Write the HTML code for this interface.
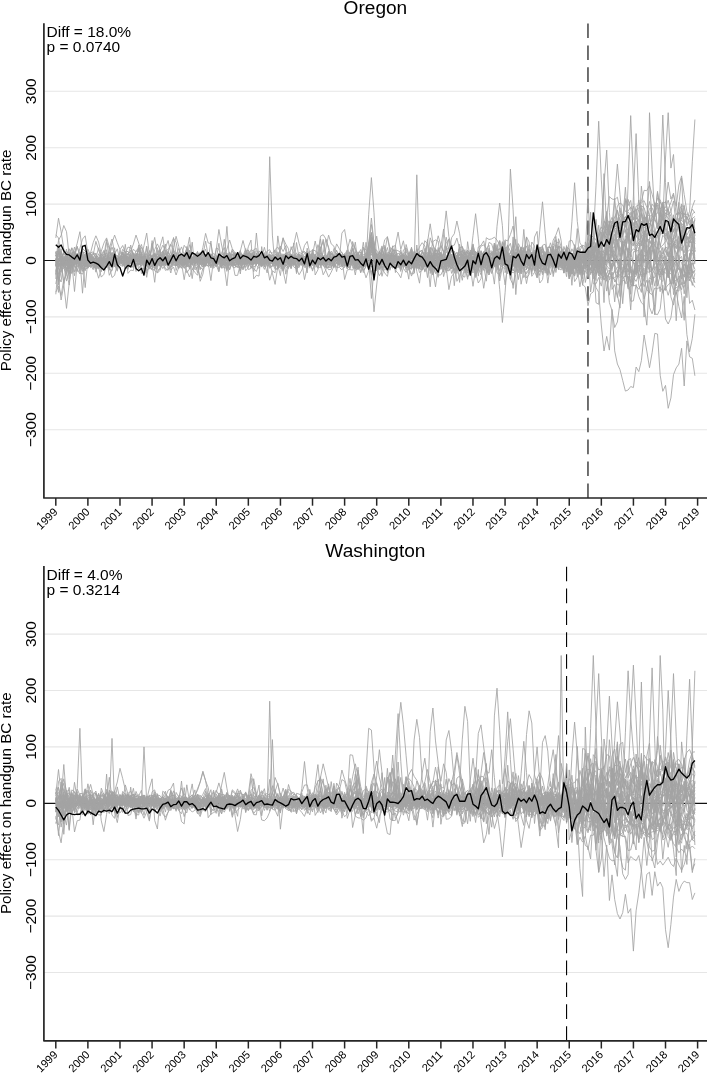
<!DOCTYPE html>
<html><head><meta charset="utf-8"><title>Policy effect</title>
<style>
html,body{margin:0;padding:0;background:#fff;}
body{width:707px;height:1073px;overflow:hidden;}
svg{display:block;}
.t{font-family:"Liberation Sans", Arial, Helvetica, sans-serif;font-size:15.5px;fill:#000;}
.tx{font-family:"Liberation Sans", Arial, Helvetica, sans-serif;font-size:11.2px;fill:#000;}
.ty{font-family:"Liberation Sans", Arial, Helvetica, sans-serif;font-size:15.2px;fill:#000;}
.ti{font-family:"Liberation Sans", Arial, Helvetica, sans-serif;font-size:19.1px;fill:#000;}
</style></head><body>
<svg width="707" height="1073" viewBox="0 0 707 1073">
<rect width="707" height="1073" fill="#fff"/>
<line x1="43.9" y1="91.30" x2="707" y2="91.30" stroke="#e6e6e6" stroke-width="1.1"/>
<line x1="43.9" y1="147.70" x2="707" y2="147.70" stroke="#e6e6e6" stroke-width="1.1"/>
<line x1="43.9" y1="204.10" x2="707" y2="204.10" stroke="#e6e6e6" stroke-width="1.1"/>
<line x1="43.9" y1="316.90" x2="707" y2="316.90" stroke="#e6e6e6" stroke-width="1.1"/>
<line x1="43.9" y1="373.30" x2="707" y2="373.30" stroke="#e6e6e6" stroke-width="1.1"/>
<line x1="43.9" y1="429.70" x2="707" y2="429.70" stroke="#e6e6e6" stroke-width="1.1"/>
<line x1="43.9" y1="260.50" x2="707" y2="260.50" stroke="#111" stroke-width="1.2"/>
<line x1="587.96" y1="498.00" x2="587.96" y2="23.30" stroke="#6a6a6a" stroke-width="1.9" stroke-dasharray="14.6 7.3"/>
<polyline points="55.8,237.9 58.5,218.2 61.1,231.6 63.8,249.2 66.5,255.7 69.2,273.4 71.8,259.5 74.5,259.4 77.2,259.6 79.9,262.5 82.5,257.5 85.2,254.6 87.9,259.2 90.6,260.9 93.2,263.2 95.9,262.3 98.6,258.6 101.3,259.8 103.9,263.8 106.6,259.5 109.3,256.8 112.0,259.9 114.6,254.8 117.3,255.5 120.0,259.3 122.7,257.5 125.3,268.4 128.0,262.1 130.7,252.2 133.4,254.1 136.0,261.7 138.7,261.2 141.4,263.1 144.0,264.3 146.7,262.1 149.4,262.6 152.1,265.9 154.7,261.9 157.4,268.8 160.1,254.7 162.8,256.4 165.4,258.8 168.1,251.0 170.8,257.0 173.5,258.3 176.1,255.4 178.8,248.5 181.5,255.7 184.2,245.3 186.8,248.8 189.5,253.9 192.2,262.3 194.9,264.1 197.5,257.7 200.2,260.0 202.9,261.9 205.6,255.3 208.2,259.4 210.9,254.7 213.6,256.7 216.2,261.4 218.9,269.1 221.6,264.1 224.3,255.1 226.9,258.7 229.6,264.4 232.3,266.0 235.0,263.5 237.6,263.1 240.3,261.6 243.0,263.2 245.7,254.5 248.3,254.8 251.0,264.9 253.7,254.7 256.4,260.9 259.0,260.4 261.7,257.1 264.4,247.3 267.1,258.5 269.7,260.4 272.4,264.5 275.1,261.4 277.8,261.7 280.4,263.7 283.1,259.2 285.8,259.4 288.5,257.3 291.1,256.0 293.8,257.2 296.5,260.6 299.1,257.8 301.8,265.1 304.5,262.2 307.2,259.8 309.8,261.6 312.5,264.7 315.2,262.1 317.9,263.3 320.5,252.7 323.2,256.6 325.9,267.6 328.6,260.6 331.2,265.1 333.9,266.4 336.6,262.2 339.3,259.0 341.9,254.8 344.6,256.3 347.3,258.9 350.0,258.6 352.6,253.7 355.3,261.5 358.0,261.6 360.7,265.1 363.3,263.4 366.0,255.6 368.7,249.0 371.4,241.7 374.0,256.7 376.7,255.8 379.4,262.0 382.0,263.1 384.7,267.0 387.4,266.7 390.1,256.6 392.7,260.2 395.4,249.9 398.1,250.8 400.8,252.3 403.4,262.8 406.1,261.7 408.8,270.4 411.5,262.3 414.1,263.5 416.8,262.1 419.5,253.4 422.2,255.7 424.8,259.3 427.5,258.2 430.2,270.7 432.9,271.2 435.5,263.4 438.2,260.6 440.9,252.0 443.6,262.5 446.2,265.4 448.9,256.3 451.6,262.9 454.3,262.2 456.9,267.5 459.6,252.1 462.3,251.1 464.9,263.9 467.6,273.1 470.3,259.7 473.0,248.7 475.6,260.5 478.3,256.3 481.0,258.5 483.7,261.8 486.3,260.1 489.0,251.5 491.7,250.9 494.4,254.2 497.0,259.9 499.7,263.4 502.4,263.4 505.1,267.2 507.7,258.3 510.4,259.2 513.1,260.1 515.8,265.6 518.4,264.9 521.1,252.5 523.8,252.4 526.5,245.9 529.1,255.1 531.8,259.5 534.5,254.0 537.1,263.7 539.8,261.8 542.5,246.0 545.2,263.8 547.8,273.6 550.5,259.3 553.2,263.4 555.9,260.0 558.5,268.8 561.2,269.9 563.9,264.8 566.6,253.4 569.2,278.3 571.9,272.8 574.6,275.9 577.3,250.8 579.9,264.8 582.6,256.9 585.3,265.4 588.0,269.2 590.6,259.0 593.3,246.9 596.0,265.6 598.7,252.5 601.3,268.2 604.0,267.0 606.7,281.2 609.4,273.2 612.0,262.6 614.7,259.7 617.4,259.0 620.0,269.2 622.7,267.2 625.4,268.1 628.1,287.5 630.7,257.6 633.4,263.2 636.1,264.2 638.8,266.0 641.4,264.6 644.1,255.1 646.8,259.0 649.5,265.2 652.1,270.1 654.8,267.6 657.5,265.9 660.2,255.1 662.8,270.6 665.5,290.5 668.2,258.6 670.9,265.5 673.5,279.7 676.2,285.9 678.9,272.6 681.6,269.8 684.2,277.2 686.9,252.7 689.6,268.3 692.3,274.9 694.9,270.5" fill="none" stroke="#a3a3a3" stroke-width="0.85" stroke-linejoin="round"/>
<polyline points="55.8,260.1 58.5,240.4 61.1,235.4 63.8,225.5 66.5,231.7 69.2,256.2 71.8,263.9 74.5,253.0 77.2,243.3 79.9,231.7 82.5,252.3 85.2,252.8 87.9,266.5 90.6,255.9 93.2,253.0 95.9,256.9 98.6,264.5 101.3,269.1 103.9,258.1 106.6,260.4 109.3,266.3 112.0,277.5 114.6,275.4 117.3,264.0 120.0,260.8 122.7,266.1 125.3,261.0 128.0,263.1 130.7,267.2 133.4,266.3 136.0,254.8 138.7,257.0 141.4,267.9 144.0,268.8 146.7,263.4 149.4,266.9 152.1,266.7 154.7,267.7 157.4,269.9 160.1,269.6 162.8,262.2 165.4,257.2 168.1,255.8 170.8,260.7 173.5,237.5 176.1,254.1 178.8,258.2 181.5,260.4 184.2,260.2 186.8,246.5 189.5,261.3 192.2,278.6 194.9,258.7 197.5,254.2 200.2,253.2 202.9,263.9 205.6,259.2 208.2,259.8 210.9,261.6 213.6,264.3 216.2,259.5 218.9,258.8 221.6,258.6 224.3,257.0 226.9,226.4 229.6,261.3 232.3,255.1 235.0,253.5 237.6,259.3 240.3,273.9 243.0,256.0 245.7,248.5 248.3,258.0 251.0,249.5 253.7,251.4 256.4,261.7 259.0,264.9 261.7,252.0 264.4,258.0 267.1,262.0 269.7,268.3 272.4,266.0 275.1,261.9 277.8,259.5 280.4,266.0 283.1,269.7 285.8,255.8 288.5,251.8 291.1,254.7 293.8,262.6 296.5,268.8 299.1,274.8 301.8,270.0 304.5,262.6 307.2,261.2 309.8,262.6 312.5,265.5 315.2,261.4 317.9,267.3 320.5,248.3 323.2,241.7 325.9,259.9 328.6,251.2 331.2,259.2 333.9,260.3 336.6,271.6 339.3,257.3 341.9,257.7 344.6,258.1 347.3,268.5 350.0,257.1 352.6,248.2 355.3,265.5 358.0,269.5 360.7,263.0 363.3,248.8 366.0,249.4 368.7,254.3 371.4,252.4 374.0,252.1 376.7,236.1 379.4,252.6 382.0,263.2 384.7,246.6 387.4,273.2 390.1,263.3 392.7,245.8 395.4,272.6 398.1,261.2 400.8,263.6 403.4,257.6 406.1,265.2 408.8,279.2 411.5,247.2 414.1,272.8 416.8,245.0 419.5,266.6 422.2,256.2 424.8,258.0 427.5,263.4 430.2,286.8 432.9,255.9 435.5,257.2 438.2,269.8 440.9,265.3 443.6,259.6 446.2,272.7 448.9,266.8 451.6,256.1 454.3,285.7 456.9,260.2 459.6,282.4 462.3,246.4 464.9,254.0 467.6,251.9 470.3,266.7 473.0,286.3 475.6,268.3 478.3,261.9 481.0,266.5 483.7,260.9 486.3,250.7 489.0,260.5 491.7,261.9 494.4,264.1 497.0,266.0 499.7,253.1 502.4,249.0 505.1,251.4 507.7,252.1 510.4,265.3 513.1,256.9 515.8,253.1 518.4,251.3 521.1,263.5 523.8,229.4 526.5,259.9 529.1,264.8 531.8,257.8 534.5,258.3 537.1,258.6 539.8,247.7 542.5,246.9 545.2,261.4 547.8,265.5 550.5,267.7 553.2,265.3 555.9,263.4 558.5,246.6 561.2,248.2 563.9,264.5 566.6,265.8 569.2,263.0 571.9,273.2 574.6,260.9 577.3,276.8 579.9,263.2 582.6,278.7 585.3,241.9 588.0,250.5 590.6,239.3 593.3,258.1 596.0,302.7 598.7,304.3 601.3,237.7 604.0,221.2 606.7,224.5 609.4,237.6 612.0,289.4 614.7,284.6 617.4,297.5 620.0,284.0 622.7,271.6 625.4,264.2 628.1,248.0 630.7,271.1 633.4,286.2 636.1,254.6 638.8,285.5 641.4,292.4 644.1,244.7 646.8,273.3 649.5,307.3 652.1,313.8 654.8,304.5 657.5,267.8 660.2,258.8 662.8,247.4 665.5,264.1 668.2,262.1 670.9,227.3 673.5,271.8 676.2,320.8 678.9,276.0 681.6,295.3 684.2,320.3 686.9,265.1 689.6,303.4 692.3,300.2 694.9,310.0" fill="none" stroke="#a3a3a3" stroke-width="0.85" stroke-linejoin="round"/>
<polyline points="55.8,263.5 58.5,279.6 61.1,300.0 63.8,285.4 66.5,263.5 69.2,262.9 71.8,262.7 74.5,257.3 77.2,262.6 79.9,259.9 82.5,261.7 85.2,264.1 87.9,263.8 90.6,258.6 93.2,261.4 95.9,261.4 98.6,260.0 101.3,254.4 103.9,258.1 106.6,260.1 109.3,258.2 112.0,260.5 114.6,263.9 117.3,260.6 120.0,261.6 122.7,264.9 125.3,260.2 128.0,262.8 130.7,257.4 133.4,258.4 136.0,258.2 138.7,258.5 141.4,260.9 144.0,259.1 146.7,260.2 149.4,259.2 152.1,258.8 154.7,260.0 157.4,259.2 160.1,260.4 162.8,256.5 165.4,260.7 168.1,263.0 170.8,262.5 173.5,260.7 176.1,259.9 178.8,263.1 181.5,259.5 184.2,257.4 186.8,263.0 189.5,258.2 192.2,260.7 194.9,262.0 197.5,261.5 200.2,261.3 202.9,260.8 205.6,262.8 208.2,261.2 210.9,258.7 213.6,260.8 216.2,261.9 218.9,264.0 221.6,268.1 224.3,267.4 226.9,268.6 229.6,261.6 232.3,255.9 235.0,255.6 237.6,259.3 240.3,256.6 243.0,259.9 245.7,263.7 248.3,262.8 251.0,260.6 253.7,258.7 256.4,259.9 259.0,261.4 261.7,261.6 264.4,263.3 267.1,261.9 269.7,260.1 272.4,263.5 275.1,264.0 277.8,261.8 280.4,261.1 283.1,263.3 285.8,261.8 288.5,263.4 291.1,258.5 293.8,260.6 296.5,260.4 299.1,265.1 301.8,261.4 304.5,262.9 307.2,263.9 309.8,262.4 312.5,263.4 315.2,258.5 317.9,260.1 320.5,263.0 323.2,262.3 325.9,262.2 328.6,257.6 331.2,257.8 333.9,259.8 336.6,260.1 339.3,264.4 341.9,263.3 344.6,254.6 347.3,249.9 350.0,239.2 352.6,246.0 355.3,256.6 358.0,268.0 360.7,263.7 363.3,259.6 366.0,261.7 368.7,254.3 371.4,248.1 374.0,257.2 376.7,253.9 379.4,259.5 382.0,261.5 384.7,262.7 387.4,257.8 390.1,258.3 392.7,252.9 395.4,258.8 398.1,264.3 400.8,265.3 403.4,263.0 406.1,261.0 408.8,267.8 411.5,263.8 414.1,260.7 416.8,263.7 419.5,264.2 422.2,262.9 424.8,261.9 427.5,259.7 430.2,260.7 432.9,259.8 435.5,258.3 438.2,260.5 440.9,261.7 443.6,264.1 446.2,265.3 448.9,258.7 451.6,259.9 454.3,255.5 456.9,259.2 459.6,254.2 462.3,254.3 464.9,256.9 467.6,256.7 470.3,252.4 473.0,254.3 475.6,254.8 478.3,258.8 481.0,260.8 483.7,258.1 486.3,262.4 489.0,261.8 491.7,264.2 494.4,266.5 497.0,264.0 499.7,270.9 502.4,258.3 505.1,239.8 507.7,241.0 510.4,234.6 513.1,226.0 515.8,245.7 518.4,259.3 521.1,258.9 523.8,260.7 526.5,264.5 529.1,259.7 531.8,254.6 534.5,252.7 537.1,258.6 539.8,262.1 542.5,264.2 545.2,262.0 547.8,255.8 550.5,261.6 553.2,265.6 555.9,249.5 558.5,259.9 561.2,263.9 563.9,261.4 566.6,259.3 569.2,265.5 571.9,263.3 574.6,263.1 577.3,266.2 579.9,258.9 582.6,253.1 585.3,256.1 588.0,243.1 590.6,260.9 593.3,246.0 596.0,250.5 598.7,251.2 601.3,257.2 604.0,258.6 606.7,250.3 609.4,262.3 612.0,278.9 614.7,269.9 617.4,267.1 620.0,269.5 622.7,260.4 625.4,259.1 628.1,259.9 630.7,268.6 633.4,272.4 636.1,273.5 638.8,267.5 641.4,249.4 644.1,261.4 646.8,254.6 649.5,247.6 652.1,277.6 654.8,277.3 657.5,272.0 660.2,268.6 662.8,263.2 665.5,259.4 668.2,274.0 670.9,283.6 673.5,256.0 676.2,262.8 678.9,269.9 681.6,269.2 684.2,257.5 686.9,252.4 689.6,249.8 692.3,252.8 694.9,262.0" fill="none" stroke="#a3a3a3" stroke-width="0.85" stroke-linejoin="round"/>
<polyline points="55.8,252.3 58.5,261.8 61.1,259.2 63.8,284.5 66.5,308.4 69.2,283.4 71.8,258.6 74.5,271.8 77.2,260.8 79.9,255.7 82.5,271.5 85.2,266.0 87.9,265.3 90.6,266.2 93.2,258.9 95.9,260.4 98.6,257.9 101.3,263.5 103.9,263.3 106.6,249.7 109.3,265.5 112.0,265.2 114.6,266.4 117.3,261.9 120.0,264.6 122.7,256.5 125.3,255.9 128.0,258.5 130.7,253.3 133.4,267.2 136.0,255.6 138.7,250.0 141.4,257.0 144.0,261.5 146.7,254.4 149.4,258.9 152.1,248.4 154.7,237.4 157.4,253.8 160.1,259.0 162.8,265.8 165.4,259.0 168.1,257.3 170.8,262.5 173.5,260.8 176.1,255.9 178.8,260.6 181.5,264.7 184.2,262.7 186.8,263.1 189.5,259.2 192.2,258.1 194.9,257.0 197.5,265.1 200.2,252.4 202.9,255.2 205.6,249.2 208.2,259.3 210.9,254.3 213.6,266.4 216.2,259.3 218.9,264.7 221.6,260.5 224.3,266.1 226.9,267.7 229.6,257.8 232.3,254.1 235.0,258.0 237.6,254.2 240.3,262.2 243.0,257.2 245.7,259.5 248.3,253.4 251.0,260.9 253.7,256.5 256.4,260.9 259.0,250.8 261.7,255.2 264.4,262.8 267.1,259.5 269.7,264.5 272.4,258.4 275.1,264.6 277.8,254.5 280.4,250.6 283.1,238.3 285.8,244.1 288.5,248.8 291.1,268.3 293.8,260.7 296.5,259.3 299.1,256.1 301.8,255.8 304.5,259.2 307.2,257.6 309.8,264.4 312.5,264.2 315.2,262.1 317.9,262.1 320.5,264.8 323.2,256.4 325.9,254.6 328.6,257.9 331.2,259.4 333.9,256.8 336.6,259.7 339.3,260.7 341.9,265.7 344.6,261.9 347.3,263.1 350.0,267.5 352.6,262.8 355.3,262.4 358.0,261.6 360.7,267.1 363.3,268.1 366.0,258.7 368.7,251.8 371.4,240.3 374.0,252.7 376.7,266.1 379.4,267.5 382.0,266.6 384.7,267.8 387.4,265.0 390.1,262.6 392.7,258.1 395.4,259.1 398.1,259.1 400.8,259.8 403.4,263.9 406.1,258.4 408.8,254.6 411.5,250.8 414.1,265.2 416.8,268.1 419.5,254.7 422.2,269.9 424.8,263.7 427.5,260.2 430.2,255.6 432.9,262.4 435.5,253.2 438.2,258.1 440.9,246.0 443.6,229.1 446.2,250.0 448.9,247.5 451.6,265.6 454.3,260.8 456.9,255.8 459.6,258.2 462.3,257.2 464.9,256.9 467.6,260.3 470.3,266.1 473.0,262.7 475.6,262.5 478.3,251.7 481.0,272.0 483.7,253.8 486.3,260.5 489.0,254.5 491.7,264.0 494.4,254.0 497.0,254.1 499.7,261.9 502.4,256.4 505.1,256.5 507.7,268.4 510.4,269.0 513.1,260.8 515.8,267.6 518.4,265.8 521.1,273.8 523.8,252.3 526.5,251.0 529.1,263.7 531.8,270.4 534.5,256.3 537.1,251.0 539.8,259.0 542.5,263.8 545.2,270.5 547.8,257.1 550.5,253.6 553.2,252.7 555.9,262.7 558.5,257.9 561.2,261.8 563.9,256.7 566.6,249.2 569.2,264.9 571.9,270.3 574.6,255.4 577.3,265.2 579.9,273.7 582.6,259.8 585.3,256.9 588.0,255.6 590.6,235.8 593.3,236.8 596.0,249.8 598.7,225.1 601.3,251.3 604.0,271.8 606.7,211.4 609.4,262.7 612.0,240.1 614.7,265.7 617.4,242.5 620.0,269.2 622.7,246.2 625.4,255.2 628.1,229.0 630.7,267.8 633.4,286.0 636.1,251.3 638.8,231.6 641.4,235.5 644.1,265.7 646.8,268.4 649.5,237.7 652.1,238.9 654.8,254.4 657.5,270.8 660.2,269.4 662.8,270.7 665.5,267.4 668.2,243.7 670.9,263.7 673.5,284.3 676.2,269.3 678.9,239.5 681.6,207.9 684.2,223.9 686.9,270.8 689.6,258.1 692.3,273.2 694.9,269.7" fill="none" stroke="#a3a3a3" stroke-width="0.85" stroke-linejoin="round"/>
<polyline points="55.8,272.1 58.5,267.9 61.1,272.4 63.8,259.2 66.5,259.4 69.2,253.1 71.8,262.1 74.5,291.5 77.2,263.3 79.9,256.7 82.5,261.7 85.2,260.0 87.9,261.2 90.6,259.0 93.2,257.4 95.9,265.0 98.6,268.7 101.3,259.7 103.9,270.9 106.6,259.3 109.3,259.4 112.0,259.6 114.6,258.9 117.3,262.5 120.0,260.4 122.7,256.5 125.3,264.1 128.0,258.5 130.7,258.3 133.4,257.4 136.0,259.4 138.7,265.3 141.4,262.3 144.0,256.9 146.7,260.1 149.4,262.5 152.1,261.5 154.7,259.2 157.4,260.5 160.1,253.8 162.8,261.2 165.4,263.4 168.1,260.9 170.8,262.4 173.5,263.3 176.1,262.7 178.8,254.2 181.5,259.5 184.2,262.1 186.8,263.8 189.5,264.5 192.2,260.8 194.9,262.5 197.5,262.2 200.2,257.0 202.9,251.9 205.6,262.2 208.2,262.8 210.9,267.7 213.6,264.8 216.2,263.0 218.9,260.9 221.6,262.6 224.3,257.4 226.9,258.5 229.6,253.5 232.3,260.6 235.0,252.2 237.6,262.7 240.3,262.2 243.0,260.3 245.7,260.3 248.3,256.8 251.0,260.5 253.7,261.9 256.4,261.3 259.0,262.5 261.7,258.5 264.4,257.3 267.1,260.1 269.7,261.2 272.4,257.3 275.1,263.3 277.8,261.6 280.4,261.0 283.1,259.2 285.8,253.4 288.5,260.3 291.1,263.9 293.8,259.7 296.5,261.7 299.1,259.0 301.8,258.4 304.5,264.2 307.2,260.5 309.8,266.0 312.5,263.0 315.2,261.5 317.9,263.9 320.5,264.8 323.2,259.4 325.9,260.0 328.6,259.0 331.2,259.0 333.9,262.6 336.6,253.5 339.3,255.8 341.9,266.2 344.6,267.5 347.3,255.2 350.0,257.1 352.6,257.2 355.3,260.8 358.0,260.5 360.7,272.8 363.3,260.4 366.0,260.0 368.7,270.5 371.4,272.2 374.0,264.9 376.7,268.8 379.4,259.1 382.0,253.3 384.7,258.9 387.4,259.8 390.1,262.9 392.7,254.7 395.4,260.3 398.1,256.2 400.8,269.3 403.4,255.1 406.1,264.4 408.8,267.6 411.5,267.9 414.1,255.0 416.8,253.7 419.5,246.8 422.2,242.7 424.8,246.0 427.5,257.8 430.2,250.3 432.9,263.5 435.5,267.4 438.2,271.0 440.9,259.2 443.6,252.3 446.2,237.2 448.9,249.8 451.6,257.5 454.3,261.8 456.9,255.6 459.6,263.2 462.3,259.6 464.9,261.2 467.6,263.0 470.3,264.5 473.0,249.9 475.6,254.3 478.3,262.3 481.0,267.9 483.7,262.4 486.3,253.7 489.0,242.4 491.7,243.9 494.4,253.5 497.0,255.1 499.7,251.9 502.4,265.4 505.1,252.7 507.7,259.0 510.4,274.1 513.1,265.2 515.8,264.4 518.4,260.0 521.1,246.9 523.8,249.4 526.5,255.6 529.1,266.0 531.8,259.2 534.5,250.3 537.1,259.4 539.8,264.0 542.5,263.8 545.2,265.2 547.8,261.1 550.5,266.3 553.2,260.3 555.9,262.8 558.5,254.9 561.2,251.6 563.9,254.8 566.6,256.2 569.2,268.3 571.9,261.8 574.6,263.9 577.3,264.3 579.9,271.6 582.6,259.7 585.3,263.0 588.0,272.8 590.6,268.1 593.3,261.3 596.0,273.6 598.7,255.8 601.3,259.6 604.0,258.5 606.7,266.0 609.4,247.6 612.0,248.0 614.7,269.6 617.4,273.5 620.0,261.7 622.7,264.2 625.4,270.4 628.1,289.1 630.7,286.8 633.4,281.7 636.1,269.6 638.8,247.2 641.4,245.3 644.1,231.1 646.8,248.6 649.5,268.0 652.1,273.5 654.8,286.2 657.5,269.7 660.2,250.5 662.8,258.9 665.5,255.4 668.2,251.6 670.9,266.7 673.5,273.5 676.2,261.9 678.9,266.7 681.6,269.5 684.2,293.8 686.9,275.8 689.6,256.5 692.3,249.8 694.9,255.3" fill="none" stroke="#a3a3a3" stroke-width="0.85" stroke-linejoin="round"/>
<polyline points="55.8,259.2 58.5,255.9 61.1,261.3 63.8,263.5 66.5,258.4 69.2,256.8 71.8,257.8 74.5,260.6 77.2,262.3 79.9,259.6 82.5,293.2 85.2,259.0 87.9,255.1 90.6,260.8 93.2,262.5 95.9,262.7 98.6,258.5 101.3,263.0 103.9,260.8 106.6,259.0 109.3,260.4 112.0,258.1 114.6,259.4 117.3,258.6 120.0,259.3 122.7,261.1 125.3,257.1 128.0,257.6 130.7,262.8 133.4,260.7 136.0,260.4 138.7,264.8 141.4,260.3 144.0,261.5 146.7,261.1 149.4,254.9 152.1,256.7 154.7,260.1 157.4,254.4 160.1,257.9 162.8,258.2 165.4,258.5 168.1,261.4 170.8,260.1 173.5,258.9 176.1,258.7 178.8,261.1 181.5,264.5 184.2,254.3 186.8,248.9 189.5,252.4 192.2,260.0 194.9,263.4 197.5,260.6 200.2,260.3 202.9,260.7 205.6,262.1 208.2,266.7 210.9,264.2 213.6,265.4 216.2,262.8 218.9,257.9 221.6,261.9 224.3,258.6 226.9,260.2 229.6,263.9 232.3,261.3 235.0,258.0 237.6,263.2 240.3,263.4 243.0,261.0 245.7,261.3 248.3,260.2 251.0,261.3 253.7,256.0 256.4,255.0 259.0,259.9 261.7,265.9 264.4,262.2 267.1,262.0 269.7,263.4 272.4,260.3 275.1,260.6 277.8,259.6 280.4,264.6 283.1,262.5 285.8,259.4 288.5,257.8 291.1,255.3 293.8,259.5 296.5,262.0 299.1,260.8 301.8,261.9 304.5,262.8 307.2,262.7 309.8,261.8 312.5,262.8 315.2,260.8 317.9,258.0 320.5,260.4 323.2,263.7 325.9,258.2 328.6,259.1 331.2,263.6 333.9,261.6 336.6,256.0 339.3,259.6 341.9,257.1 344.6,258.2 347.3,250.1 350.0,264.3 352.6,259.3 355.3,259.0 358.0,264.2 360.7,258.3 363.3,260.5 366.0,263.1 368.7,244.5 371.4,224.5 374.0,242.5 376.7,262.2 379.4,263.0 382.0,259.3 384.7,261.7 387.4,261.8 390.1,261.8 392.7,260.5 395.4,259.1 398.1,260.7 400.8,264.0 403.4,262.7 406.1,264.8 408.8,258.1 411.5,258.4 414.1,257.6 416.8,264.7 419.5,261.3 422.2,259.9 424.8,257.3 427.5,257.1 430.2,260.2 432.9,261.2 435.5,261.7 438.2,262.0 440.9,262.2 443.6,262.1 446.2,264.0 448.9,258.6 451.6,257.2 454.3,263.0 456.9,258.6 459.6,263.9 462.3,265.6 464.9,261.4 467.6,259.3 470.3,260.2 473.0,257.4 475.6,257.3 478.3,263.8 481.0,255.2 483.7,262.1 486.3,262.5 489.0,263.0 491.7,265.6 494.4,260.1 497.0,264.3 499.7,255.4 502.4,257.7 505.1,261.1 507.7,258.0 510.4,266.0 513.1,264.4 515.8,265.4 518.4,261.6 521.1,257.9 523.8,256.3 526.5,263.6 529.1,265.9 531.8,263.3 534.5,266.1 537.1,265.3 539.8,258.0 542.5,260.2 545.2,255.6 547.8,256.4 550.5,256.5 553.2,256.7 555.9,263.4 558.5,265.1 561.2,260.1 563.9,263.1 566.6,261.5 569.2,272.3 571.9,264.2 574.6,267.6 577.3,259.1 579.9,256.4 582.6,252.6 585.3,263.9 588.0,262.1 590.6,259.4 593.3,256.8 596.0,257.3 598.7,257.3 601.3,265.3 604.0,280.2 606.7,273.1 609.4,269.9 612.0,279.2 614.7,277.5 617.4,275.8 620.0,277.3 622.7,275.8 625.4,283.8 628.1,282.1 630.7,270.1 633.4,275.7 636.1,266.7 638.8,274.2 641.4,273.9 644.1,280.7 646.8,266.2 649.5,261.5 652.1,270.5 654.8,263.5 657.5,264.5 660.2,273.5 662.8,264.1 665.5,263.2 668.2,270.2 670.9,283.8 673.5,282.4 676.2,280.1 678.9,278.6 681.6,270.8 684.2,276.8 686.9,272.9 689.6,271.9 692.3,285.4 694.9,273.3" fill="none" stroke="#a3a3a3" stroke-width="0.85" stroke-linejoin="round"/>
<polyline points="55.8,271.1 58.5,260.2 61.1,248.8 63.8,266.3 66.5,255.8 69.2,248.8 71.8,257.5 74.5,256.4 77.2,246.4 79.9,257.1 82.5,258.5 85.2,287.6 87.9,259.9 90.6,258.4 93.2,254.8 95.9,241.4 98.6,250.0 101.3,257.7 103.9,260.3 106.6,261.7 109.3,261.8 112.0,261.2 114.6,264.3 117.3,262.0 120.0,259.8 122.7,263.6 125.3,263.2 128.0,262.4 130.7,265.9 133.4,259.7 136.0,263.1 138.7,264.7 141.4,263.1 144.0,261.8 146.7,258.2 149.4,262.1 152.1,240.6 154.7,257.0 157.4,247.7 160.1,261.0 162.8,253.2 165.4,244.1 168.1,263.0 170.8,262.3 173.5,258.3 176.1,257.7 178.8,259.3 181.5,260.4 184.2,262.3 186.8,262.0 189.5,260.1 192.2,263.3 194.9,261.5 197.5,261.1 200.2,263.3 202.9,260.6 205.6,259.0 208.2,259.3 210.9,266.2 213.6,258.5 216.2,260.0 218.9,260.9 221.6,266.2 224.3,261.6 226.9,257.9 229.6,262.8 232.3,265.4 235.0,262.9 237.6,259.9 240.3,262.2 243.0,264.3 245.7,261.0 248.3,263.2 251.0,262.8 253.7,257.0 256.4,264.6 259.0,261.0 261.7,264.5 264.4,265.1 267.1,257.6 269.7,258.7 272.4,261.7 275.1,266.4 277.8,261.6 280.4,263.5 283.1,263.0 285.8,257.8 288.5,256.7 291.1,258.1 293.8,256.6 296.5,266.5 299.1,267.6 301.8,260.2 304.5,260.9 307.2,258.9 309.8,267.2 312.5,260.9 315.2,259.2 317.9,263.1 320.5,258.4 323.2,257.0 325.9,262.6 328.6,263.1 331.2,260.0 333.9,267.4 336.6,253.2 339.3,256.6 341.9,260.6 344.6,264.8 347.3,261.8 350.0,256.8 352.6,259.8 355.3,264.6 358.0,264.2 360.7,263.0 363.3,264.4 366.0,265.7 368.7,252.1 371.4,243.3 374.0,241.6 376.7,262.6 379.4,269.8 382.0,263.9 384.7,256.9 387.4,264.5 390.1,258.2 392.7,259.6 395.4,255.8 398.1,258.7 400.8,249.9 403.4,259.5 406.1,264.2 408.8,268.2 411.5,269.1 414.1,264.2 416.8,261.2 419.5,260.5 422.2,263.8 424.8,265.1 427.5,257.6 430.2,262.8 432.9,265.5 435.5,273.6 438.2,264.3 440.9,255.2 443.6,259.5 446.2,259.6 448.9,265.6 451.6,261.8 454.3,255.9 456.9,262.5 459.6,262.0 462.3,265.1 464.9,260.1 467.6,258.3 470.3,252.1 473.0,247.6 475.6,254.4 478.3,261.8 481.0,263.7 483.7,251.4 486.3,259.7 489.0,259.6 491.7,257.8 494.4,260.3 497.0,265.1 499.7,258.8 502.4,247.3 505.1,251.6 507.7,260.4 510.4,265.7 513.1,264.3 515.8,253.1 518.4,258.3 521.1,253.9 523.8,255.5 526.5,260.4 529.1,260.3 531.8,254.1 534.5,252.0 537.1,271.1 539.8,263.7 542.5,263.8 545.2,265.9 547.8,252.4 550.5,256.7 553.2,261.8 555.9,257.1 558.5,263.9 561.2,262.3 563.9,269.3 566.6,256.6 569.2,265.9 571.9,256.4 574.6,268.1 577.3,262.4 579.9,256.7 582.6,257.3 585.3,251.6 588.0,251.2 590.6,244.7 593.3,241.8 596.0,254.2 598.7,263.6 601.3,258.1 604.0,249.5 606.7,241.5 609.4,240.5 612.0,245.9 614.7,234.1 617.4,242.1 620.0,236.0 622.7,234.6 625.4,224.4 628.1,230.4 630.7,220.2 633.4,224.6 636.1,226.8 638.8,229.4 641.4,231.0 644.1,218.1 646.8,239.9 649.5,239.3 652.1,245.3 654.8,232.1 657.5,231.9 660.2,234.0 662.8,233.4 665.5,233.3 668.2,238.5 670.9,251.5 673.5,214.8 676.2,233.6 678.9,224.8 681.6,219.5 684.2,205.2 686.9,226.1 689.6,220.7 692.3,234.6 694.9,228.8" fill="none" stroke="#a3a3a3" stroke-width="0.85" stroke-linejoin="round"/>
<polyline points="55.8,294.3 58.5,264.0 61.1,266.2 63.8,256.1 66.5,260.0 69.2,266.3 71.8,260.0 74.5,256.3 77.2,259.6 79.9,263.6 82.5,261.7 85.2,259.4 87.9,259.6 90.6,258.5 93.2,258.8 95.9,258.8 98.6,259.9 101.3,257.3 103.9,261.7 106.6,260.5 109.3,258.5 112.0,257.7 114.6,256.7 117.3,260.0 120.0,260.7 122.7,261.6 125.3,259.5 128.0,263.1 130.7,254.6 133.4,258.6 136.0,265.2 138.7,263.6 141.4,260.5 144.0,255.7 146.7,263.9 149.4,266.1 152.1,260.7 154.7,265.8 157.4,264.3 160.1,262.6 162.8,261.6 165.4,261.9 168.1,251.9 170.8,260.7 173.5,262.8 176.1,259.9 178.8,256.3 181.5,262.0 184.2,257.3 186.8,261.2 189.5,262.7 192.2,263.7 194.9,260.9 197.5,260.2 200.2,258.4 202.9,264.8 205.6,261.6 208.2,260.4 210.9,259.2 213.6,258.5 216.2,258.9 218.9,263.0 221.6,262.3 224.3,260.0 226.9,260.7 229.6,264.4 232.3,263.7 235.0,259.9 237.6,257.5 240.3,257.5 243.0,257.3 245.7,257.7 248.3,263.7 251.0,257.9 253.7,249.7 256.4,248.4 259.0,256.0 261.7,258.1 264.4,258.6 267.1,258.7 269.7,254.8 272.4,257.8 275.1,260.9 277.8,259.5 280.4,260.9 283.1,264.4 285.8,260.6 288.5,259.9 291.1,262.4 293.8,260.9 296.5,257.1 299.1,260.8 301.8,258.9 304.5,263.4 307.2,265.9 309.8,260.4 312.5,262.2 315.2,263.1 317.9,262.3 320.5,257.7 323.2,261.0 325.9,261.6 328.6,259.2 331.2,261.0 333.9,255.2 336.6,256.9 339.3,258.8 341.9,258.2 344.6,261.5 347.3,262.5 350.0,262.4 352.6,259.8 355.3,269.2 358.0,262.7 360.7,264.3 363.3,260.9 366.0,257.6 368.7,255.9 371.4,254.3 374.0,258.2 376.7,270.8 379.4,265.9 382.0,262.2 384.7,261.4 387.4,260.3 390.1,254.4 392.7,261.0 395.4,259.1 398.1,256.2 400.8,259.7 403.4,268.3 406.1,272.4 408.8,267.7 411.5,263.3 414.1,263.0 416.8,263.9 419.5,259.0 422.2,262.9 424.8,265.3 427.5,261.4 430.2,260.2 432.9,261.2 435.5,258.5 438.2,265.0 440.9,257.0 443.6,257.7 446.2,256.7 448.9,266.6 451.6,267.7 454.3,263.2 456.9,258.4 459.6,261.0 462.3,250.1 464.9,255.8 467.6,258.1 470.3,257.4 473.0,267.8 475.6,265.7 478.3,257.0 481.0,257.7 483.7,267.9 486.3,259.3 489.0,268.0 491.7,253.4 494.4,263.0 497.0,266.5 499.7,240.9 502.4,259.1 505.1,265.1 507.7,261.3 510.4,261.8 513.1,258.5 515.8,265.0 518.4,253.7 521.1,261.3 523.8,258.1 526.5,261.0 529.1,260.6 531.8,261.9 534.5,264.3 537.1,264.8 539.8,263.4 542.5,264.2 545.2,270.5 547.8,253.2 550.5,260.7 553.2,255.8 555.9,265.2 558.5,260.2 561.2,254.5 563.9,255.8 566.6,264.7 569.2,270.6 571.9,258.4 574.6,259.2 577.3,263.0 579.9,266.7 582.6,266.5 585.3,260.2 588.0,256.9 590.6,264.5 593.3,262.5 596.0,265.9 598.7,250.9 601.3,251.4 604.0,251.6 606.7,246.3 609.4,244.1 612.0,253.5 614.7,226.1 617.4,220.7 620.0,229.1 622.7,217.2 625.4,221.3 628.1,221.7 630.7,225.9 633.4,223.4 636.1,221.4 638.8,229.3 641.4,225.5 644.1,227.4 646.8,228.8 649.5,227.9 652.1,215.9 654.8,217.9 657.5,228.7 660.2,212.0 662.8,220.2 665.5,213.0 668.2,214.8 670.9,211.7 673.5,200.9 676.2,225.8 678.9,221.6 681.6,220.5 684.2,222.5 686.9,235.2 689.6,229.7 692.3,237.1 694.9,239.3" fill="none" stroke="#a3a3a3" stroke-width="0.85" stroke-linejoin="round"/>
<polyline points="55.8,255.3 58.5,261.1 61.1,251.7 63.8,262.1 66.5,253.9 69.2,252.8 71.8,266.2 74.5,255.4 77.2,246.6 79.9,254.9 82.5,257.9 85.2,267.3 87.9,260.0 90.6,261.8 93.2,256.4 95.9,264.5 98.6,268.0 101.3,265.7 103.9,268.4 106.6,258.0 109.3,261.9 112.0,252.9 114.6,253.9 117.3,261.1 120.0,260.6 122.7,261.8 125.3,262.5 128.0,264.7 130.7,263.3 133.4,262.5 136.0,260.0 138.7,253.5 141.4,259.4 144.0,266.6 146.7,260.8 149.4,255.0 152.1,256.0 154.7,263.8 157.4,256.8 160.1,263.5 162.8,261.4 165.4,268.4 168.1,270.3 170.8,260.4 173.5,256.2 176.1,255.6 178.8,257.2 181.5,257.3 184.2,261.7 186.8,263.2 189.5,266.8 192.2,257.5 194.9,260.2 197.5,259.1 200.2,254.1 202.9,265.6 205.6,264.9 208.2,258.8 210.9,253.6 213.6,266.6 216.2,259.0 218.9,254.6 221.6,256.7 224.3,261.9 226.9,259.3 229.6,260.5 232.3,264.1 235.0,262.5 237.6,260.1 240.3,254.1 243.0,254.5 245.7,264.5 248.3,262.6 251.0,259.6 253.7,259.3 256.4,265.4 259.0,268.5 261.7,262.9 264.4,269.4 267.1,261.9 269.7,156.7 272.4,235.1 275.1,267.8 277.8,268.8 280.4,258.0 283.1,261.7 285.8,262.7 288.5,264.0 291.1,259.2 293.8,261.0 296.5,260.6 299.1,252.6 301.8,253.4 304.5,259.1 307.2,251.3 309.8,256.6 312.5,256.3 315.2,261.1 317.9,262.2 320.5,261.9 323.2,264.2 325.9,261.2 328.6,259.3 331.2,267.7 333.9,256.8 336.6,256.9 339.3,264.7 341.9,256.9 344.6,256.5 347.3,266.7 350.0,268.6 352.6,256.5 355.3,242.1 358.0,263.5 360.7,259.7 363.3,242.2 366.0,260.7 368.7,267.6 371.4,261.6 374.0,261.4 376.7,264.1 379.4,268.7 382.0,249.1 384.7,245.4 387.4,259.2 390.1,255.4 392.7,268.3 395.4,264.9 398.1,265.8 400.8,264.7 403.4,260.4 406.1,270.3 408.8,267.6 411.5,269.1 414.1,251.4 416.8,256.4 419.5,260.3 422.2,262.6 424.8,260.2 427.5,262.9 430.2,264.1 432.9,256.3 435.5,254.8 438.2,258.3 440.9,253.1 443.6,267.3 446.2,266.5 448.9,270.7 451.6,266.3 454.3,260.0 456.9,281.3 459.6,275.8 462.3,267.4 464.9,269.7 467.6,259.0 470.3,262.5 473.0,264.5 475.6,273.7 478.3,271.1 481.0,250.6 483.7,257.5 486.3,259.4 489.0,252.9 491.7,254.5 494.4,252.2 497.0,248.1 499.7,261.0 502.4,241.6 505.1,247.3 507.7,262.8 510.4,279.2 513.1,284.9 515.8,274.6 518.4,257.8 521.1,250.9 523.8,251.4 526.5,253.3 529.1,257.6 531.8,258.2 534.5,263.3 537.1,277.7 539.8,257.1 542.5,269.9 545.2,254.5 547.8,247.6 550.5,247.5 553.2,260.7 555.9,260.9 558.5,256.0 561.2,255.6 563.9,256.5 566.6,257.8 569.2,250.3 571.9,268.1 574.6,248.8 577.3,250.9 579.9,259.0 582.6,259.4 585.3,252.0 588.0,256.5 590.6,253.2 593.3,247.5 596.0,264.8 598.7,248.4 601.3,246.3 604.0,224.2 606.7,212.8 609.4,232.9 612.0,222.6 614.7,217.1 617.4,210.5 620.0,221.4 622.7,253.8 625.4,235.9 628.1,237.1 630.7,243.0 633.4,236.4 636.1,208.8 638.8,228.2 641.4,221.3 644.1,231.8 646.8,230.9 649.5,216.8 652.1,233.4 654.8,202.8 657.5,207.6 660.2,223.8 662.8,217.9 665.5,201.4 668.2,211.3 670.9,235.1 673.5,231.1 676.2,228.3 678.9,202.4 681.6,235.8 684.2,227.5 686.9,238.7 689.6,238.1 692.3,234.0 694.9,251.3" fill="none" stroke="#a3a3a3" stroke-width="0.85" stroke-linejoin="round"/>
<polyline points="55.8,274.1 58.5,245.1 61.1,260.6 63.8,267.0 66.5,267.7 69.2,268.9 71.8,267.0 74.5,261.4 77.2,262.3 79.9,263.7 82.5,256.8 85.2,262.0 87.9,261.5 90.6,266.2 93.2,259.1 95.9,269.1 98.6,264.2 101.3,262.1 103.9,255.6 106.6,239.4 109.3,261.4 112.0,264.4 114.6,264.1 117.3,260.6 120.0,260.9 122.7,262.3 125.3,258.7 128.0,253.1 130.7,259.7 133.4,258.8 136.0,263.9 138.7,263.1 141.4,259.8 144.0,255.9 146.7,257.8 149.4,264.4 152.1,257.0 154.7,261.8 157.4,261.5 160.1,263.4 162.8,263.8 165.4,264.4 168.1,263.4 170.8,261.4 173.5,254.4 176.1,264.1 178.8,262.6 181.5,256.7 184.2,262.6 186.8,257.7 189.5,257.8 192.2,260.0 194.9,261.3 197.5,257.1 200.2,264.7 202.9,255.6 205.6,241.1 208.2,255.7 210.9,259.8 213.6,258.0 216.2,261.6 218.9,258.2 221.6,255.7 224.3,259.2 226.9,258.3 229.6,260.6 232.3,260.3 235.0,259.6 237.6,257.1 240.3,250.4 243.0,262.1 245.7,257.3 248.3,262.1 251.0,263.5 253.7,263.1 256.4,264.6 259.0,258.5 261.7,259.4 264.4,262.0 267.1,259.7 269.7,255.6 272.4,262.8 275.1,269.3 277.8,269.2 280.4,260.1 283.1,259.6 285.8,261.8 288.5,257.8 291.1,253.9 293.8,257.2 296.5,260.9 299.1,261.2 301.8,263.8 304.5,265.9 307.2,263.3 309.8,263.0 312.5,259.9 315.2,261.1 317.9,261.5 320.5,261.3 323.2,259.0 325.9,266.3 328.6,267.6 331.2,267.0 333.9,262.8 336.6,256.6 339.3,255.8 341.9,262.1 344.6,265.6 347.3,259.1 350.0,256.9 352.6,258.4 355.3,269.0 358.0,264.4 360.7,256.3 363.3,258.0 366.0,264.8 368.7,214.2 371.4,177.6 374.0,212.8 376.7,260.6 379.4,256.0 382.0,264.3 384.7,261.9 387.4,263.8 390.1,265.8 392.7,257.6 395.4,260.5 398.1,265.0 400.8,259.2 403.4,255.2 406.1,249.5 408.8,258.5 411.5,254.0 414.1,261.5 416.8,258.2 419.5,257.8 422.2,251.7 424.8,255.6 427.5,252.4 430.2,259.8 432.9,257.5 435.5,257.1 438.2,258.2 440.9,261.2 443.6,259.0 446.2,258.5 448.9,261.8 451.6,246.4 454.3,254.6 456.9,252.4 459.6,254.3 462.3,256.2 464.9,264.4 467.6,271.1 470.3,266.8 473.0,268.4 475.6,269.6 478.3,257.7 481.0,260.1 483.7,263.3 486.3,265.6 489.0,262.3 491.7,260.7 494.4,259.9 497.0,260.0 499.7,265.1 502.4,260.7 505.1,249.6 507.7,259.0 510.4,260.1 513.1,260.1 515.8,255.3 518.4,258.8 521.1,248.5 523.8,260.2 526.5,267.2 529.1,265.2 531.8,266.9 534.5,265.0 537.1,273.7 539.8,271.3 542.5,256.2 545.2,273.2 547.8,251.7 550.5,242.8 553.2,252.2 555.9,250.3 558.5,254.4 561.2,267.5 563.9,264.6 566.6,269.1 569.2,259.8 571.9,254.4 574.6,264.9 577.3,264.2 579.9,267.9 582.6,267.8 585.3,260.1 588.0,264.7 590.6,273.0 593.3,271.4 596.0,266.8 598.7,273.0 601.3,274.2 604.0,271.1 606.7,243.6 609.4,261.7 612.0,270.7 614.7,252.7 617.4,239.3 620.0,249.4 622.7,242.9 625.4,256.0 628.1,267.4 630.7,253.4 633.4,262.0 636.1,275.0 638.8,258.9 641.4,268.5 644.1,275.3 646.8,264.4 649.5,257.7 652.1,239.4 654.8,260.5 657.5,261.5 660.2,265.1 662.8,260.4 665.5,263.1 668.2,263.1 670.9,252.5 673.5,262.0 676.2,228.7 678.9,259.6 681.6,256.4 684.2,270.8 686.9,278.9 689.6,267.8 692.3,243.2 694.9,263.7" fill="none" stroke="#a3a3a3" stroke-width="0.85" stroke-linejoin="round"/>
<polyline points="55.8,262.9 58.5,259.3 61.1,255.9 63.8,260.7 66.5,265.1 69.2,263.3 71.8,259.1 74.5,261.6 77.2,259.3 79.9,263.8 82.5,260.3 85.2,262.5 87.9,260.4 90.6,259.0 93.2,258.8 95.9,265.2 98.6,258.0 101.3,263.1 103.9,259.1 106.6,258.1 109.3,263.7 112.0,259.6 114.6,259.7 117.3,258.4 120.0,258.6 122.7,260.0 125.3,256.7 128.0,260.3 130.7,262.5 133.4,258.1 136.0,257.0 138.7,260.0 141.4,265.7 144.0,263.7 146.7,260.9 149.4,258.6 152.1,257.7 154.7,262.7 157.4,260.6 160.1,263.1 162.8,257.6 165.4,260.0 168.1,261.4 170.8,261.8 173.5,264.5 176.1,259.6 178.8,262.1 181.5,262.8 184.2,279.7 186.8,263.6 189.5,262.7 192.2,262.8 194.9,259.1 197.5,259.3 200.2,261.4 202.9,259.6 205.6,259.7 208.2,258.3 210.9,261.2 213.6,262.2 216.2,263.0 218.9,259.4 221.6,260.0 224.3,263.3 226.9,258.8 229.6,261.9 232.3,258.1 235.0,265.3 237.6,263.6 240.3,260.5 243.0,261.5 245.7,260.7 248.3,260.0 251.0,259.9 253.7,259.2 256.4,258.1 259.0,262.1 261.7,262.7 264.4,260.3 267.1,260.5 269.7,259.7 272.4,258.0 275.1,260.6 277.8,259.7 280.4,259.2 283.1,255.8 285.8,261.4 288.5,264.2 291.1,260.7 293.8,259.6 296.5,259.0 299.1,260.8 301.8,260.5 304.5,260.5 307.2,262.4 309.8,258.1 312.5,256.6 315.2,258.8 317.9,261.5 320.5,258.4 323.2,264.3 325.9,261.5 328.6,265.1 331.2,258.2 333.9,262.1 336.6,260.4 339.3,258.4 341.9,255.8 344.6,256.8 347.3,260.3 350.0,258.6 352.6,258.0 355.3,260.9 358.0,258.7 360.7,258.5 363.3,258.1 366.0,259.2 368.7,252.4 371.4,276.5 374.0,311.8 376.7,285.0 379.4,260.6 382.0,265.0 384.7,262.6 387.4,259.6 390.1,263.1 392.7,259.5 395.4,265.2 398.1,263.7 400.8,258.4 403.4,260.7 406.1,265.8 408.8,262.9 411.5,263.0 414.1,256.3 416.8,254.5 419.5,255.5 422.2,256.2 424.8,263.1 427.5,253.6 430.2,258.0 432.9,259.2 435.5,261.3 438.2,261.9 440.9,255.2 443.6,262.5 446.2,257.2 448.9,257.9 451.6,258.6 454.3,262.9 456.9,256.8 459.6,258.3 462.3,263.1 464.9,259.1 467.6,262.2 470.3,267.9 473.0,264.5 475.6,259.4 478.3,259.4 481.0,258.3 483.7,257.1 486.3,268.2 489.0,265.2 491.7,262.9 494.4,254.0 497.0,257.8 499.7,256.1 502.4,261.6 505.1,257.4 507.7,260.5 510.4,261.5 513.1,255.2 515.8,267.9 518.4,259.4 521.1,255.9 523.8,262.7 526.5,260.4 529.1,265.9 531.8,264.0 534.5,263.4 537.1,259.6 539.8,261.3 542.5,255.9 545.2,259.5 547.8,258.2 550.5,258.4 553.2,262.4 555.9,261.5 558.5,258.2 561.2,262.7 563.9,268.7 566.6,264.6 569.2,262.8 571.9,260.9 574.6,267.6 577.3,256.2 579.9,256.3 582.6,259.8 585.3,254.5 588.0,258.5 590.6,254.2 593.3,249.9 596.0,256.6 598.7,255.0 601.3,250.5 604.0,253.2 606.7,248.6 609.4,247.0 612.0,246.7 614.7,239.7 617.4,236.9 620.0,235.8 622.7,251.5 625.4,240.6 628.1,233.6 630.7,226.8 633.4,241.1 636.1,245.9 638.8,242.8 641.4,246.0 644.1,234.0 646.8,238.7 649.5,242.0 652.1,244.9 654.8,232.2 657.5,235.3 660.2,247.3 662.8,245.3 665.5,241.5 668.2,235.7 670.9,238.2 673.5,243.9 676.2,248.0 678.9,236.2 681.6,250.5 684.2,245.4 686.9,242.0 689.6,241.7 692.3,238.4 694.9,237.5" fill="none" stroke="#a3a3a3" stroke-width="0.85" stroke-linejoin="round"/>
<polyline points="55.8,259.4 58.5,276.6 61.1,282.0 63.8,258.6 66.5,270.7 69.2,259.0 71.8,255.2 74.5,261.2 77.2,264.1 79.9,259.1 82.5,255.0 85.2,270.8 87.9,257.7 90.6,253.5 93.2,262.9 95.9,261.6 98.6,258.9 101.3,258.3 103.9,258.7 106.6,264.0 109.3,260.3 112.0,262.5 114.6,254.9 117.3,266.4 120.0,263.6 122.7,257.8 125.3,261.9 128.0,261.8 130.7,257.0 133.4,252.6 136.0,255.8 138.7,268.9 141.4,263.0 144.0,257.4 146.7,256.4 149.4,264.8 152.1,258.1 154.7,262.1 157.4,250.8 160.1,251.2 162.8,259.7 165.4,262.6 168.1,261.9 170.8,261.5 173.5,249.9 176.1,266.1 178.8,258.3 181.5,261.6 184.2,263.2 186.8,262.0 189.5,259.8 192.2,259.9 194.9,259.3 197.5,256.5 200.2,258.3 202.9,259.3 205.6,255.1 208.2,263.4 210.9,254.0 213.6,262.7 216.2,266.7 218.9,256.0 221.6,258.3 224.3,255.7 226.9,257.6 229.6,252.6 232.3,259.2 235.0,257.0 237.6,259.1 240.3,263.9 243.0,259.5 245.7,259.3 248.3,257.8 251.0,258.3 253.7,254.8 256.4,262.6 259.0,259.3 261.7,263.1 264.4,260.0 267.1,260.3 269.7,260.9 272.4,257.4 275.1,257.6 277.8,256.0 280.4,255.6 283.1,261.5 285.8,261.3 288.5,264.0 291.1,261.9 293.8,262.8 296.5,259.4 299.1,259.1 301.8,264.0 304.5,265.2 307.2,269.3 309.8,256.3 312.5,258.6 315.2,261.5 317.9,258.2 320.5,262.2 323.2,265.9 325.9,267.0 328.6,267.6 331.2,259.1 333.9,262.4 336.6,267.7 339.3,267.3 341.9,269.9 344.6,266.3 347.3,255.5 350.0,262.9 352.6,263.5 355.3,263.4 358.0,262.5 360.7,272.3 363.3,267.1 366.0,265.8 368.7,245.1 371.4,232.4 374.0,248.7 376.7,263.7 379.4,258.3 382.0,257.9 384.7,262.5 387.4,252.8 390.1,257.0 392.7,262.2 395.4,265.7 398.1,262.7 400.8,271.5 403.4,258.0 406.1,261.1 408.8,264.9 411.5,262.7 414.1,265.1 416.8,174.8 419.5,261.4 422.2,258.1 424.8,259.4 427.5,239.5 430.2,258.7 432.9,256.9 435.5,254.7 438.2,265.9 440.9,262.6 443.6,268.3 446.2,265.8 448.9,267.3 451.6,259.5 454.3,259.3 456.9,257.3 459.6,261.8 462.3,259.9 464.9,255.5 467.6,267.8 470.3,266.3 473.0,262.4 475.6,262.0 478.3,251.1 481.0,263.1 483.7,257.3 486.3,257.3 489.0,257.3 491.7,258.9 494.4,243.0 497.0,250.5 499.7,252.0 502.4,249.5 505.1,248.3 507.7,254.7 510.4,258.5 513.1,263.2 515.8,257.5 518.4,258.0 521.1,273.9 523.8,260.9 526.5,269.5 529.1,257.6 531.8,252.5 534.5,260.6 537.1,258.9 539.8,264.7 542.5,274.7 545.2,256.2 547.8,260.3 550.5,258.7 553.2,258.8 555.9,257.0 558.5,264.4 561.2,263.8 563.9,261.5 566.6,272.0 569.2,269.5 571.9,260.1 574.6,261.0 577.3,267.4 579.9,246.7 582.6,245.8 585.3,258.4 588.0,264.2 590.6,269.2 593.3,272.8 596.0,265.4 598.7,275.9 601.3,263.7 604.0,260.4 606.7,252.3 609.4,220.8 612.0,257.6 614.7,245.3 617.4,224.8 620.0,256.7 622.7,240.7 625.4,259.6 628.1,255.4 630.7,219.0 633.4,228.1 636.1,221.0 638.8,230.5 641.4,213.1 644.1,241.2 646.8,216.0 649.5,236.3 652.1,237.1 654.8,245.6 657.5,249.2 660.2,234.9 662.8,216.7 665.5,239.5 668.2,232.9 670.9,239.2 673.5,267.1 676.2,256.7 678.9,245.2 681.6,223.5 684.2,238.8 686.9,237.6 689.6,238.6 692.3,231.4 694.9,248.9" fill="none" stroke="#a3a3a3" stroke-width="0.85" stroke-linejoin="round"/>
<polyline points="55.8,265.4 58.5,266.6 61.1,258.2 63.8,264.9 66.5,263.9 69.2,258.7 71.8,259.5 74.5,263.7 77.2,263.8 79.9,260.4 82.5,266.5 85.2,260.7 87.9,267.0 90.6,260.4 93.2,259.6 95.9,264.6 98.6,260.8 101.3,265.9 103.9,256.9 106.6,255.8 109.3,261.5 112.0,260.6 114.6,259.3 117.3,262.0 120.0,252.9 122.7,252.8 125.3,259.2 128.0,263.7 130.7,260.5 133.4,265.5 136.0,259.6 138.7,258.1 141.4,257.2 144.0,261.8 146.7,259.7 149.4,263.8 152.1,261.6 154.7,266.2 157.4,260.6 160.1,261.8 162.8,258.6 165.4,250.7 168.1,249.7 170.8,244.1 173.5,250.8 176.1,256.3 178.8,258.7 181.5,260.8 184.2,258.8 186.8,255.4 189.5,260.0 192.2,261.1 194.9,259.4 197.5,261.3 200.2,263.2 202.9,256.7 205.6,256.3 208.2,258.4 210.9,254.6 213.6,260.1 216.2,262.5 218.9,261.3 221.6,267.1 224.3,260.2 226.9,256.3 229.6,259.7 232.3,262.4 235.0,259.9 237.6,263.7 240.3,262.3 243.0,261.1 245.7,259.2 248.3,257.7 251.0,262.4 253.7,260.6 256.4,259.2 259.0,256.0 261.7,260.3 264.4,266.6 267.1,257.9 269.7,262.9 272.4,261.2 275.1,258.0 277.8,264.0 280.4,263.6 283.1,255.5 285.8,262.1 288.5,259.5 291.1,257.7 293.8,257.3 296.5,257.4 299.1,260.0 301.8,257.1 304.5,264.9 307.2,264.6 309.8,262.6 312.5,262.8 315.2,262.3 317.9,257.0 320.5,259.8 323.2,262.3 325.9,264.3 328.6,261.8 331.2,260.4 333.9,257.5 336.6,258.9 339.3,258.6 341.9,256.3 344.6,257.4 347.3,255.7 350.0,255.8 352.6,259.0 355.3,258.1 358.0,258.2 360.7,254.2 363.3,259.2 366.0,258.7 368.7,247.9 371.4,241.9 374.0,248.8 376.7,259.8 379.4,260.5 382.0,263.8 384.7,259.5 387.4,256.6 390.1,262.9 392.7,258.5 395.4,264.6 398.1,267.9 400.8,261.6 403.4,261.4 406.1,256.2 408.8,257.8 411.5,261.0 414.1,258.7 416.8,257.3 419.5,260.5 422.2,260.6 424.8,257.3 427.5,261.5 430.2,265.4 432.9,258.1 435.5,254.0 438.2,253.0 440.9,260.4 443.6,234.9 446.2,210.9 448.9,236.7 451.6,245.9 454.3,245.1 456.9,238.1 459.6,249.0 462.3,259.0 464.9,260.9 467.6,265.1 470.3,258.6 473.0,258.3 475.6,258.9 478.3,258.5 481.0,258.0 483.7,262.1 486.3,264.4 489.0,266.8 491.7,261.3 494.4,261.6 497.0,259.6 499.7,257.0 502.4,260.9 505.1,260.8 507.7,261.6 510.4,255.9 513.1,262.0 515.8,264.2 518.4,265.5 521.1,267.9 523.8,260.0 526.5,252.2 529.1,258.9 531.8,261.1 534.5,265.3 537.1,265.8 539.8,268.4 542.5,255.7 545.2,263.6 547.8,262.3 550.5,256.5 553.2,262.4 555.9,257.4 558.5,262.3 561.2,265.6 563.9,261.0 566.6,245.5 569.2,258.2 571.9,248.8 574.6,254.7 577.3,257.1 579.9,258.5 582.6,250.7 585.3,258.3 588.0,268.5 590.6,264.4 593.3,265.1 596.0,259.8 598.7,267.3 601.3,259.0 604.0,263.2 606.7,265.6 609.4,269.2 612.0,263.1 614.7,265.0 617.4,270.9 620.0,275.9 622.7,270.4 625.4,272.4 628.1,268.3 630.7,281.7 633.4,271.8 636.1,268.6 638.8,265.0 641.4,276.9 644.1,273.5 646.8,271.8 649.5,272.2 652.1,270.7 654.8,259.8 657.5,265.7 660.2,277.4 662.8,271.0 665.5,272.7 668.2,276.3 670.9,267.4 673.5,283.0 676.2,273.2 678.9,267.9 681.6,272.3 684.2,263.9 686.9,267.9 689.6,277.9 692.3,263.8 694.9,263.0" fill="none" stroke="#a3a3a3" stroke-width="0.85" stroke-linejoin="round"/>
<polyline points="55.8,284.0 58.5,268.5 61.1,262.3 63.8,266.4 66.5,260.2 69.2,268.2 71.8,268.2 74.5,263.9 77.2,256.9 79.9,266.6 82.5,267.1 85.2,269.1 87.9,267.9 90.6,264.2 93.2,258.7 95.9,253.0 98.6,267.5 101.3,264.5 103.9,261.3 106.6,262.2 109.3,262.8 112.0,260.5 114.6,265.0 117.3,260.7 120.0,257.6 122.7,249.3 125.3,252.8 128.0,247.1 130.7,247.9 133.4,255.6 136.0,271.5 138.7,255.7 141.4,247.3 144.0,252.1 146.7,260.3 149.4,263.0 152.1,263.6 154.7,257.8 157.4,263.5 160.1,263.8 162.8,262.9 165.4,270.4 168.1,269.1 170.8,267.0 173.5,265.2 176.1,265.7 178.8,264.5 181.5,258.4 184.2,264.6 186.8,256.9 189.5,261.1 192.2,260.2 194.9,255.3 197.5,262.4 200.2,281.3 202.9,274.1 205.6,259.6 208.2,258.3 210.9,256.0 213.6,257.3 216.2,265.8 218.9,256.0 221.6,257.5 224.3,262.4 226.9,257.5 229.6,257.8 232.3,253.7 235.0,258.0 237.6,261.1 240.3,270.5 243.0,263.4 245.7,263.4 248.3,255.2 251.0,255.8 253.7,252.2 256.4,253.1 259.0,263.4 261.7,258.9 264.4,262.7 267.1,259.4 269.7,267.1 272.4,266.1 275.1,265.7 277.8,251.8 280.4,261.3 283.1,255.2 285.8,258.3 288.5,263.0 291.1,264.9 293.8,260.4 296.5,254.9 299.1,254.1 301.8,258.6 304.5,253.2 307.2,255.1 309.8,256.8 312.5,257.7 315.2,258.0 317.9,256.7 320.5,266.5 323.2,260.0 325.9,265.9 328.6,269.7 331.2,269.3 333.9,260.0 336.6,257.2 339.3,252.5 341.9,255.4 344.6,259.5 347.3,253.3 350.0,258.6 352.6,262.1 355.3,275.0 358.0,259.6 360.7,252.1 363.3,254.8 366.0,254.0 368.7,248.3 371.4,243.0 374.0,262.0 376.7,269.3 379.4,263.9 382.0,261.7 384.7,263.5 387.4,258.2 390.1,259.7 392.7,258.2 395.4,258.5 398.1,264.7 400.8,258.0 403.4,263.4 406.1,251.8 408.8,254.4 411.5,251.9 414.1,258.6 416.8,248.8 419.5,256.6 422.2,262.7 424.8,257.5 427.5,258.4 430.2,262.3 432.9,256.3 435.5,269.5 438.2,277.3 440.9,258.6 443.6,267.5 446.2,269.8 448.9,271.0 451.6,264.2 454.3,271.5 456.9,257.1 459.6,268.7 462.3,264.3 464.9,253.2 467.6,259.9 470.3,258.7 473.0,235.6 475.6,213.7 478.3,238.2 481.0,266.7 483.7,260.1 486.3,237.7 489.0,239.5 491.7,238.9 494.4,237.2 497.0,240.1 499.7,244.7 502.4,258.3 505.1,260.3 507.7,244.8 510.4,262.6 513.1,257.5 515.8,262.4 518.4,259.7 521.1,250.5 523.8,261.4 526.5,256.9 529.1,262.9 531.8,242.0 534.5,246.0 537.1,262.1 539.8,248.3 542.5,258.9 545.2,259.3 547.8,266.0 550.5,260.8 553.2,250.4 555.9,239.5 558.5,253.9 561.2,250.8 563.9,257.9 566.6,249.5 569.2,274.2 571.9,261.2 574.6,265.9 577.3,260.0 579.9,253.8 582.6,272.9 585.3,262.9 588.0,268.4 590.6,262.0 593.3,261.8 596.0,258.8 598.7,233.0 601.3,226.8 604.0,233.9 606.7,216.6 609.4,196.6 612.0,199.0 614.7,199.6 617.4,197.2 620.0,210.2 622.7,217.2 625.4,198.6 628.1,205.6 630.7,200.4 633.4,219.9 636.1,206.2 638.8,205.0 641.4,201.5 644.1,190.3 646.8,190.7 649.5,185.4 652.1,194.3 654.8,204.3 657.5,228.5 660.2,212.7 662.8,202.2 665.5,202.6 668.2,182.1 670.9,199.1 673.5,193.1 676.2,214.5 678.9,212.8 681.6,203.9 684.2,229.8 686.9,230.1 689.6,227.6 692.3,213.9 694.9,212.0" fill="none" stroke="#a3a3a3" stroke-width="0.85" stroke-linejoin="round"/>
<polyline points="55.8,259.6 58.5,267.3 61.1,259.4 63.8,265.4 66.5,262.1 69.2,274.2 71.8,270.4 74.5,259.6 77.2,259.5 79.9,265.2 82.5,259.7 85.2,266.5 87.9,257.4 90.6,258.7 93.2,262.0 95.9,260.5 98.6,263.7 101.3,259.1 103.9,258.0 106.6,255.2 109.3,257.6 112.0,263.6 114.6,264.6 117.3,270.2 120.0,257.3 122.7,261.9 125.3,260.6 128.0,260.8 130.7,257.7 133.4,265.7 136.0,265.5 138.7,264.0 141.4,257.1 144.0,263.7 146.7,259.4 149.4,258.9 152.1,261.3 154.7,263.0 157.4,264.9 160.1,265.1 162.8,254.4 165.4,247.9 168.1,240.5 170.8,253.8 173.5,261.6 176.1,261.4 178.8,255.8 181.5,253.9 184.2,263.0 186.8,251.5 189.5,255.8 192.2,256.7 194.9,256.6 197.5,262.6 200.2,258.1 202.9,264.4 205.6,265.5 208.2,258.0 210.9,255.7 213.6,262.5 216.2,260.7 218.9,259.4 221.6,265.4 224.3,260.1 226.9,258.5 229.6,260.8 232.3,264.5 235.0,256.0 237.6,264.9 240.3,267.8 243.0,264.1 245.7,257.5 248.3,257.5 251.0,262.1 253.7,263.1 256.4,256.4 259.0,262.7 261.7,264.3 264.4,262.3 267.1,258.8 269.7,264.6 272.4,260.0 275.1,261.0 277.8,258.1 280.4,259.8 283.1,270.8 285.8,283.5 288.5,263.7 291.1,263.6 293.8,264.2 296.5,258.3 299.1,262.9 301.8,263.2 304.5,260.3 307.2,262.7 309.8,262.8 312.5,260.6 315.2,257.2 317.9,263.3 320.5,260.4 323.2,260.8 325.9,262.4 328.6,259.6 331.2,264.0 333.9,259.3 336.6,257.6 339.3,260.1 341.9,262.1 344.6,261.7 347.3,262.1 350.0,258.6 352.6,264.6 355.3,264.1 358.0,268.1 360.7,263.1 363.3,261.7 366.0,258.0 368.7,253.1 371.4,249.8 374.0,252.4 376.7,260.4 379.4,259.3 382.0,259.2 384.7,257.7 387.4,259.8 390.1,262.1 392.7,259.6 395.4,262.1 398.1,261.8 400.8,252.4 403.4,257.4 406.1,264.6 408.8,263.7 411.5,265.4 414.1,264.1 416.8,265.9 419.5,268.9 422.2,258.1 424.8,272.1 427.5,266.8 430.2,260.0 432.9,255.3 435.5,254.5 438.2,259.1 440.9,266.8 443.6,266.3 446.2,263.0 448.9,259.5 451.6,268.7 454.3,262.0 456.9,256.4 459.6,254.3 462.3,261.4 464.9,256.2 467.6,257.0 470.3,263.0 473.0,265.8 475.6,263.6 478.3,256.6 481.0,257.2 483.7,255.6 486.3,265.7 489.0,269.8 491.7,264.5 494.4,263.4 497.0,226.3 499.7,203.0 502.4,225.6 505.1,272.7 507.7,264.5 510.4,267.8 513.1,261.5 515.8,252.3 518.4,257.5 521.1,271.4 523.8,255.0 526.5,263.3 529.1,260.7 531.8,255.7 534.5,258.3 537.1,267.2 539.8,250.9 542.5,259.3 545.2,268.8 547.8,249.9 550.5,257.6 553.2,265.7 555.9,244.7 558.5,255.5 561.2,265.3 563.9,256.8 566.6,261.1 569.2,279.0 571.9,265.7 574.6,260.8 577.3,258.9 579.9,257.9 582.6,259.4 585.3,264.1 588.0,236.1 590.6,234.9 593.3,250.6 596.0,219.3 598.7,242.7 601.3,244.9 604.0,234.0 606.7,252.9 609.4,251.2 612.0,247.5 614.7,247.1 617.4,225.3 620.0,207.8 622.7,236.9 625.4,222.4 628.1,237.4 630.7,234.2 633.4,210.9 636.1,222.0 638.8,219.9 641.4,234.1 644.1,248.5 646.8,216.0 649.5,227.1 652.1,236.0 654.8,204.3 657.5,226.1 660.2,224.3 662.8,202.4 665.5,230.3 668.2,238.7 670.9,237.3 673.5,239.8 676.2,235.3 678.9,218.3 681.6,223.6 684.2,225.8 686.9,239.3 689.6,242.9 692.3,235.2 694.9,243.6" fill="none" stroke="#a3a3a3" stroke-width="0.85" stroke-linejoin="round"/>
<polyline points="55.8,261.4 58.5,261.3 61.1,261.4 63.8,261.3 66.5,249.0 69.2,263.1 71.8,267.3 74.5,262.7 77.2,265.9 79.9,263.5 82.5,270.6 85.2,263.1 87.9,266.4 90.6,260.6 93.2,264.9 95.9,265.4 98.6,264.0 101.3,264.6 103.9,266.4 106.6,259.9 109.3,256.9 112.0,257.2 114.6,258.1 117.3,259.9 120.0,261.1 122.7,264.7 125.3,263.0 128.0,259.9 130.7,260.2 133.4,253.4 136.0,264.1 138.7,246.7 141.4,273.5 144.0,271.1 146.7,268.5 149.4,263.0 152.1,257.6 154.7,258.9 157.4,257.4 160.1,262.1 162.8,259.0 165.4,261.2 168.1,268.9 170.8,267.2 173.5,261.2 176.1,263.6 178.8,259.0 181.5,255.3 184.2,259.5 186.8,266.4 189.5,258.4 192.2,261.8 194.9,264.1 197.5,255.9 200.2,257.7 202.9,257.7 205.6,266.6 208.2,259.7 210.9,260.0 213.6,259.7 216.2,257.4 218.9,257.9 221.6,261.4 224.3,256.0 226.9,259.9 229.6,257.6 232.3,260.2 235.0,257.1 237.6,262.3 240.3,251.1 243.0,240.5 245.7,251.1 248.3,259.5 251.0,264.8 253.7,261.6 256.4,263.0 259.0,259.7 261.7,257.8 264.4,254.3 267.1,260.4 269.7,261.7 272.4,262.1 275.1,261.9 277.8,257.7 280.4,259.6 283.1,264.4 285.8,259.9 288.5,258.7 291.1,257.3 293.8,260.9 296.5,259.1 299.1,260.8 301.8,259.7 304.5,256.1 307.2,259.3 309.8,265.5 312.5,262.6 315.2,264.2 317.9,259.4 320.5,238.9 323.2,260.7 325.9,260.5 328.6,260.6 331.2,263.1 333.9,260.8 336.6,255.5 339.3,255.5 341.9,257.4 344.6,263.1 347.3,260.5 350.0,258.7 352.6,260.5 355.3,261.4 358.0,263.6 360.7,258.4 363.3,263.3 366.0,263.2 368.7,244.7 371.4,232.8 374.0,246.7 376.7,259.7 379.4,259.4 382.0,262.9 384.7,264.0 387.4,255.5 390.1,256.3 392.7,255.9 395.4,255.4 398.1,253.2 400.8,255.5 403.4,261.2 406.1,257.2 408.8,257.1 411.5,253.7 414.1,260.1 416.8,256.5 419.5,256.6 422.2,259.5 424.8,264.9 427.5,262.1 430.2,265.5 432.9,258.5 435.5,258.2 438.2,254.7 440.9,255.3 443.6,259.1 446.2,264.3 448.9,257.4 451.6,261.4 454.3,262.1 456.9,259.5 459.6,263.6 462.3,259.3 464.9,259.2 467.6,262.0 470.3,256.0 473.0,244.6 475.6,254.4 478.3,256.7 481.0,259.0 483.7,262.8 486.3,263.0 489.0,258.0 491.7,264.3 494.4,259.8 497.0,261.7 499.7,289.3 502.4,322.5 505.1,292.7 507.7,254.4 510.4,257.0 513.1,266.5 515.8,256.4 518.4,256.1 521.1,259.0 523.8,257.4 526.5,258.0 529.1,258.9 531.8,255.3 534.5,263.7 537.1,258.7 539.8,264.4 542.5,254.6 545.2,254.5 547.8,253.6 550.5,258.7 553.2,257.7 555.9,261.6 558.5,266.4 561.2,263.8 563.9,264.4 566.6,260.2 569.2,262.4 571.9,269.5 574.6,264.2 577.3,263.9 579.9,267.2 582.6,271.3 585.3,263.6 588.0,259.1 590.6,256.9 593.3,251.5 596.0,245.0 598.7,242.7 601.3,237.9 604.0,232.8 606.7,232.2 609.4,229.0 612.0,226.6 614.7,227.0 617.4,224.9 620.0,221.9 622.7,221.0 625.4,216.6 628.1,219.2 630.7,212.4 633.4,226.2 636.1,218.4 638.8,219.2 641.4,228.5 644.1,215.4 646.8,220.5 649.5,224.1 652.1,219.7 654.8,220.1 657.5,223.8 660.2,220.1 662.8,213.6 665.5,215.4 668.2,217.8 670.9,224.5 673.5,220.0 676.2,221.1 678.9,228.0 681.6,227.6 684.2,225.3 686.9,217.1 689.6,225.1 692.3,219.7 694.9,228.5" fill="none" stroke="#a3a3a3" stroke-width="0.85" stroke-linejoin="round"/>
<polyline points="55.8,258.4 58.5,280.5 61.1,261.2 63.8,266.9 66.5,262.9 69.2,262.1 71.8,256.8 74.5,257.5 77.2,271.6 79.9,259.2 82.5,268.9 85.2,258.4 87.9,256.1 90.6,257.2 93.2,264.0 95.9,266.3 98.6,266.2 101.3,271.7 103.9,262.5 106.6,260.8 109.3,265.2 112.0,253.4 114.6,266.0 117.3,258.0 120.0,265.1 122.7,266.3 125.3,264.7 128.0,264.1 130.7,261.9 133.4,265.2 136.0,260.4 138.7,258.4 141.4,261.1 144.0,263.7 146.7,264.3 149.4,266.0 152.1,269.3 154.7,260.6 157.4,253.3 160.1,249.5 162.8,260.9 165.4,255.9 168.1,259.6 170.8,270.0 173.5,267.0 176.1,275.0 178.8,267.0 181.5,261.1 184.2,260.4 186.8,266.4 189.5,266.8 192.2,262.9 194.9,256.3 197.5,256.1 200.2,256.0 202.9,255.3 205.6,261.9 208.2,261.3 210.9,265.7 213.6,260.2 216.2,259.2 218.9,243.3 221.6,263.6 224.3,258.3 226.9,265.5 229.6,258.4 232.3,261.6 235.0,265.3 237.6,267.2 240.3,256.8 243.0,257.9 245.7,250.4 248.3,260.6 251.0,267.4 253.7,268.3 256.4,271.5 259.0,264.2 261.7,255.4 264.4,263.3 267.1,272.9 269.7,256.2 272.4,263.5 275.1,259.3 277.8,264.4 280.4,257.8 283.1,260.7 285.8,257.8 288.5,264.6 291.1,266.5 293.8,264.2 296.5,242.5 299.1,258.3 301.8,261.5 304.5,267.4 307.2,266.3 309.8,259.4 312.5,271.1 315.2,262.3 317.9,268.0 320.5,260.0 323.2,261.3 325.9,261.0 328.6,251.9 331.2,252.8 333.9,256.6 336.6,250.1 339.3,258.8 341.9,262.5 344.6,260.4 347.3,268.5 350.0,263.5 352.6,265.4 355.3,263.8 358.0,259.8 360.7,255.7 363.3,262.6 366.0,255.2 368.7,262.7 371.4,274.5 374.0,264.1 376.7,257.5 379.4,257.3 382.0,247.8 384.7,249.5 387.4,265.1 390.1,270.2 392.7,259.5 395.4,255.9 398.1,262.9 400.8,256.6 403.4,253.4 406.1,258.5 408.8,264.4 411.5,266.1 414.1,256.7 416.8,257.3 419.5,263.4 422.2,267.9 424.8,260.5 427.5,260.5 430.2,258.9 432.9,268.5 435.5,248.9 438.2,253.9 440.9,255.2 443.6,255.1 446.2,247.3 448.9,259.8 451.6,273.4 454.3,266.6 456.9,262.6 459.6,244.2 462.3,259.3 464.9,263.8 467.6,260.7 470.3,262.0 473.0,243.9 475.6,264.4 478.3,256.6 481.0,259.9 483.7,252.0 486.3,272.5 489.0,270.0 491.7,268.9 494.4,261.9 497.0,256.6 499.7,260.2 502.4,255.7 505.1,254.4 507.7,255.4 510.4,169.1 513.1,209.7 515.8,265.1 518.4,268.4 521.1,255.0 523.8,260.0 526.5,269.5 529.1,257.3 531.8,254.7 534.5,253.9 537.1,257.9 539.8,257.7 542.5,245.3 545.2,244.2 547.8,259.1 550.5,254.8 553.2,253.7 555.9,262.4 558.5,263.6 561.2,268.5 563.9,263.8 566.6,247.7 569.2,249.3 571.9,258.2 574.6,276.2 577.3,266.7 579.9,286.8 582.6,271.1 585.3,254.6 588.0,243.0 590.6,212.1 593.3,267.8 596.0,280.7 598.7,251.4 601.3,232.1 604.0,268.6 606.7,291.1 609.4,276.7 612.0,276.5 614.7,301.9 617.4,273.2 620.0,264.7 622.7,303.7 625.4,270.6 628.1,277.9 630.7,309.9 633.4,272.0 636.1,257.1 638.8,278.7 641.4,270.6 644.1,268.1 646.8,274.3 649.5,247.6 652.1,275.6 654.8,314.9 657.5,278.6 660.2,261.2 662.8,293.3 665.5,285.5 668.2,261.2 670.9,296.9 673.5,305.1 676.2,290.2 678.9,291.1 681.6,274.4 684.2,254.0 686.9,297.7 689.6,253.3 692.3,278.4 694.9,278.7" fill="none" stroke="#a3a3a3" stroke-width="0.85" stroke-linejoin="round"/>
<polyline points="55.8,253.4 58.5,265.9 61.1,260.8 63.8,283.4 66.5,271.3 69.2,263.6 71.8,263.0 74.5,275.7 77.2,260.8 79.9,270.8 82.5,263.6 85.2,255.7 87.9,264.9 90.6,262.8 93.2,266.4 95.9,267.9 98.6,257.9 101.3,266.5 103.9,263.1 106.6,262.1 109.3,270.2 112.0,258.9 114.6,259.9 117.3,263.1 120.0,258.2 122.7,260.8 125.3,265.0 128.0,261.3 130.7,260.4 133.4,261.9 136.0,257.1 138.7,249.1 141.4,263.8 144.0,260.5 146.7,266.2 149.4,267.8 152.1,269.9 154.7,269.6 157.4,263.2 160.1,263.8 162.8,250.8 165.4,261.1 168.1,259.8 170.8,262.0 173.5,259.5 176.1,258.8 178.8,268.6 181.5,261.7 184.2,263.8 186.8,259.4 189.5,250.0 192.2,265.2 194.9,258.7 197.5,251.4 200.2,261.9 202.9,261.7 205.6,265.4 208.2,259.6 210.9,257.1 213.6,264.7 216.2,263.6 218.9,260.5 221.6,260.5 224.3,261.7 226.9,263.5 229.6,260.9 232.3,257.7 235.0,259.8 237.6,257.0 240.3,257.3 243.0,256.8 245.7,267.6 248.3,260.5 251.0,268.2 253.7,263.1 256.4,262.2 259.0,264.3 261.7,262.1 264.4,259.5 267.1,251.0 269.7,249.7 272.4,255.5 275.1,260.2 277.8,263.4 280.4,246.3 283.1,251.5 285.8,245.7 288.5,262.7 291.1,255.3 293.8,267.0 296.5,268.8 299.1,265.3 301.8,264.1 304.5,258.0 307.2,272.9 309.8,251.6 312.5,250.6 315.2,250.4 317.9,256.3 320.5,260.0 323.2,263.4 325.9,257.1 328.6,256.8 331.2,256.3 333.9,259.5 336.6,262.0 339.3,262.6 341.9,256.9 344.6,265.1 347.3,261.5 350.0,258.3 352.6,262.3 355.3,257.2 358.0,262.5 360.7,268.1 363.3,266.4 366.0,263.3 368.7,264.8 371.4,250.2 374.0,255.7 376.7,261.9 379.4,262.0 382.0,248.3 384.7,256.4 387.4,247.5 390.1,260.1 392.7,263.3 395.4,260.6 398.1,261.0 400.8,255.2 403.4,265.8 406.1,265.0 408.8,265.0 411.5,256.6 414.1,269.3 416.8,255.4 419.5,251.8 422.2,250.6 424.8,256.7 427.5,263.1 430.2,268.4 432.9,263.2 435.5,266.1 438.2,258.5 440.9,261.5 443.6,253.3 446.2,263.8 448.9,259.4 451.6,262.1 454.3,251.6 456.9,258.3 459.6,257.6 462.3,258.7 464.9,269.3 467.6,256.5 470.3,263.6 473.0,262.3 475.6,277.5 478.3,254.9 481.0,251.3 483.7,255.7 486.3,253.4 489.0,267.8 491.7,260.4 494.4,257.4 497.0,244.5 499.7,263.4 502.4,261.4 505.1,265.1 507.7,253.6 510.4,257.3 513.1,249.3 515.8,266.1 518.4,257.2 521.1,247.7 523.8,270.2 526.5,256.4 529.1,244.7 531.8,247.3 534.5,270.8 537.1,261.2 539.8,229.8 542.5,201.8 545.2,233.7 547.8,261.2 550.5,257.8 553.2,245.6 555.9,236.4 558.5,263.6 561.2,259.6 563.9,272.9 566.6,257.9 569.2,266.8 571.9,264.5 574.6,247.4 577.3,255.1 579.9,274.8 582.6,262.4 585.3,256.8 588.0,270.9 590.6,257.5 593.3,283.9 596.0,283.8 598.7,277.4 601.3,286.1 604.0,269.0 606.7,276.3 609.4,295.2 612.0,271.8 614.7,282.0 617.4,277.6 620.0,258.2 622.7,242.3 625.4,269.0 628.1,261.5 630.7,285.1 633.4,285.5 636.1,285.7 638.8,289.3 641.4,283.3 644.1,298.9 646.8,288.5 649.5,277.7 652.1,280.1 654.8,249.4 657.5,278.2 660.2,291.7 662.8,271.5 665.5,256.2 668.2,277.0 670.9,245.5 673.5,294.6 676.2,281.0 678.9,255.3 681.6,285.1 684.2,287.5 686.9,271.8 689.6,280.6 692.3,272.9 694.9,256.7" fill="none" stroke="#a3a3a3" stroke-width="0.85" stroke-linejoin="round"/>
<polyline points="55.8,251.7 58.5,251.5 61.1,265.7 63.8,259.5 66.5,254.8 69.2,263.8 71.8,262.1 74.5,264.1 77.2,259.3 79.9,248.3 82.5,239.1 85.2,235.8 87.9,253.4 90.6,252.9 93.2,251.9 95.9,255.3 98.6,257.2 101.3,257.7 103.9,259.8 106.6,264.0 109.3,257.8 112.0,259.3 114.6,257.7 117.3,261.3 120.0,263.1 122.7,261.3 125.3,266.8 128.0,260.7 130.7,262.1 133.4,259.2 136.0,259.4 138.7,262.6 141.4,259.2 144.0,262.1 146.7,260.6 149.4,263.4 152.1,262.9 154.7,259.8 157.4,260.3 160.1,266.7 162.8,260.8 165.4,260.8 168.1,260.8 170.8,255.5 173.5,260.5 176.1,259.8 178.8,262.1 181.5,257.3 184.2,261.6 186.8,263.2 189.5,254.4 192.2,258.9 194.9,262.7 197.5,256.1 200.2,260.6 202.9,261.6 205.6,262.2 208.2,258.2 210.9,257.3 213.6,258.2 216.2,262.0 218.9,257.7 221.6,258.8 224.3,265.7 226.9,259.8 229.6,264.9 232.3,257.8 235.0,263.1 237.6,259.4 240.3,260.8 243.0,257.5 245.7,260.5 248.3,261.1 251.0,256.6 253.7,256.3 256.4,252.8 259.0,260.6 261.7,266.0 264.4,261.9 267.1,260.1 269.7,260.4 272.4,254.5 275.1,257.3 277.8,261.5 280.4,260.7 283.1,271.4 285.8,257.0 288.5,262.0 291.1,266.0 293.8,256.9 296.5,259.8 299.1,259.2 301.8,257.3 304.5,261.8 307.2,260.9 309.8,262.2 312.5,260.6 315.2,254.0 317.9,264.2 320.5,259.2 323.2,252.7 325.9,239.3 328.6,247.3 331.2,260.7 333.9,260.5 336.6,254.5 339.3,260.1 341.9,261.2 344.6,258.7 347.3,261.7 350.0,259.9 352.6,259.0 355.3,270.4 358.0,268.0 360.7,264.2 363.3,258.8 366.0,261.9 368.7,244.3 371.4,236.9 374.0,253.8 376.7,260.6 379.4,255.0 382.0,264.5 384.7,255.8 387.4,259.3 390.1,258.4 392.7,256.4 395.4,260.2 398.1,262.3 400.8,261.8 403.4,263.1 406.1,265.0 408.8,259.4 411.5,256.4 414.1,257.2 416.8,263.6 419.5,258.6 422.2,262.6 424.8,263.3 427.5,263.1 430.2,256.7 432.9,261.1 435.5,248.6 438.2,264.2 440.9,268.2 443.6,264.1 446.2,260.6 448.9,261.4 451.6,258.5 454.3,255.3 456.9,252.8 459.6,259.9 462.3,253.9 464.9,254.5 467.6,250.4 470.3,253.8 473.0,253.4 475.6,268.2 478.3,269.6 481.0,260.8 483.7,254.9 486.3,256.2 489.0,259.5 491.7,261.3 494.4,265.6 497.0,260.0 499.7,259.6 502.4,257.7 505.1,250.1 507.7,245.7 510.4,251.2 513.1,263.0 515.8,260.0 518.4,258.4 521.1,261.9 523.8,263.3 526.5,261.8 529.1,264.9 531.8,270.8 534.5,257.8 537.1,260.8 539.8,268.0 542.5,258.3 545.2,258.4 547.8,267.7 550.5,274.9 553.2,263.5 555.9,263.2 558.5,261.8 561.2,259.1 563.9,259.6 566.6,249.5 569.2,257.0 571.9,221.8 574.6,182.7 577.3,221.5 579.9,242.9 582.6,246.9 585.3,259.5 588.0,257.4 590.6,251.0 593.3,253.8 596.0,268.0 598.7,261.1 601.3,277.6 604.0,276.3 606.7,267.5 609.4,279.9 612.0,275.5 614.7,271.4 617.4,277.4 620.0,269.4 622.7,269.0 625.4,265.7 628.1,280.0 630.7,276.6 633.4,276.8 636.1,276.2 638.8,254.0 641.4,271.7 644.1,277.5 646.8,262.3 649.5,271.2 652.1,284.8 654.8,271.8 657.5,268.9 660.2,279.0 662.8,281.4 665.5,267.4 668.2,272.9 670.9,273.5 673.5,278.6 676.2,272.3 678.9,260.4 681.6,262.6 684.2,272.9 686.9,259.4 689.6,265.1 692.3,263.0 694.9,269.3" fill="none" stroke="#a3a3a3" stroke-width="0.85" stroke-linejoin="round"/>
<polyline points="55.8,234.8 58.5,238.0 61.1,258.3 63.8,258.3 66.5,254.6 69.2,267.5 71.8,263.4 74.5,253.6 77.2,257.4 79.9,261.8 82.5,250.8 85.2,259.6 87.9,263.0 90.6,256.5 93.2,254.1 95.9,257.2 98.6,261.4 101.3,268.1 103.9,262.4 106.6,262.6 109.3,255.8 112.0,247.1 114.6,254.3 117.3,248.8 120.0,261.0 122.7,260.5 125.3,255.2 128.0,254.1 130.7,251.2 133.4,244.1 136.0,235.1 138.7,243.0 141.4,251.4 144.0,273.2 146.7,246.8 149.4,262.7 152.1,254.5 154.7,259.5 157.4,273.1 160.1,270.3 162.8,260.6 165.4,253.9 168.1,252.4 170.8,256.5 173.5,263.0 176.1,255.3 178.8,256.5 181.5,261.0 184.2,260.7 186.8,248.4 189.5,250.9 192.2,261.8 194.9,262.6 197.5,266.7 200.2,262.5 202.9,263.2 205.6,265.3 208.2,265.5 210.9,254.6 213.6,268.3 216.2,265.0 218.9,272.0 221.6,256.4 224.3,262.3 226.9,255.2 229.6,264.4 232.3,258.4 235.0,256.4 237.6,258.6 240.3,263.5 243.0,259.1 245.7,261.8 248.3,269.5 251.0,268.5 253.7,258.3 256.4,261.6 259.0,255.1 261.7,263.9 264.4,261.0 267.1,259.6 269.7,251.5 272.4,253.3 275.1,249.9 277.8,263.7 280.4,266.6 283.1,256.9 285.8,252.7 288.5,253.3 291.1,249.7 293.8,244.8 296.5,232.3 299.1,243.5 301.8,252.0 304.5,251.5 307.2,254.9 309.8,262.2 312.5,249.4 315.2,275.0 317.9,269.8 320.5,255.4 323.2,262.0 325.9,266.9 328.6,252.5 331.2,258.9 333.9,264.1 336.6,253.9 339.3,256.2 341.9,259.8 344.6,253.5 347.3,261.9 350.0,268.7 352.6,241.5 355.3,249.9 358.0,252.8 360.7,263.2 363.3,247.1 366.0,255.1 368.7,258.5 371.4,247.0 374.0,262.7 376.7,261.2 379.4,251.0 382.0,268.4 384.7,272.9 387.4,276.4 390.1,263.9 392.7,265.8 395.4,256.6 398.1,262.7 400.8,258.5 403.4,264.4 406.1,268.3 408.8,259.5 411.5,253.6 414.1,262.2 416.8,267.8 419.5,267.5 422.2,269.9 424.8,251.9 427.5,263.1 430.2,254.3 432.9,271.7 435.5,286.9 438.2,266.7 440.9,260.2 443.6,263.5 446.2,267.2 448.9,289.6 451.6,276.2 454.3,273.3 456.9,266.0 459.6,266.0 462.3,265.5 464.9,262.9 467.6,277.3 470.3,272.4 473.0,260.1 475.6,272.3 478.3,283.0 481.0,278.6 483.7,260.6 486.3,268.9 489.0,273.1 491.7,259.9 494.4,246.8 497.0,255.5 499.7,252.9 502.4,266.6 505.1,247.1 507.7,255.2 510.4,253.0 513.1,245.5 515.8,260.2 518.4,258.8 521.1,284.2 523.8,270.4 526.5,273.7 529.1,269.5 531.8,264.1 534.5,264.7 537.1,264.7 539.8,264.4 542.5,272.8 545.2,262.5 547.8,270.4 550.5,258.9 553.2,263.6 555.9,252.2 558.5,269.8 561.2,261.5 563.9,272.1 566.6,252.0 569.2,258.0 571.9,263.0 574.6,244.6 577.3,255.7 579.9,266.1 582.6,253.8 585.3,282.5 588.0,270.4 590.6,269.5 593.3,256.0 596.0,274.6 598.7,269.1 601.3,273.7 604.0,266.3 606.7,275.7 609.4,302.5 612.0,310.6 614.7,327.5 617.4,322.0 620.0,302.6 622.7,279.7 625.4,282.6 628.1,276.1 630.7,301.3 633.4,300.9 636.1,284.5 638.8,296.5 641.4,302.7 644.1,305.3 646.8,325.2 649.5,280.1 652.1,292.2 654.8,313.9 657.5,314.6 660.2,308.9 662.8,285.2 665.5,319.0 668.2,324.0 670.9,317.9 673.5,298.9 676.2,291.9 678.9,306.7 681.6,318.0 684.2,296.4 686.9,334.5 689.6,351.9 692.3,338.4 694.9,314.3" fill="none" stroke="#a3a3a3" stroke-width="0.85" stroke-linejoin="round"/>
<polyline points="55.8,260.2 58.5,284.7 61.1,270.7 63.8,249.9 66.5,258.7 69.2,259.6 71.8,248.1 74.5,265.9 77.2,253.6 79.9,268.6 82.5,259.9 85.2,266.4 87.9,267.4 90.6,263.6 93.2,263.5 95.9,259.3 98.6,264.7 101.3,257.1 103.9,251.4 106.6,257.5 109.3,252.4 112.0,257.6 114.6,247.8 117.3,267.2 120.0,258.7 122.7,251.8 125.3,254.9 128.0,262.7 130.7,261.9 133.4,268.2 136.0,260.9 138.7,244.9 141.4,259.6 144.0,259.2 146.7,264.4 149.4,266.8 152.1,265.8 154.7,254.3 157.4,258.0 160.1,251.3 162.8,245.2 165.4,250.4 168.1,261.2 170.8,264.3 173.5,265.0 176.1,264.2 178.8,265.0 181.5,258.7 184.2,265.4 186.8,250.8 189.5,257.2 192.2,269.9 194.9,263.4 197.5,272.7 200.2,257.4 202.9,247.4 205.6,233.4 208.2,243.0 210.9,243.6 213.6,259.1 216.2,258.2 218.9,271.0 221.6,259.9 224.3,260.8 226.9,257.7 229.6,257.5 232.3,249.0 235.0,257.5 237.6,253.7 240.3,251.7 243.0,256.6 245.7,258.5 248.3,261.2 251.0,263.0 253.7,260.2 256.4,260.2 259.0,260.0 261.7,258.5 264.4,254.7 267.1,266.5 269.7,262.2 272.4,263.9 275.1,254.3 277.8,256.4 280.4,264.8 283.1,266.0 285.8,264.9 288.5,263.5 291.1,259.4 293.8,258.7 296.5,269.1 299.1,263.4 301.8,262.1 304.5,264.5 307.2,248.2 309.8,258.0 312.5,252.8 315.2,258.9 317.9,254.3 320.5,236.1 323.2,234.7 325.9,239.0 328.6,248.4 331.2,258.0 333.9,257.0 336.6,263.1 339.3,259.3 341.9,233.1 344.6,229.5 347.3,245.8 350.0,257.9 352.6,262.1 355.3,255.6 358.0,254.7 360.7,249.5 363.3,258.1 366.0,257.7 368.7,253.6 371.4,239.3 374.0,248.6 376.7,263.1 379.4,258.1 382.0,253.8 384.7,260.3 387.4,261.5 390.1,261.0 392.7,249.1 395.4,251.6 398.1,262.0 400.8,261.6 403.4,254.7 406.1,258.2 408.8,256.4 411.5,252.2 414.1,260.7 416.8,262.7 419.5,272.5 422.2,270.3 424.8,263.0 427.5,264.9 430.2,270.9 432.9,256.0 435.5,265.9 438.2,253.1 440.9,253.5 443.6,259.5 446.2,251.5 448.9,255.8 451.6,264.9 454.3,261.1 456.9,255.7 459.6,262.8 462.3,265.0 464.9,267.0 467.6,279.3 470.3,258.5 473.0,253.3 475.6,257.6 478.3,276.1 481.0,251.7 483.7,262.1 486.3,264.2 489.0,271.2 491.7,260.2 494.4,261.2 497.0,272.9 499.7,274.7 502.4,267.3 505.1,260.3 507.7,267.6 510.4,257.2 513.1,254.3 515.8,239.3 518.4,264.6 521.1,258.0 523.8,266.9 526.5,283.6 529.1,269.9 531.8,259.4 534.5,267.5 537.1,264.9 539.8,251.3 542.5,248.5 545.2,253.2 547.8,255.0 550.5,262.0 553.2,246.7 555.9,261.3 558.5,245.9 561.2,247.4 563.9,252.5 566.6,270.3 569.2,256.6 571.9,268.9 574.6,273.9 577.3,257.5 579.9,272.8 582.6,271.5 585.3,255.9 588.0,191.9 590.6,262.3 593.3,274.8 596.0,242.7 598.7,265.2 601.3,275.4 604.0,173.6 606.7,230.6 609.4,247.4 612.0,238.3 614.7,242.8 617.4,263.5 620.0,268.1 622.7,247.5 625.4,262.8 628.1,271.9 630.7,265.6 633.4,272.7 636.1,261.7 638.8,271.5 641.4,267.4 644.1,236.3 646.8,256.1 649.5,263.5 652.1,234.9 654.8,247.3 657.5,269.0 660.2,271.8 662.8,275.0 665.5,266.9 668.2,278.0 670.9,267.6 673.5,244.6 676.2,239.4 678.9,250.5 681.6,232.9 684.2,259.8 686.9,249.5 689.6,274.9 692.3,244.5 694.9,260.4" fill="none" stroke="#a3a3a3" stroke-width="0.85" stroke-linejoin="round"/>
<polyline points="55.8,273.8 58.5,292.4 61.1,255.9 63.8,265.5 66.5,271.3 69.2,285.1 71.8,264.5 74.5,252.1 77.2,258.1 79.9,272.9 82.5,274.1 85.2,266.1 87.9,249.2 90.6,255.9 93.2,259.4 95.9,257.9 98.6,247.8 101.3,256.8 103.9,267.1 106.6,260.0 109.3,268.8 112.0,270.7 114.6,261.1 117.3,258.5 120.0,260.4 122.7,254.4 125.3,257.8 128.0,255.8 130.7,258.2 133.4,263.3 136.0,261.3 138.7,257.0 141.4,257.9 144.0,264.0 146.7,260.5 149.4,265.3 152.1,266.0 154.7,254.4 157.4,266.9 160.1,246.1 162.8,236.8 165.4,255.1 168.1,256.8 170.8,263.6 173.5,248.5 176.1,270.5 178.8,263.2 181.5,267.8 184.2,262.9 186.8,251.7 189.5,237.2 192.2,262.9 194.9,269.8 197.5,267.5 200.2,278.0 202.9,268.5 205.6,259.9 208.2,252.3 210.9,266.4 213.6,262.7 216.2,266.7 218.9,253.5 221.6,259.3 224.3,266.9 226.9,285.8 229.6,259.8 232.3,258.3 235.0,253.6 237.6,262.4 240.3,270.5 243.0,259.6 245.7,252.8 248.3,262.5 251.0,253.7 253.7,258.2 256.4,260.3 259.0,260.2 261.7,254.3 264.4,260.3 267.1,264.9 269.7,280.2 272.4,270.8 275.1,272.8 277.8,235.9 280.4,254.1 283.1,254.3 285.8,274.2 288.5,261.7 291.1,268.8 293.8,242.9 296.5,272.0 299.1,260.6 301.8,261.6 304.5,279.6 307.2,267.3 309.8,258.2 312.5,264.5 315.2,258.4 317.9,244.7 320.5,251.9 323.2,255.6 325.9,267.6 328.6,258.4 331.2,260.5 333.9,248.4 336.6,251.0 339.3,257.1 341.9,256.6 344.6,279.5 347.3,269.8 350.0,269.5 352.6,270.1 355.3,264.0 358.0,252.5 360.7,264.4 363.3,264.0 366.0,257.4 368.7,254.5 371.4,264.8 374.0,260.4 376.7,257.5 379.4,253.3 382.0,245.9 384.7,264.3 387.4,266.5 390.1,247.7 392.7,249.5 395.4,254.1 398.1,264.8 400.8,266.1 403.4,249.9 406.1,247.9 408.8,254.2 411.5,247.9 414.1,261.2 416.8,264.7 419.5,262.3 422.2,251.5 424.8,255.4 427.5,264.1 430.2,248.0 432.9,250.1 435.5,266.2 438.2,257.9 440.9,256.0 443.6,272.2 446.2,246.4 448.9,256.2 451.6,237.6 454.3,233.8 456.9,221.0 459.6,233.6 462.3,251.2 464.9,254.7 467.6,253.8 470.3,252.9 473.0,266.8 475.6,251.5 478.3,260.2 481.0,264.2 483.7,266.0 486.3,281.2 489.0,255.7 491.7,261.8 494.4,264.9 497.0,267.3 499.7,262.9 502.4,265.7 505.1,284.9 507.7,266.4 510.4,266.3 513.1,288.4 515.8,265.5 518.4,255.4 521.1,268.1 523.8,250.4 526.5,260.5 529.1,270.1 531.8,254.1 534.5,264.6 537.1,264.7 539.8,283.0 542.5,279.6 545.2,262.1 547.8,275.5 550.5,248.7 553.2,252.5 555.9,265.0 558.5,238.7 561.2,246.9 563.9,262.6 566.6,276.7 569.2,253.4 571.9,285.3 574.6,253.3 577.3,258.6 579.9,249.7 582.6,285.3 585.3,270.6 588.0,275.6 590.6,257.9 593.3,278.7 596.0,275.0 598.7,268.0 601.3,250.9 604.0,266.4 606.7,259.6 609.4,263.5 612.0,233.7 614.7,229.4 617.4,245.6 620.0,255.9 622.7,253.9 625.4,277.0 628.1,253.8 630.7,294.3 633.4,251.8 636.1,251.3 638.8,250.2 641.4,263.3 644.1,271.6 646.8,268.0 649.5,250.4 652.1,243.4 654.8,231.9 657.5,261.7 660.2,215.0 662.8,225.9 665.5,236.3 668.2,231.1 670.9,242.8 673.5,283.3 676.2,269.3 678.9,266.5 681.6,236.0 684.2,241.1 686.9,258.1 689.6,260.2 692.3,240.2 694.9,218.2" fill="none" stroke="#a3a3a3" stroke-width="0.85" stroke-linejoin="round"/>
<polyline points="55.8,255.0 58.5,261.7 61.1,251.9 63.8,263.4 66.5,256.7 69.2,259.8 71.8,257.8 74.5,262.5 77.2,261.0 79.9,260.6 82.5,251.3 85.2,256.6 87.9,255.5 90.6,262.5 93.2,262.7 95.9,261.3 98.6,261.3 101.3,263.0 103.9,258.5 106.6,263.8 109.3,253.4 112.0,242.9 114.6,235.1 117.3,242.7 120.0,249.7 122.7,258.2 125.3,255.2 128.0,256.9 130.7,260.4 133.4,258.0 136.0,260.0 138.7,260.5 141.4,260.0 144.0,258.0 146.7,262.7 149.4,260.8 152.1,260.9 154.7,261.1 157.4,263.8 160.1,258.3 162.8,258.0 165.4,262.5 168.1,265.8 170.8,258.8 173.5,247.2 176.1,236.3 178.8,246.6 181.5,262.7 184.2,268.3 186.8,260.2 189.5,257.7 192.2,262.1 194.9,260.7 197.5,260.5 200.2,258.8 202.9,259.9 205.6,261.3 208.2,260.0 210.9,258.4 213.6,259.4 216.2,257.2 218.9,259.4 221.6,258.0 224.3,262.6 226.9,262.5 229.6,263.7 232.3,250.8 235.0,256.4 237.6,255.7 240.3,261.7 243.0,264.1 245.7,263.3 248.3,262.2 251.0,259.2 253.7,261.0 256.4,264.4 259.0,258.3 261.7,254.0 264.4,259.4 267.1,257.9 269.7,260.9 272.4,258.3 275.1,257.0 277.8,255.2 280.4,258.8 283.1,259.6 285.8,258.9 288.5,257.5 291.1,254.2 293.8,257.1 296.5,261.7 299.1,266.0 301.8,255.7 304.5,265.5 307.2,264.0 309.8,260.1 312.5,262.0 315.2,253.9 317.9,265.3 320.5,258.6 323.2,256.9 325.9,260.6 328.6,262.3 331.2,263.7 333.9,255.8 336.6,260.1 339.3,264.1 341.9,265.6 344.6,260.4 347.3,261.3 350.0,261.7 352.6,255.3 355.3,263.0 358.0,256.0 360.7,262.7 363.3,261.0 366.0,262.2 368.7,258.5 371.4,241.9 374.0,250.6 376.7,257.3 379.4,253.2 382.0,256.6 384.7,258.9 387.4,260.7 390.1,262.0 392.7,264.1 395.4,264.1 398.1,263.4 400.8,269.7 403.4,261.7 406.1,259.5 408.8,260.9 411.5,257.6 414.1,268.4 416.8,262.3 419.5,259.4 422.2,265.5 424.8,259.6 427.5,242.5 430.2,223.8 432.9,242.9 435.5,256.2 438.2,256.7 440.9,254.9 443.6,258.2 446.2,260.4 448.9,254.7 451.6,265.8 454.3,257.5 456.9,261.4 459.6,247.5 462.3,247.0 464.9,254.4 467.6,250.0 470.3,255.4 473.0,264.1 475.6,265.4 478.3,262.6 481.0,261.4 483.7,264.7 486.3,262.7 489.0,255.6 491.7,251.6 494.4,262.7 497.0,258.0 499.7,265.1 502.4,266.9 505.1,256.0 507.7,251.6 510.4,260.1 513.1,262.4 515.8,255.3 518.4,249.3 521.1,255.4 523.8,247.3 526.5,256.3 529.1,249.2 531.8,261.5 534.5,257.4 537.1,265.4 539.8,268.3 542.5,257.3 545.2,266.1 547.8,263.2 550.5,260.0 553.2,256.0 555.9,256.7 558.5,256.4 561.2,253.6 563.9,267.5 566.6,265.5 569.2,266.8 571.9,273.8 574.6,267.9 577.3,264.9 579.9,260.2 582.6,261.6 585.3,263.4 588.0,261.3 590.6,257.4 593.3,238.1 596.0,239.4 598.7,249.7 601.3,257.6 604.0,267.7 606.7,251.5 609.4,258.5 612.0,254.4 614.7,260.7 617.4,262.7 620.0,263.7 622.7,243.3 625.4,246.2 628.1,252.5 630.7,252.4 633.4,248.8 636.1,250.9 638.8,241.9 641.4,240.6 644.1,251.1 646.8,252.7 649.5,247.8 652.1,244.8 654.8,242.3 657.5,234.8 660.2,244.3 662.8,254.0 665.5,247.6 668.2,254.8 670.9,249.9 673.5,244.2 676.2,244.6 678.9,249.1 681.6,244.6 684.2,235.7 686.9,252.7 689.6,240.7 692.3,242.7 694.9,238.3" fill="none" stroke="#a3a3a3" stroke-width="0.85" stroke-linejoin="round"/>
<polyline points="55.8,266.3 58.5,257.8 61.1,258.6 63.8,253.1 66.5,251.7 69.2,253.7 71.8,247.7 74.5,253.5 77.2,257.0 79.9,259.2 82.5,261.4 85.2,260.5 87.9,256.4 90.6,261.8 93.2,262.1 95.9,261.4 98.6,253.8 101.3,258.6 103.9,257.3 106.6,263.0 109.3,265.9 112.0,261.5 114.6,264.7 117.3,258.4 120.0,261.4 122.7,256.6 125.3,253.8 128.0,254.4 130.7,250.3 133.4,253.6 136.0,260.4 138.7,264.1 141.4,263.4 144.0,261.2 146.7,258.9 149.4,262.3 152.1,261.1 154.7,259.0 157.4,264.8 160.1,264.3 162.8,261.0 165.4,262.1 168.1,262.4 170.8,258.0 173.5,255.3 176.1,261.4 178.8,258.5 181.5,256.3 184.2,265.6 186.8,261.4 189.5,255.4 192.2,260.5 194.9,258.2 197.5,254.1 200.2,261.8 202.9,261.5 205.6,259.5 208.2,259.7 210.9,257.6 213.6,264.6 216.2,256.8 218.9,257.8 221.6,257.9 224.3,261.4 226.9,264.1 229.6,269.8 232.3,262.0 235.0,265.4 237.6,266.3 240.3,262.4 243.0,268.8 245.7,260.6 248.3,258.5 251.0,260.5 253.7,267.3 256.4,264.8 259.0,260.5 261.7,267.1 264.4,258.1 267.1,260.0 269.7,265.9 272.4,266.0 275.1,257.6 277.8,261.6 280.4,254.4 283.1,270.7 285.8,264.8 288.5,267.5 291.1,263.8 293.8,261.4 296.5,266.9 299.1,255.2 301.8,257.4 304.5,258.7 307.2,259.2 309.8,257.6 312.5,256.7 315.2,263.7 317.9,252.1 320.5,263.0 323.2,274.8 325.9,269.6 328.6,261.1 331.2,264.3 333.9,254.4 336.6,243.9 339.3,248.7 341.9,252.8 344.6,255.8 347.3,256.0 350.0,259.7 352.6,262.2 355.3,266.6 358.0,258.8 360.7,262.1 363.3,272.6 366.0,264.9 368.7,256.7 371.4,251.2 374.0,251.3 376.7,256.3 379.4,251.4 382.0,256.6 384.7,260.5 387.4,260.1 390.1,268.5 392.7,265.1 395.4,258.9 398.1,264.6 400.8,264.5 403.4,258.7 406.1,261.9 408.8,257.0 411.5,263.1 414.1,270.1 416.8,256.4 419.5,269.2 422.2,269.7 424.8,259.7 427.5,255.9 430.2,266.4 432.9,260.6 435.5,262.5 438.2,263.8 440.9,269.0 443.6,262.3 446.2,267.6 448.9,268.1 451.6,256.1 454.3,259.8 456.9,263.4 459.6,268.8 462.3,280.3 464.9,264.4 467.6,265.5 470.3,266.0 473.0,257.8 475.6,267.3 478.3,264.9 481.0,258.8 483.7,259.6 486.3,265.0 489.0,250.3 491.7,267.5 494.4,244.7 497.0,269.8 499.7,254.6 502.4,255.8 505.1,261.6 507.7,253.0 510.4,270.8 513.1,272.9 515.8,270.7 518.4,254.9 521.1,265.8 523.8,254.8 526.5,253.2 529.1,248.5 531.8,260.6 534.5,270.6 537.1,268.5 539.8,262.4 542.5,260.2 545.2,256.6 547.8,247.0 550.5,246.9 553.2,273.5 555.9,264.6 558.5,261.8 561.2,261.0 563.9,264.9 566.6,266.9 569.2,268.2 571.9,253.8 574.6,255.1 577.3,247.5 579.9,258.8 582.6,262.9 585.3,256.9 588.0,250.0 590.6,257.4 593.3,237.7 596.0,185.9 598.7,121.2 601.3,179.2 604.0,225.4 606.7,235.0 609.4,224.5 612.0,217.4 614.7,224.0 617.4,222.8 620.0,216.9 622.7,214.8 625.4,220.8 628.1,215.0 630.7,217.4 633.4,206.0 636.1,219.2 638.8,216.8 641.4,205.7 644.1,207.6 646.8,217.3 649.5,208.6 652.1,207.8 654.8,214.9 657.5,213.3 660.2,201.7 662.8,208.0 665.5,214.2 668.2,208.8 670.9,223.5 673.5,230.7 676.2,224.8 678.9,221.0 681.6,213.0 684.2,216.8 686.9,216.5 689.6,221.5 692.3,219.8 694.9,235.6" fill="none" stroke="#a3a3a3" stroke-width="0.85" stroke-linejoin="round"/>
<polyline points="55.8,279.0 58.5,259.4 61.1,260.9 63.8,267.9 66.5,273.9 69.2,265.4 71.8,273.6 74.5,266.3 77.2,268.8 79.9,274.0 82.5,266.0 85.2,257.8 87.9,254.3 90.6,260.0 93.2,264.7 95.9,257.4 98.6,259.1 101.3,262.3 103.9,266.6 106.6,263.9 109.3,258.3 112.0,259.6 114.6,266.9 117.3,261.9 120.0,263.2 122.7,260.3 125.3,269.1 128.0,262.9 130.7,259.6 133.4,259.1 136.0,266.7 138.7,260.1 141.4,258.8 144.0,264.0 146.7,270.6 149.4,267.6 152.1,266.1 154.7,260.6 157.4,260.1 160.1,253.9 162.8,251.6 165.4,260.7 168.1,258.1 170.8,263.1 173.5,263.6 176.1,265.2 178.8,261.5 181.5,261.1 184.2,253.9 186.8,263.3 189.5,259.7 192.2,260.4 194.9,253.3 197.5,264.8 200.2,267.3 202.9,269.7 205.6,263.6 208.2,257.7 210.9,258.5 213.6,261.6 216.2,261.0 218.9,257.0 221.6,262.1 224.3,254.2 226.9,266.2 229.6,262.8 232.3,264.5 235.0,264.4 237.6,264.7 240.3,261.2 243.0,257.8 245.7,259.5 248.3,256.8 251.0,253.4 253.7,259.3 256.4,260.8 259.0,255.8 261.7,260.1 264.4,260.9 267.1,263.2 269.7,259.7 272.4,258.6 275.1,257.3 277.8,268.2 280.4,264.9 283.1,261.2 285.8,259.0 288.5,256.4 291.1,258.2 293.8,263.4 296.5,260.0 299.1,260.2 301.8,252.5 304.5,252.1 307.2,253.2 309.8,256.3 312.5,255.4 315.2,263.4 317.9,259.5 320.5,253.1 323.2,262.6 325.9,256.8 328.6,258.4 331.2,251.1 333.9,255.6 336.6,262.9 339.3,264.5 341.9,254.4 344.6,263.0 347.3,257.6 350.0,258.8 352.6,261.4 355.3,251.4 358.0,261.1 360.7,264.4 363.3,265.0 366.0,262.3 368.7,253.3 371.4,243.0 374.0,258.0 376.7,261.1 379.4,255.7 382.0,266.9 384.7,270.3 387.4,266.2 390.1,261.2 392.7,261.7 395.4,268.3 398.1,261.7 400.8,264.1 403.4,256.0 406.1,254.3 408.8,268.0 411.5,274.1 414.1,273.5 416.8,254.7 419.5,263.0 422.2,254.0 424.8,240.7 427.5,243.8 430.2,273.5 432.9,256.5 435.5,249.9 438.2,275.1 440.9,274.9 443.6,269.1 446.2,269.4 448.9,261.4 451.6,266.3 454.3,251.2 456.9,259.0 459.6,254.6 462.3,259.0 464.9,257.5 467.6,262.9 470.3,263.9 473.0,256.3 475.6,258.0 478.3,269.1 481.0,254.0 483.7,255.1 486.3,270.6 489.0,275.0 491.7,267.2 494.4,248.6 497.0,251.1 499.7,248.5 502.4,257.3 505.1,260.0 507.7,266.3 510.4,266.9 513.1,264.6 515.8,264.4 518.4,272.8 521.1,247.3 523.8,271.2 526.5,268.8 529.1,266.9 531.8,252.8 534.5,264.8 537.1,267.0 539.8,275.5 542.5,260.6 545.2,255.4 547.8,250.1 550.5,254.5 553.2,266.2 555.9,255.8 558.5,252.3 561.2,262.1 563.9,257.4 566.6,272.0 569.2,253.3 571.9,253.2 574.6,254.6 577.3,273.4 579.9,259.3 582.6,275.0 585.3,257.1 588.0,234.6 590.6,251.2 593.3,271.1 596.0,256.5 598.7,273.2 601.3,257.4 604.0,261.1 606.7,262.2 609.4,254.2 612.0,255.2 614.7,251.8 617.4,259.2 620.0,266.1 622.7,277.6 625.4,255.1 628.1,184.0 630.7,115.6 633.4,180.8 636.1,271.6 638.8,273.6 641.4,253.9 644.1,263.2 646.8,248.7 649.5,239.0 652.1,228.9 654.8,233.4 657.5,273.9 660.2,274.5 662.8,267.1 665.5,262.8 668.2,277.6 670.9,255.0 673.5,261.6 676.2,278.3 678.9,283.8 681.6,289.7 684.2,275.2 686.9,270.1 689.6,270.8 692.3,261.7 694.9,250.2" fill="none" stroke="#a3a3a3" stroke-width="0.85" stroke-linejoin="round"/>
<polyline points="55.8,292.2 58.5,286.1 61.1,295.4 63.8,279.3 66.5,275.6 69.2,255.8 71.8,262.0 74.5,264.9 77.2,262.2 79.9,265.6 82.5,248.3 85.2,251.4 87.9,253.0 90.6,258.8 93.2,268.1 95.9,261.3 98.6,262.1 101.3,255.1 103.9,250.3 106.6,259.3 109.3,275.3 112.0,269.9 114.6,251.0 117.3,264.2 120.0,249.7 122.7,245.5 125.3,252.7 128.0,273.4 130.7,270.1 133.4,270.6 136.0,254.0 138.7,261.9 141.4,254.3 144.0,254.1 146.7,259.9 149.4,250.5 152.1,263.4 154.7,282.3 157.4,258.2 160.1,261.9 162.8,253.7 165.4,260.3 168.1,254.8 170.8,259.2 173.5,258.5 176.1,261.7 178.8,257.6 181.5,257.7 184.2,267.7 186.8,270.3 189.5,277.0 192.2,268.8 194.9,272.3 197.5,275.3 200.2,262.9 202.9,257.8 205.6,256.9 208.2,262.6 210.9,280.6 213.6,259.1 216.2,264.3 218.9,256.7 221.6,268.1 224.3,260.0 226.9,271.4 229.6,261.5 232.3,260.6 235.0,275.4 237.6,275.4 240.3,264.4 243.0,270.0 245.7,263.2 248.3,259.2 251.0,260.1 253.7,271.7 256.4,263.4 259.0,258.0 261.7,257.1 264.4,252.6 267.1,263.0 269.7,255.9 272.4,257.3 275.1,262.3 277.8,264.8 280.4,275.6 283.1,254.3 285.8,254.6 288.5,263.5 291.1,246.7 293.8,253.6 296.5,273.6 299.1,259.1 301.8,255.3 304.5,260.4 307.2,260.7 309.8,261.8 312.5,253.7 315.2,256.3 317.9,260.5 320.5,249.7 323.2,239.3 325.9,254.3 328.6,267.6 331.2,262.5 333.9,265.2 336.6,258.4 339.3,257.7 341.9,261.5 344.6,257.8 347.3,253.9 350.0,252.2 352.6,244.9 355.3,248.0 358.0,263.1 360.7,258.1 363.3,265.2 366.0,242.3 368.7,261.4 371.4,298.5 374.0,269.7 376.7,255.9 379.4,260.1 382.0,252.5 384.7,239.7 387.4,237.1 390.1,251.9 392.7,246.6 395.4,245.5 398.1,232.1 400.8,249.5 403.4,240.8 406.1,256.1 408.8,256.2 411.5,248.3 414.1,255.5 416.8,271.5 419.5,283.2 422.2,260.9 424.8,259.4 427.5,277.6 430.2,255.3 432.9,274.8 435.5,264.9 438.2,247.5 440.9,269.6 443.6,261.0 446.2,260.9 448.9,265.2 451.6,254.7 454.3,254.0 456.9,270.8 459.6,262.0 462.3,275.9 464.9,277.1 467.6,241.7 470.3,259.8 473.0,263.7 475.6,264.9 478.3,247.0 481.0,245.4 483.7,240.9 486.3,253.4 489.0,267.8 491.7,266.1 494.4,284.1 497.0,253.2 499.7,276.6 502.4,251.9 505.1,264.4 507.7,269.2 510.4,272.7 513.1,236.9 515.8,294.6 518.4,262.0 521.1,248.1 523.8,263.6 526.5,236.9 529.1,242.0 531.8,274.1 534.5,237.0 537.1,231.4 539.8,265.5 542.5,255.1 545.2,259.3 547.8,273.3 550.5,253.6 553.2,276.6 555.9,262.9 558.5,267.2 561.2,260.1 563.9,273.1 566.6,247.4 569.2,273.7 571.9,260.1 574.6,256.5 577.3,228.6 579.9,270.9 582.6,284.4 585.3,287.1 588.0,305.7 590.6,293.8 593.3,291.9 596.0,268.9 598.7,266.9 601.3,252.5 604.0,302.6 606.7,245.3 609.4,266.3 612.0,266.2 614.7,254.4 617.4,258.2 620.0,296.5 622.7,225.9 625.4,200.4 628.1,226.7 630.7,256.9 633.4,196.2 636.1,133.6 638.8,200.8 641.4,259.5 644.1,317.0 646.8,233.9 649.5,232.0 652.1,240.5 654.8,233.3 657.5,245.7 660.2,231.4 662.8,208.9 665.5,249.6 668.2,256.2 670.9,256.9 673.5,238.2 676.2,224.1 678.9,204.3 681.6,178.1 684.2,229.1 686.9,240.0 689.6,236.0 692.3,218.2 694.9,252.0" fill="none" stroke="#a3a3a3" stroke-width="0.85" stroke-linejoin="round"/>
<polyline points="55.8,263.8 58.5,274.4 61.1,264.9 63.8,263.7 66.5,260.9 69.2,264.0 71.8,252.2 74.5,252.5 77.2,264.4 79.9,260.3 82.5,263.9 85.2,257.7 87.9,258.5 90.6,258.3 93.2,259.2 95.9,261.3 98.6,266.9 101.3,262.3 103.9,259.7 106.6,267.9 109.3,260.0 112.0,260.4 114.6,262.3 117.3,259.8 120.0,260.1 122.7,261.8 125.3,268.3 128.0,268.2 130.7,259.0 133.4,258.0 136.0,260.6 138.7,258.4 141.4,265.7 144.0,260.5 146.7,266.1 149.4,262.0 152.1,263.0 154.7,261.8 157.4,262.7 160.1,260.2 162.8,265.2 165.4,261.2 168.1,257.5 170.8,258.0 173.5,261.4 176.1,255.4 178.8,260.7 181.5,264.3 184.2,263.8 186.8,260.3 189.5,259.5 192.2,265.1 194.9,264.2 197.5,262.1 200.2,259.0 202.9,263.8 205.6,261.2 208.2,262.4 210.9,259.3 213.6,264.7 216.2,260.0 218.9,258.5 221.6,261.5 224.3,260.9 226.9,263.7 229.6,261.3 232.3,261.1 235.0,258.6 237.6,257.8 240.3,259.0 243.0,258.8 245.7,251.5 248.3,249.9 251.0,255.2 253.7,253.9 256.4,261.6 259.0,260.1 261.7,260.7 264.4,263.4 267.1,255.6 269.7,254.5 272.4,264.1 275.1,256.6 277.8,258.4 280.4,261.6 283.1,258.4 285.8,263.8 288.5,261.8 291.1,261.0 293.8,261.0 296.5,263.3 299.1,262.5 301.8,257.0 304.5,261.5 307.2,263.2 309.8,265.1 312.5,254.9 315.2,241.0 317.9,254.6 320.5,256.0 323.2,258.1 325.9,264.1 328.6,262.5 331.2,259.9 333.9,259.5 336.6,258.0 339.3,266.9 341.9,265.1 344.6,265.6 347.3,257.0 350.0,258.2 352.6,255.5 355.3,256.7 358.0,253.6 360.7,263.3 363.3,261.6 366.0,259.9 368.7,257.8 371.4,257.8 374.0,260.0 376.7,269.7 379.4,275.7 382.0,271.0 384.7,254.7 387.4,255.3 390.1,253.2 392.7,258.9 395.4,253.9 398.1,256.9 400.8,256.0 403.4,262.4 406.1,258.6 408.8,262.1 411.5,261.2 414.1,258.8 416.8,258.1 419.5,259.2 422.2,255.0 424.8,261.3 427.5,266.3 430.2,257.4 432.9,258.8 435.5,263.5 438.2,249.7 440.9,254.1 443.6,261.6 446.2,256.9 448.9,263.7 451.6,268.8 454.3,262.9 456.9,255.0 459.6,251.5 462.3,255.7 464.9,251.6 467.6,265.3 470.3,270.4 473.0,266.9 475.6,263.3 478.3,255.4 481.0,258.4 483.7,260.6 486.3,258.1 489.0,255.0 491.7,266.6 494.4,265.1 497.0,260.0 499.7,259.8 502.4,259.7 505.1,255.9 507.7,260.4 510.4,256.6 513.1,255.7 515.8,256.0 518.4,262.5 521.1,267.5 523.8,248.5 526.5,256.6 529.1,254.0 531.8,253.6 534.5,258.0 537.1,256.3 539.8,256.9 542.5,259.8 545.2,269.3 547.8,275.0 550.5,259.6 553.2,256.5 555.9,263.9 558.5,261.4 561.2,261.9 563.9,263.5 566.6,262.6 569.2,260.7 571.9,261.1 574.6,260.5 577.3,267.4 579.9,255.6 582.6,269.2 585.3,257.6 588.0,243.1 590.6,246.3 593.3,255.3 596.0,249.2 598.7,268.6 601.3,259.9 604.0,275.3 606.7,264.6 609.4,242.5 612.0,251.6 614.7,251.5 617.4,233.2 620.0,229.9 622.7,235.7 625.4,229.8 628.1,240.3 630.7,241.4 633.4,245.1 636.1,230.2 638.8,240.5 641.4,237.2 644.1,233.3 646.8,235.2 649.5,252.9 652.1,259.8 654.8,257.5 657.5,257.7 660.2,184.5 662.8,115.0 665.5,182.6 668.2,244.1 670.9,243.7 673.5,241.5 676.2,243.2 678.9,241.6 681.6,230.2 684.2,232.5 686.9,236.3 689.6,242.3 692.3,242.9 694.9,234.8" fill="none" stroke="#a3a3a3" stroke-width="0.85" stroke-linejoin="round"/>
<polyline points="55.8,264.2 58.5,253.4 61.1,253.3 63.8,258.5 66.5,254.1 69.2,267.8 71.8,259.7 74.5,258.2 77.2,262.7 79.9,252.6 82.5,259.2 85.2,266.0 87.9,260.6 90.6,259.9 93.2,263.8 95.9,265.3 98.6,265.1 101.3,263.7 103.9,261.0 106.6,261.2 109.3,261.1 112.0,263.6 114.6,251.7 117.3,263.5 120.0,260.0 122.7,254.0 125.3,258.3 128.0,258.6 130.7,257.8 133.4,255.5 136.0,261.7 138.7,257.6 141.4,256.2 144.0,261.6 146.7,277.3 149.4,262.5 152.1,259.6 154.7,249.5 157.4,243.9 160.1,249.8 162.8,262.3 165.4,265.6 168.1,260.3 170.8,266.8 173.5,257.4 176.1,261.4 178.8,267.7 181.5,265.3 184.2,260.5 186.8,257.9 189.5,263.1 192.2,258.4 194.9,262.7 197.5,256.5 200.2,262.3 202.9,264.6 205.6,254.3 208.2,257.1 210.9,259.4 213.6,265.3 216.2,264.9 218.9,260.1 221.6,252.7 224.3,247.6 226.9,256.0 229.6,259.9 232.3,257.7 235.0,258.1 237.6,262.1 240.3,259.7 243.0,262.1 245.7,263.5 248.3,252.4 251.0,264.5 253.7,263.3 256.4,233.0 259.0,259.9 261.7,266.0 264.4,260.3 267.1,256.5 269.7,256.4 272.4,263.7 275.1,258.4 277.8,265.0 280.4,261.0 283.1,260.4 285.8,266.2 288.5,263.2 291.1,258.5 293.8,264.4 296.5,262.1 299.1,254.4 301.8,255.7 304.5,245.5 307.2,241.4 309.8,253.3 312.5,257.6 315.2,265.1 317.9,260.7 320.5,265.2 323.2,263.6 325.9,260.6 328.6,257.2 331.2,259.1 333.9,255.4 336.6,257.1 339.3,259.4 341.9,260.0 344.6,256.6 347.3,262.1 350.0,262.2 352.6,265.4 355.3,262.8 358.0,269.7 360.7,259.9 363.3,256.3 366.0,260.4 368.7,251.1 371.4,233.7 374.0,251.8 376.7,264.4 379.4,269.1 382.0,262.1 384.7,260.4 387.4,254.4 390.1,262.3 392.7,254.2 395.4,257.4 398.1,260.5 400.8,262.5 403.4,259.5 406.1,257.5 408.8,263.7 411.5,264.6 414.1,263.1 416.8,264.5 419.5,262.6 422.2,261.7 424.8,260.2 427.5,262.5 430.2,263.5 432.9,255.0 435.5,260.5 438.2,261.4 440.9,262.4 443.6,253.8 446.2,255.0 448.9,262.2 451.6,261.9 454.3,270.1 456.9,263.6 459.6,262.9 462.3,254.0 464.9,258.5 467.6,258.6 470.3,252.4 473.0,259.8 475.6,257.5 478.3,267.1 481.0,256.4 483.7,266.9 486.3,268.8 489.0,264.6 491.7,262.4 494.4,255.8 497.0,254.7 499.7,254.1 502.4,247.5 505.1,255.7 507.7,256.8 510.4,260.5 513.1,261.6 515.8,260.2 518.4,243.6 521.1,249.4 523.8,256.3 526.5,261.6 529.1,260.9 531.8,254.7 534.5,268.7 537.1,261.3 539.8,259.0 542.5,256.3 545.2,258.4 547.8,263.1 550.5,263.4 553.2,267.0 555.9,252.7 558.5,246.2 561.2,257.6 563.9,251.7 566.6,253.1 569.2,276.8 571.9,267.0 574.6,260.0 577.3,258.4 579.9,260.7 582.6,256.7 585.3,264.1 588.0,277.4 590.6,258.3 593.3,268.6 596.0,266.8 598.7,258.1 601.3,256.7 604.0,257.7 606.7,245.3 609.4,224.5 612.0,248.1 614.7,198.5 617.4,226.7 620.0,238.4 622.7,234.8 625.4,249.9 628.1,232.2 630.7,233.6 633.4,236.1 636.1,237.3 638.8,230.4 641.4,186.1 644.1,213.2 646.8,242.1 649.5,112.7 652.1,169.6 654.8,216.8 657.5,191.3 660.2,211.5 662.8,220.2 665.5,158.0 668.2,112.7 670.9,168.1 673.5,154.5 676.2,200.2 678.9,230.1 681.6,241.7 684.2,224.1 686.9,241.6 689.6,247.1 692.3,218.4 694.9,216.5" fill="none" stroke="#a3a3a3" stroke-width="0.85" stroke-linejoin="round"/>
<polyline points="55.8,252.3 58.5,255.2 61.1,261.6 63.8,263.8 66.5,259.1 69.2,260.1 71.8,262.8 74.5,253.0 77.2,262.0 79.9,260.3 82.5,258.7 85.2,260.1 87.9,264.3 90.6,261.2 93.2,258.1 95.9,258.0 98.6,263.1 101.3,257.0 103.9,259.8 106.6,260.8 109.3,258.9 112.0,260.4 114.6,261.5 117.3,257.8 120.0,257.3 122.7,262.0 125.3,260.2 128.0,259.9 130.7,263.4 133.4,261.5 136.0,256.9 138.7,261.4 141.4,263.8 144.0,260.6 146.7,262.5 149.4,257.5 152.1,258.8 154.7,263.4 157.4,256.9 160.1,255.4 162.8,259.2 165.4,265.2 168.1,262.9 170.8,258.3 173.5,255.1 176.1,255.4 178.8,260.0 181.5,261.6 184.2,258.7 186.8,262.4 189.5,262.0 192.2,263.4 194.9,256.7 197.5,258.6 200.2,261.4 202.9,262.3 205.6,259.9 208.2,260.6 210.9,262.6 213.6,256.7 216.2,256.0 218.9,259.0 221.6,264.4 224.3,256.6 226.9,249.2 229.6,240.0 232.3,248.8 235.0,252.8 237.6,263.6 240.3,263.6 243.0,261.7 245.7,257.9 248.3,256.2 251.0,253.8 253.7,258.4 256.4,259.1 259.0,264.6 261.7,258.6 264.4,255.3 267.1,258.3 269.7,259.9 272.4,262.3 275.1,258.2 277.8,259.0 280.4,259.1 283.1,260.6 285.8,262.6 288.5,258.7 291.1,262.2 293.8,258.7 296.5,259.4 299.1,260.1 301.8,262.1 304.5,262.4 307.2,263.0 309.8,260.9 312.5,262.3 315.2,256.6 317.9,258.1 320.5,263.0 323.2,260.7 325.9,263.3 328.6,260.4 331.2,263.2 333.9,264.3 336.6,263.7 339.3,259.2 341.9,260.8 344.6,261.8 347.3,262.9 350.0,264.5 352.6,258.4 355.3,266.7 358.0,261.0 360.7,259.1 363.3,257.8 366.0,261.1 368.7,248.1 371.4,244.5 374.0,259.9 376.7,267.2 379.4,261.6 382.0,255.6 384.7,257.7 387.4,255.3 390.1,259.7 392.7,260.3 395.4,258.0 398.1,260.8 400.8,260.0 403.4,267.7 406.1,262.1 408.8,265.0 411.5,262.9 414.1,258.5 416.8,259.8 419.5,265.9 422.2,261.1 424.8,260.0 427.5,262.7 430.2,257.9 432.9,257.7 435.5,256.5 438.2,269.2 440.9,265.1 443.6,259.4 446.2,258.1 448.9,263.4 451.6,262.0 454.3,254.3 456.9,264.4 459.6,260.9 462.3,261.6 464.9,261.3 467.6,260.5 470.3,268.6 473.0,265.2 475.6,261.1 478.3,266.1 481.0,266.9 483.7,265.6 486.3,259.7 489.0,271.7 491.7,264.3 494.4,250.4 497.0,258.8 499.7,258.7 502.4,263.9 505.1,258.9 507.7,259.7 510.4,268.5 513.1,265.7 515.8,267.4 518.4,256.4 521.1,267.1 523.8,268.9 526.5,264.2 529.1,262.3 531.8,266.0 534.5,260.8 537.1,267.3 539.8,257.6 542.5,266.4 545.2,257.8 547.8,264.6 550.5,261.3 553.2,263.5 555.9,266.8 558.5,266.5 561.2,258.8 563.9,256.3 566.6,253.7 569.2,268.6 571.9,269.9 574.6,265.2 577.3,266.1 579.9,263.9 582.6,269.6 585.3,266.4 588.0,247.3 590.6,243.0 593.3,255.7 596.0,242.5 598.7,236.4 601.3,231.0 604.0,228.3 606.7,219.6 609.4,223.0 612.0,221.4 614.7,221.7 617.4,223.9 620.0,222.5 622.7,214.0 625.4,227.3 628.1,199.4 630.7,209.7 633.4,220.1 636.1,216.6 638.8,199.9 641.4,214.9 644.1,224.2 646.8,214.3 649.5,201.5 652.1,213.4 654.8,232.3 657.5,223.3 660.2,224.3 662.8,215.2 665.5,220.9 668.2,225.0 670.9,226.3 673.5,226.5 676.2,222.1 678.9,222.3 681.6,205.7 684.2,206.5 686.9,219.6 689.6,211.2 692.3,161.8 694.9,119.5" fill="none" stroke="#a3a3a3" stroke-width="0.85" stroke-linejoin="round"/>
<polyline points="55.8,274.4 58.5,245.7 61.1,264.1 63.8,258.7 66.5,268.6 69.2,266.2 71.8,257.8 74.5,247.0 77.2,259.3 79.9,260.5 82.5,264.1 85.2,265.9 87.9,265.4 90.6,267.0 93.2,262.5 95.9,268.9 98.6,267.7 101.3,277.1 103.9,274.3 106.6,263.9 109.3,247.7 112.0,262.4 114.6,253.1 117.3,266.8 120.0,261.0 122.7,262.9 125.3,258.1 128.0,262.2 130.7,259.3 133.4,258.4 136.0,265.7 138.7,263.3 141.4,258.1 144.0,254.9 146.7,273.3 149.4,263.8 152.1,243.3 154.7,270.9 157.4,272.4 160.1,267.3 162.8,262.0 165.4,261.0 168.1,258.6 170.8,256.7 173.5,250.3 176.1,252.8 178.8,255.9 181.5,260.7 184.2,260.2 186.8,272.8 189.5,268.9 192.2,259.2 194.9,262.9 197.5,252.4 200.2,262.2 202.9,267.0 205.6,260.8 208.2,253.0 210.9,261.0 213.6,259.7 216.2,265.7 218.9,260.7 221.6,259.0 224.3,239.3 226.9,257.0 229.6,251.9 232.3,265.7 235.0,264.9 237.6,262.3 240.3,259.1 243.0,265.3 245.7,258.2 248.3,246.8 251.0,240.1 253.7,278.9 256.4,275.3 259.0,276.1 261.7,246.6 264.4,264.3 267.1,258.5 269.7,260.2 272.4,259.7 275.1,249.5 277.8,247.0 280.4,252.5 283.1,260.8 285.8,259.3 288.5,260.6 291.1,261.5 293.8,264.7 296.5,265.4 299.1,255.0 301.8,257.3 304.5,259.0 307.2,262.7 309.8,268.2 312.5,250.9 315.2,257.6 317.9,256.7 320.5,246.8 323.2,264.4 325.9,247.9 328.6,235.2 331.2,243.9 333.9,246.2 336.6,257.1 339.3,255.2 341.9,261.1 344.6,257.1 347.3,251.9 350.0,254.2 352.6,249.1 355.3,268.6 358.0,252.2 360.7,252.2 363.3,268.5 366.0,277.8 368.7,270.7 371.4,252.0 374.0,249.3 376.7,250.1 379.4,256.5 382.0,270.3 384.7,263.6 387.4,264.6 390.1,255.2 392.7,260.8 395.4,270.4 398.1,273.2 400.8,277.8 403.4,267.0 406.1,244.5 408.8,254.5 411.5,261.6 414.1,256.4 416.8,267.6 419.5,251.4 422.2,250.3 424.8,257.9 427.5,259.1 430.2,237.8 432.9,245.7 435.5,249.9 438.2,251.3 440.9,245.4 443.6,251.8 446.2,250.0 448.9,238.7 451.6,251.9 454.3,255.1 456.9,258.9 459.6,247.2 462.3,270.5 464.9,265.4 467.6,270.5 470.3,261.3 473.0,256.0 475.6,275.7 478.3,261.2 481.0,267.2 483.7,288.3 486.3,273.0 489.0,254.0 491.7,273.6 494.4,265.1 497.0,252.6 499.7,281.0 502.4,266.7 505.1,269.4 507.7,260.9 510.4,268.3 513.1,270.2 515.8,272.1 518.4,260.9 521.1,251.8 523.8,250.8 526.5,237.1 529.1,258.7 531.8,276.3 534.5,272.4 537.1,267.6 539.8,271.7 542.5,259.5 545.2,253.3 547.8,257.2 550.5,259.6 553.2,266.6 555.9,268.7 558.5,254.5 561.2,251.4 563.9,252.1 566.6,256.4 569.2,258.8 571.9,261.0 574.6,281.6 577.3,277.2 579.9,267.9 582.6,267.2 585.3,268.9 588.0,251.2 590.6,251.2 593.3,248.5 596.0,249.9 598.7,250.4 601.3,225.0 604.0,184.8 606.7,150.0 609.4,212.5 612.0,244.7 614.7,239.2 617.4,218.6 620.0,214.4 622.7,215.5 625.4,230.9 628.1,243.6 630.7,216.3 633.4,235.0 636.1,221.5 638.8,240.1 641.4,207.7 644.1,233.2 646.8,266.2 649.5,241.0 652.1,244.8 654.8,257.2 657.5,256.2 660.2,246.1 662.8,235.2 665.5,238.6 668.2,244.6 670.9,235.3 673.5,244.5 676.2,260.0 678.9,244.4 681.6,234.1 684.2,219.3 686.9,253.3 689.6,237.7 692.3,218.2 694.9,241.6" fill="none" stroke="#a3a3a3" stroke-width="0.85" stroke-linejoin="round"/>
<polyline points="55.8,260.2 58.5,251.8 61.1,263.4 63.8,259.1 66.5,264.5 69.2,259.2 71.8,259.4 74.5,254.7 77.2,258.4 79.9,263.2 82.5,263.6 85.2,260.0 87.9,259.3 90.6,252.7 93.2,242.6 95.9,235.8 98.6,242.1 101.3,254.1 103.9,257.0 106.6,260.2 109.3,260.7 112.0,264.5 114.6,260.5 117.3,262.9 120.0,262.0 122.7,260.9 125.3,244.3 128.0,265.6 130.7,258.8 133.4,261.3 136.0,258.5 138.7,256.1 141.4,260.3 144.0,258.6 146.7,258.4 149.4,260.6 152.1,262.4 154.7,262.0 157.4,265.9 160.1,262.2 162.8,261.2 165.4,260.8 168.1,259.0 170.8,256.5 173.5,260.4 176.1,261.6 178.8,261.6 181.5,259.9 184.2,262.3 186.8,262.1 189.5,260.5 192.2,259.2 194.9,256.5 197.5,260.5 200.2,258.9 202.9,258.9 205.6,261.5 208.2,262.2 210.9,262.5 213.6,259.8 216.2,259.4 218.9,260.9 221.6,261.9 224.3,256.7 226.9,253.3 229.6,256.6 232.3,263.7 235.0,258.9 237.6,260.1 240.3,263.3 243.0,257.4 245.7,254.3 248.3,258.7 251.0,260.5 253.7,262.9 256.4,259.4 259.0,255.7 261.7,260.9 264.4,260.9 267.1,262.3 269.7,262.4 272.4,259.6 275.1,262.7 277.8,264.8 280.4,258.7 283.1,262.8 285.8,261.5 288.5,259.1 291.1,262.0 293.8,256.8 296.5,260.6 299.1,255.4 301.8,262.7 304.5,256.3 307.2,256.7 309.8,261.2 312.5,265.2 315.2,265.4 317.9,265.0 320.5,263.1 323.2,259.1 325.9,256.4 328.6,257.1 331.2,258.9 333.9,260.7 336.6,259.3 339.3,255.5 341.9,261.3 344.6,263.2 347.3,264.5 350.0,259.7 352.6,260.3 355.3,254.4 358.0,258.1 360.7,258.3 363.3,262.8 366.0,259.9 368.7,250.2 371.4,237.5 374.0,254.2 376.7,260.6 379.4,262.4 382.0,263.8 384.7,252.2 387.4,236.6 390.1,248.6 392.7,259.0 395.4,258.5 398.1,264.9 400.8,262.3 403.4,262.5 406.1,259.5 408.8,257.9 411.5,262.1 414.1,263.4 416.8,265.0 419.5,266.7 422.2,258.0 424.8,263.1 427.5,259.1 430.2,251.3 432.9,258.0 435.5,255.8 438.2,260.6 440.9,259.7 443.6,260.0 446.2,266.2 448.9,264.7 451.6,254.4 454.3,258.7 456.9,269.2 459.6,262.9 462.3,258.4 464.9,258.5 467.6,255.7 470.3,265.4 473.0,268.1 475.6,257.7 478.3,260.6 481.0,258.4 483.7,264.6 486.3,260.3 489.0,264.3 491.7,262.5 494.4,256.6 497.0,255.3 499.7,258.3 502.4,242.4 505.1,262.6 507.7,248.2 510.4,243.3 513.1,256.7 515.8,267.5 518.4,270.5 521.1,262.8 523.8,258.8 526.5,263.8 529.1,261.2 531.8,255.4 534.5,255.4 537.1,259.5 539.8,260.4 542.5,263.6 545.2,260.5 547.8,251.1 550.5,264.2 553.2,256.1 555.9,260.7 558.5,269.0 561.2,257.6 563.9,259.6 566.6,257.0 569.2,262.1 571.9,263.8 574.6,259.6 577.3,252.3 579.9,252.5 582.6,262.1 585.3,255.5 588.0,249.4 590.6,251.9 593.3,253.9 596.0,246.5 598.7,248.8 601.3,240.0 604.0,233.9 606.7,238.5 609.4,233.6 612.0,224.9 614.7,197.7 617.4,164.1 620.0,194.5 622.7,224.2 625.4,226.6 628.1,217.2 630.7,218.9 633.4,222.9 636.1,228.8 638.8,219.7 641.4,212.7 644.1,219.0 646.8,216.5 649.5,214.7 652.1,204.2 654.8,207.5 657.5,198.2 660.2,199.7 662.8,208.7 665.5,207.6 668.2,200.2 670.9,211.3 673.5,222.7 676.2,213.7 678.9,214.1 681.6,211.7 684.2,214.3 686.9,214.3 689.6,216.2 692.3,209.1 694.9,213.1" fill="none" stroke="#a3a3a3" stroke-width="0.85" stroke-linejoin="round"/>
<polyline points="55.8,266.0 58.5,263.5 61.1,257.8 63.8,252.1 66.5,253.6 69.2,262.7 71.8,253.4 74.5,252.0 77.2,260.8 79.9,252.7 82.5,253.9 85.2,265.3 87.9,268.3 90.6,265.0 93.2,269.7 95.9,261.0 98.6,265.5 101.3,260.8 103.9,253.8 106.6,258.4 109.3,256.1 112.0,252.3 114.6,260.7 117.3,260.4 120.0,261.1 122.7,263.8 125.3,265.9 128.0,264.1 130.7,266.1 133.4,261.0 136.0,258.9 138.7,258.8 141.4,263.2 144.0,259.3 146.7,260.1 149.4,254.3 152.1,256.8 154.7,253.3 157.4,263.0 160.1,259.7 162.8,259.1 165.4,252.5 168.1,257.4 170.8,259.1 173.5,260.3 176.1,261.0 178.8,257.5 181.5,255.0 184.2,259.6 186.8,259.8 189.5,259.0 192.2,257.1 194.9,264.4 197.5,259.2 200.2,258.1 202.9,254.2 205.6,254.5 208.2,257.7 210.9,264.8 213.6,263.3 216.2,261.9 218.9,262.0 221.6,263.5 224.3,263.2 226.9,262.6 229.6,265.7 232.3,262.6 235.0,266.1 237.6,267.4 240.3,267.4 243.0,263.3 245.7,260.2 248.3,262.5 251.0,259.6 253.7,265.1 256.4,259.2 259.0,260.1 261.7,260.1 264.4,261.0 267.1,257.8 269.7,254.2 272.4,264.7 275.1,261.7 277.8,267.5 280.4,258.0 283.1,259.8 285.8,253.4 288.5,265.2 291.1,263.4 293.8,257.2 296.5,256.0 299.1,260.8 301.8,259.7 304.5,261.6 307.2,263.2 309.8,261.2 312.5,262.3 315.2,264.2 317.9,263.0 320.5,261.9 323.2,265.4 325.9,264.5 328.6,264.0 331.2,264.9 333.9,264.8 336.6,266.5 339.3,260.8 341.9,262.6 344.6,257.0 347.3,264.6 350.0,255.8 352.6,262.2 355.3,263.5 358.0,261.9 360.7,264.6 363.3,270.7 366.0,266.9 368.7,251.1 371.4,242.1 374.0,271.0 376.7,270.3 379.4,264.5 382.0,258.4 384.7,261.8 387.4,254.5 390.1,260.1 392.7,262.6 395.4,262.3 398.1,257.6 400.8,267.8 403.4,258.4 406.1,261.2 408.8,254.8 411.5,264.5 414.1,256.1 416.8,264.0 419.5,267.1 422.2,258.2 424.8,264.9 427.5,256.1 430.2,256.9 432.9,263.1 435.5,253.6 438.2,260.0 440.9,257.4 443.6,276.6 446.2,266.5 448.9,260.3 451.6,264.6 454.3,269.3 456.9,265.0 459.6,256.8 462.3,256.9 464.9,249.6 467.6,262.5 470.3,259.0 473.0,251.4 475.6,258.5 478.3,255.4 481.0,262.7 483.7,253.3 486.3,248.8 489.0,245.2 491.7,269.0 494.4,257.1 497.0,247.9 499.7,240.5 502.4,251.5 505.1,261.5 507.7,255.1 510.4,279.2 513.1,259.6 515.8,261.7 518.4,247.0 521.1,270.4 523.8,262.0 526.5,262.5 529.1,263.6 531.8,271.5 534.5,261.2 537.1,260.1 539.8,247.8 542.5,251.5 545.2,256.8 547.8,263.2 550.5,258.6 553.2,257.2 555.9,272.5 558.5,259.7 561.2,267.8 563.9,259.8 566.6,259.6 569.2,268.3 571.9,255.5 574.6,263.5 577.3,271.3 579.9,265.7 582.6,265.9 585.3,261.6 588.0,256.3 590.6,260.1 593.3,252.6 596.0,259.5 598.7,266.0 601.3,255.8 604.0,253.8 606.7,254.7 609.4,242.8 612.0,253.0 614.7,259.0 617.4,242.3 620.0,251.7 622.7,242.1 625.4,242.1 628.1,251.7 630.7,256.8 633.4,228.4 636.1,243.1 638.8,245.6 641.4,242.7 644.1,239.2 646.8,216.2 649.5,181.5 652.1,220.1 654.8,260.9 657.5,246.3 660.2,253.2 662.8,260.5 665.5,250.7 668.2,257.1 670.9,250.3 673.5,242.9 676.2,254.4 678.9,247.4 681.6,247.7 684.2,253.2 686.9,236.6 689.6,238.0 692.3,233.5 694.9,231.9" fill="none" stroke="#a3a3a3" stroke-width="0.85" stroke-linejoin="round"/>
<polyline points="55.8,262.3 58.5,264.6 61.1,262.9 63.8,263.6 66.5,265.6 69.2,259.1 71.8,266.2 74.5,259.2 77.2,256.9 79.9,260.0 82.5,255.1 85.2,260.4 87.9,255.5 90.6,258.9 93.2,261.9 95.9,257.1 98.6,260.0 101.3,259.5 103.9,261.3 106.6,260.6 109.3,259.3 112.0,263.3 114.6,261.0 117.3,255.6 120.0,260.8 122.7,261.2 125.3,258.8 128.0,260.1 130.7,261.9 133.4,259.4 136.0,250.8 138.7,247.9 141.4,254.5 144.0,261.2 146.7,262.9 149.4,258.4 152.1,259.9 154.7,253.8 157.4,256.2 160.1,260.3 162.8,257.3 165.4,257.0 168.1,257.9 170.8,256.4 173.5,255.1 176.1,253.1 178.8,253.3 181.5,246.9 184.2,254.5 186.8,256.8 189.5,244.7 192.2,253.6 194.9,258.7 197.5,259.1 200.2,262.3 202.9,265.3 205.6,258.8 208.2,259.5 210.9,267.6 213.6,259.5 216.2,260.0 218.9,257.6 221.6,267.9 224.3,265.8 226.9,261.4 229.6,255.9 232.3,260.4 235.0,255.7 237.6,260.2 240.3,253.5 243.0,261.5 245.7,257.3 248.3,252.8 251.0,254.5 253.7,257.9 256.4,259.6 259.0,261.7 261.7,261.8 264.4,258.8 267.1,255.4 269.7,260.3 272.4,258.9 275.1,257.9 277.8,265.8 280.4,267.2 283.1,264.7 285.8,264.8 288.5,267.5 291.1,260.2 293.8,264.0 296.5,259.8 299.1,261.6 301.8,261.0 304.5,261.1 307.2,252.1 309.8,253.8 312.5,260.5 315.2,256.0 317.9,259.1 320.5,263.7 323.2,262.3 325.9,261.1 328.6,259.2 331.2,261.6 333.9,258.8 336.6,259.5 339.3,261.2 341.9,258.8 344.6,260.3 347.3,259.8 350.0,262.2 352.6,259.7 355.3,258.6 358.0,258.3 360.7,260.1 363.3,258.8 366.0,255.4 368.7,249.8 371.4,245.0 374.0,249.8 376.7,257.1 379.4,261.6 382.0,267.6 384.7,262.7 387.4,264.6 390.1,262.1 392.7,261.5 395.4,258.7 398.1,258.7 400.8,256.7 403.4,259.0 406.1,255.7 408.8,257.7 411.5,267.4 414.1,267.0 416.8,268.4 419.5,267.5 422.2,261.4 424.8,259.0 427.5,254.8 430.2,263.8 432.9,266.6 435.5,253.7 438.2,254.7 440.9,253.2 443.6,261.0 446.2,263.7 448.9,262.8 451.6,263.5 454.3,266.8 456.9,261.7 459.6,264.4 462.3,257.1 464.9,261.5 467.6,266.6 470.3,250.0 473.0,254.7 475.6,251.4 478.3,256.0 481.0,254.6 483.7,252.8 486.3,254.0 489.0,257.1 491.7,263.2 494.4,258.5 497.0,252.1 499.7,261.3 502.4,263.9 505.1,259.2 507.7,260.6 510.4,261.6 513.1,253.0 515.8,253.5 518.4,254.8 521.1,255.1 523.8,262.2 526.5,266.5 529.1,269.2 531.8,263.8 534.5,256.1 537.1,246.2 539.8,259.8 542.5,259.1 545.2,251.9 547.8,253.9 550.5,263.1 553.2,260.4 555.9,254.5 558.5,263.5 561.2,260.3 563.9,273.1 566.6,254.0 569.2,260.3 571.9,271.5 574.6,262.4 577.3,267.7 579.9,261.1 582.6,255.6 585.3,262.4 588.0,261.7 590.6,252.3 593.3,254.5 596.0,243.5 598.7,241.2 601.3,241.0 604.0,237.1 606.7,229.1 609.4,232.5 612.0,223.0 614.7,221.0 617.4,206.0 620.0,202.9 622.7,205.0 625.4,211.5 628.1,211.0 630.7,207.0 633.4,211.5 636.1,210.7 638.8,207.7 641.4,205.7 644.1,216.2 646.8,222.8 649.5,223.7 652.1,225.8 654.8,215.6 657.5,204.8 660.2,216.8 662.8,203.4 665.5,218.5 668.2,208.9 670.9,202.5 673.5,194.6 676.2,206.2 678.9,185.0 681.6,175.9 684.2,194.5 686.9,211.6 689.6,219.1 692.3,206.9 694.9,200.1" fill="none" stroke="#a3a3a3" stroke-width="0.85" stroke-linejoin="round"/>
<polyline points="55.8,261.9 58.5,252.8 61.1,257.5 63.8,261.8 66.5,262.0 69.2,266.6 71.8,257.5 74.5,256.6 77.2,258.0 79.9,256.0 82.5,257.9 85.2,257.3 87.9,259.4 90.6,257.0 93.2,264.5 95.9,268.6 98.6,278.2 101.3,269.4 103.9,261.8 106.6,242.1 109.3,248.6 112.0,239.0 114.6,252.9 117.3,262.1 120.0,262.5 122.7,261.3 125.3,259.0 128.0,259.2 130.7,257.9 133.4,258.7 136.0,257.8 138.7,255.9 141.4,257.1 144.0,245.6 146.7,233.1 149.4,254.7 152.1,259.5 154.7,253.8 157.4,264.8 160.1,263.7 162.8,264.7 165.4,259.0 168.1,262.9 170.8,263.5 173.5,261.1 176.1,261.7 178.8,260.2 181.5,264.8 184.2,267.3 186.8,266.7 189.5,261.3 192.2,253.1 194.9,256.1 197.5,258.7 200.2,259.4 202.9,264.4 205.6,258.7 208.2,260.0 210.9,241.0 213.6,265.3 216.2,260.7 218.9,256.7 221.6,255.4 224.3,252.4 226.9,255.0 229.6,257.7 232.3,264.4 235.0,257.8 237.6,260.6 240.3,254.0 243.0,263.3 245.7,263.5 248.3,262.5 251.0,254.3 253.7,254.9 256.4,255.6 259.0,256.5 261.7,262.0 264.4,257.4 267.1,258.1 269.7,264.7 272.4,259.7 275.1,258.2 277.8,256.4 280.4,249.5 283.1,237.7 285.8,251.5 288.5,259.1 291.1,261.1 293.8,254.7 296.5,256.3 299.1,264.8 301.8,260.5 304.5,265.5 307.2,254.4 309.8,259.1 312.5,258.3 315.2,260.5 317.9,262.9 320.5,264.4 323.2,256.6 325.9,261.2 328.6,254.4 331.2,260.5 333.9,261.7 336.6,253.4 339.3,265.6 341.9,266.9 344.6,263.6 347.3,268.8 350.0,261.7 352.6,260.4 355.3,257.7 358.0,266.9 360.7,263.1 363.3,258.4 366.0,262.9 368.7,253.0 371.4,254.4 374.0,254.4 376.7,253.0 379.4,259.0 382.0,250.8 384.7,256.4 387.4,258.5 390.1,257.7 392.7,260.4 395.4,262.9 398.1,259.0 400.8,257.5 403.4,260.1 406.1,261.4 408.8,258.5 411.5,256.9 414.1,254.6 416.8,254.7 419.5,260.7 422.2,255.4 424.8,266.6 427.5,257.5 430.2,247.1 432.9,261.3 435.5,268.1 438.2,256.8 440.9,257.3 443.6,256.8 446.2,257.9 448.9,254.8 451.6,261.1 454.3,262.9 456.9,256.8 459.6,258.1 462.3,255.0 464.9,273.2 467.6,267.4 470.3,258.8 473.0,261.5 475.6,257.9 478.3,266.9 481.0,257.3 483.7,259.0 486.3,259.3 489.0,248.1 491.7,268.5 494.4,259.8 497.0,256.5 499.7,262.1 502.4,257.8 505.1,240.7 507.7,261.4 510.4,262.4 513.1,259.8 515.8,257.5 518.4,257.9 521.1,262.5 523.8,266.5 526.5,258.4 529.1,255.9 531.8,263.4 534.5,259.6 537.1,263.3 539.8,255.7 542.5,266.3 545.2,260.0 547.8,256.6 550.5,260.4 553.2,251.2 555.9,249.0 558.5,251.1 561.2,261.3 563.9,254.2 566.6,265.4 569.2,255.2 571.9,259.7 574.6,253.1 577.3,251.2 579.9,269.9 582.6,260.3 585.3,264.0 588.0,257.7 590.6,274.6 593.3,263.9 596.0,259.5 598.7,245.5 601.3,266.1 604.0,269.2 606.7,233.7 609.4,240.7 612.0,262.0 614.7,258.6 617.4,257.4 620.0,233.5 622.7,220.5 625.4,187.2 628.1,225.0 630.7,243.8 633.4,245.9 636.1,235.6 638.8,240.2 641.4,260.9 644.1,239.2 646.8,246.5 649.5,271.8 652.1,245.8 654.8,269.9 657.5,263.1 660.2,261.2 662.8,254.7 665.5,247.0 668.2,248.6 670.9,243.3 673.5,239.2 676.2,228.8 678.9,252.4 681.6,240.3 684.2,262.0 686.9,256.3 689.6,259.5 692.3,236.2 694.9,261.4" fill="none" stroke="#a3a3a3" stroke-width="0.85" stroke-linejoin="round"/>
<polyline points="55.8,252.5 58.5,260.7 61.1,258.6 63.8,261.9 66.5,268.9 69.2,265.4 71.8,259.6 74.5,267.1 77.2,266.7 79.9,264.8 82.5,257.9 85.2,257.6 87.9,253.6 90.6,254.3 93.2,263.4 95.9,255.8 98.6,257.7 101.3,258.6 103.9,260.4 106.6,252.7 109.3,264.0 112.0,259.6 114.6,257.9 117.3,260.9 120.0,259.8 122.7,256.8 125.3,263.0 128.0,258.0 130.7,255.1 133.4,262.6 136.0,259.8 138.7,261.0 141.4,264.1 144.0,262.9 146.7,259.1 149.4,269.2 152.1,263.9 154.7,263.0 157.4,261.0 160.1,266.2 162.8,263.6 165.4,264.3 168.1,256.7 170.8,255.4 173.5,262.1 176.1,260.8 178.8,264.9 181.5,268.3 184.2,258.7 186.8,265.2 189.5,265.8 192.2,262.1 194.9,258.8 197.5,265.0 200.2,259.8 202.9,263.7 205.6,264.4 208.2,258.6 210.9,256.6 213.6,253.4 216.2,255.7 218.9,258.1 221.6,262.0 224.3,253.1 226.9,258.6 229.6,269.8 232.3,260.9 235.0,262.6 237.6,259.2 240.3,260.1 243.0,260.8 245.7,259.9 248.3,266.8 251.0,259.1 253.7,257.1 256.4,254.7 259.0,255.9 261.7,264.1 264.4,262.3 267.1,258.9 269.7,261.3 272.4,261.8 275.1,261.7 277.8,267.6 280.4,256.9 283.1,258.9 285.8,256.0 288.5,254.1 291.1,259.6 293.8,257.1 296.5,252.8 299.1,260.3 301.8,258.4 304.5,260.9 307.2,258.4 309.8,260.3 312.5,263.0 315.2,267.0 317.9,266.4 320.5,267.8 323.2,256.3 325.9,262.0 328.6,259.9 331.2,263.4 333.9,264.7 336.6,257.4 339.3,259.1 341.9,264.5 344.6,258.4 347.3,262.6 350.0,261.8 352.6,259.8 355.3,258.4 358.0,264.3 360.7,257.3 363.3,256.2 366.0,256.7 368.7,243.7 371.4,218.0 374.0,243.0 376.7,262.0 379.4,265.1 382.0,255.3 384.7,253.8 387.4,252.8 390.1,252.4 392.7,256.8 395.4,262.5 398.1,264.9 400.8,266.2 403.4,261.1 406.1,261.6 408.8,254.7 411.5,258.2 414.1,258.1 416.8,265.7 419.5,262.1 422.2,260.8 424.8,259.3 427.5,257.0 430.2,262.9 432.9,252.7 435.5,268.7 438.2,268.2 440.9,258.5 443.6,262.9 446.2,258.9 448.9,260.9 451.6,262.7 454.3,262.1 456.9,270.7 459.6,257.5 462.3,265.7 464.9,264.0 467.6,261.6 470.3,262.0 473.0,267.4 475.6,262.3 478.3,254.3 481.0,256.3 483.7,263.6 486.3,261.4 489.0,274.7 491.7,263.8 494.4,261.5 497.0,265.7 499.7,259.8 502.4,265.0 505.1,263.6 507.7,273.8 510.4,255.1 513.1,262.3 515.8,252.8 518.4,257.2 521.1,257.1 523.8,258.3 526.5,263.2 529.1,253.9 531.8,265.0 534.5,271.2 537.1,277.7 539.8,252.0 542.5,257.2 545.2,257.6 547.8,262.4 550.5,256.0 553.2,240.2 555.9,235.1 558.5,227.7 561.2,240.9 563.9,268.6 566.6,261.6 569.2,268.8 571.9,259.0 574.6,261.5 577.3,261.6 579.9,250.8 582.6,245.1 585.3,246.6 588.0,248.6 590.6,248.1 593.3,249.9 596.0,259.1 598.7,243.1 601.3,249.3 604.0,238.3 606.7,219.9 609.4,234.5 612.0,224.9 614.7,227.9 617.4,229.8 620.0,241.0 622.7,243.3 625.4,239.3 628.1,258.0 630.7,241.9 633.4,229.6 636.1,260.1 638.8,253.8 641.4,227.1 644.1,240.1 646.8,242.0 649.5,215.4 652.1,230.7 654.8,217.0 657.5,192.8 660.2,207.8 662.8,234.3 665.5,223.8 668.2,239.5 670.9,221.6 673.5,238.7 676.2,248.9 678.9,243.5 681.6,234.8 684.2,238.8 686.9,249.5 689.6,234.0 692.3,239.7 694.9,243.4" fill="none" stroke="#a3a3a3" stroke-width="0.85" stroke-linejoin="round"/>
<polyline points="55.8,265.8 58.5,258.7 61.1,258.9 63.8,264.4 66.5,260.8 69.2,256.7 71.8,261.5 74.5,262.4 77.2,259.3 79.9,252.7 82.5,257.4 85.2,253.8 87.9,254.5 90.6,253.2 93.2,257.8 95.9,263.3 98.6,261.0 101.3,258.2 103.9,259.1 106.6,261.4 109.3,256.8 112.0,257.9 114.6,261.8 117.3,258.4 120.0,262.7 122.7,257.5 125.3,256.0 128.0,263.3 130.7,260.9 133.4,257.4 136.0,261.1 138.7,260.6 141.4,257.5 144.0,261.2 146.7,263.4 149.4,258.8 152.1,260.8 154.7,262.9 157.4,263.9 160.1,261.9 162.8,262.2 165.4,264.0 168.1,261.2 170.8,260.9 173.5,262.0 176.1,261.4 178.8,261.2 181.5,261.7 184.2,265.6 186.8,260.4 189.5,261.8 192.2,260.2 194.9,259.4 197.5,258.9 200.2,258.2 202.9,254.4 205.6,257.9 208.2,260.7 210.9,258.7 213.6,262.2 216.2,259.1 218.9,258.9 221.6,260.4 224.3,260.0 226.9,259.4 229.6,260.9 232.3,258.0 235.0,260.4 237.6,261.5 240.3,265.5 243.0,260.1 245.7,261.2 248.3,262.4 251.0,262.8 253.7,263.8 256.4,258.1 259.0,257.5 261.7,261.0 264.4,261.0 267.1,263.0 269.7,263.3 272.4,261.4 275.1,260.1 277.8,261.7 280.4,259.3 283.1,261.9 285.8,260.7 288.5,258.6 291.1,259.8 293.8,261.0 296.5,259.5 299.1,259.1 301.8,258.4 304.5,260.1 307.2,262.6 309.8,259.4 312.5,259.2 315.2,261.3 317.9,260.3 320.5,257.0 323.2,264.6 325.9,270.5 328.6,277.1 331.2,272.2 333.9,266.3 336.6,257.8 339.3,259.5 341.9,259.6 344.6,255.9 347.3,261.6 350.0,261.6 352.6,259.2 355.3,261.0 358.0,263.3 360.7,258.2 363.3,258.2 366.0,258.1 368.7,250.4 371.4,242.3 374.0,251.4 376.7,263.0 379.4,259.5 382.0,259.1 384.7,259.4 387.4,262.0 390.1,262.7 392.7,260.8 395.4,245.3 398.1,267.2 400.8,258.8 403.4,263.3 406.1,260.4 408.8,265.5 411.5,260.0 414.1,264.6 416.8,259.1 419.5,257.5 422.2,259.2 424.8,258.3 427.5,261.3 430.2,257.8 432.9,255.8 435.5,247.3 438.2,235.8 440.9,245.5 443.6,251.7 446.2,268.6 448.9,257.0 451.6,254.0 454.3,264.2 456.9,260.0 459.6,260.5 462.3,261.4 464.9,262.6 467.6,259.5 470.3,263.0 473.0,263.9 475.6,262.3 478.3,251.8 481.0,246.1 483.7,244.9 486.3,248.3 489.0,261.3 491.7,260.3 494.4,266.8 497.0,264.7 499.7,261.1 502.4,261.2 505.1,265.0 507.7,263.6 510.4,259.4 513.1,252.8 515.8,262.7 518.4,262.7 521.1,264.7 523.8,261.4 526.5,257.1 529.1,254.9 531.8,255.0 534.5,261.9 537.1,257.9 539.8,257.9 542.5,269.9 545.2,263.6 547.8,254.4 550.5,264.4 553.2,263.9 555.9,255.5 558.5,263.3 561.2,261.7 563.9,255.1 566.6,247.0 569.2,248.8 571.9,256.9 574.6,268.7 577.3,261.7 579.9,262.4 582.6,260.8 585.3,254.9 588.0,264.6 590.6,244.9 593.3,243.0 596.0,251.4 598.7,243.4 601.3,240.7 604.0,232.9 606.7,224.8 609.4,235.5 612.0,221.2 614.7,227.2 617.4,209.9 620.0,228.4 622.7,216.0 625.4,218.0 628.1,211.8 630.7,215.3 633.4,217.6 636.1,219.0 638.8,209.5 641.4,202.7 644.1,200.7 646.8,207.3 649.5,216.4 652.1,215.1 654.8,209.7 657.5,203.0 660.2,209.0 662.8,205.6 665.5,210.7 668.2,209.6 670.9,216.4 673.5,232.3 676.2,222.8 678.9,211.9 681.6,219.1 684.2,212.7 686.9,224.2 689.6,218.3 692.3,224.5 694.9,220.0" fill="none" stroke="#a3a3a3" stroke-width="0.85" stroke-linejoin="round"/>
<polyline points="55.8,255.4 58.5,249.9 61.1,263.5 63.8,266.6 66.5,270.1 69.2,271.3 71.8,269.7 74.5,261.3 77.2,260.1 79.9,256.9 82.5,262.4 85.2,254.9 87.9,258.3 90.6,256.3 93.2,258.1 95.9,268.0 98.6,259.0 101.3,266.3 103.9,257.4 106.6,260.9 109.3,264.0 112.0,258.6 114.6,264.0 117.3,265.3 120.0,260.0 122.7,262.5 125.3,251.9 128.0,251.4 130.7,256.9 133.4,255.8 136.0,253.6 138.7,254.7 141.4,261.5 144.0,266.0 146.7,262.5 149.4,267.3 152.1,268.5 154.7,260.8 157.4,259.2 160.1,262.8 162.8,268.6 165.4,265.0 168.1,251.5 170.8,244.7 173.5,238.3 176.1,242.3 178.8,256.9 181.5,258.0 184.2,262.6 186.8,251.1 189.5,261.4 192.2,242.2 194.9,268.2 197.5,267.2 200.2,264.2 202.9,266.8 205.6,263.4 208.2,260.4 210.9,262.9 213.6,257.4 216.2,259.4 218.9,254.1 221.6,260.2 224.3,265.0 226.9,253.5 229.6,255.9 232.3,258.1 235.0,261.9 237.6,261.9 240.3,264.7 243.0,257.3 245.7,253.9 248.3,256.9 251.0,256.9 253.7,253.3 256.4,261.0 259.0,260.0 261.7,257.7 264.4,262.7 267.1,259.6 269.7,256.1 272.4,255.2 275.1,258.0 277.8,263.9 280.4,255.2 283.1,256.2 285.8,266.7 288.5,268.7 291.1,257.6 293.8,260.3 296.5,265.8 299.1,260.7 301.8,257.9 304.5,261.8 307.2,259.7 309.8,257.5 312.5,258.4 315.2,261.2 317.9,259.7 320.5,264.3 323.2,261.3 325.9,259.3 328.6,261.6 331.2,253.4 333.9,262.6 336.6,256.5 339.3,258.4 341.9,259.7 344.6,260.4 347.3,260.7 350.0,265.1 352.6,258.8 355.3,267.0 358.0,261.5 360.7,255.6 363.3,260.9 366.0,262.5 368.7,265.9 371.4,266.6 374.0,266.2 376.7,265.7 379.4,262.4 382.0,257.9 384.7,255.8 387.4,258.8 390.1,262.4 392.7,259.3 395.4,262.4 398.1,264.0 400.8,257.5 403.4,258.8 406.1,261.7 408.8,258.0 411.5,257.2 414.1,251.8 416.8,256.2 419.5,257.7 422.2,257.9 424.8,267.4 427.5,257.3 430.2,254.6 432.9,241.5 435.5,239.9 438.2,241.1 440.9,262.8 443.6,271.1 446.2,257.9 448.9,258.5 451.6,261.4 454.3,273.0 456.9,268.3 459.6,259.7 462.3,253.8 464.9,267.4 467.6,266.1 470.3,260.0 473.0,269.9 475.6,262.7 478.3,260.0 481.0,260.7 483.7,255.4 486.3,263.3 489.0,261.2 491.7,252.1 494.4,258.0 497.0,257.4 499.7,260.0 502.4,257.8 505.1,257.1 507.7,259.2 510.4,263.1 513.1,260.4 515.8,248.7 518.4,246.4 521.1,261.0 523.8,256.3 526.5,261.5 529.1,261.9 531.8,252.3 534.5,262.0 537.1,264.6 539.8,269.0 542.5,247.8 545.2,254.8 547.8,263.9 550.5,263.8 553.2,255.9 555.9,257.6 558.5,264.6 561.2,251.0 563.9,258.4 566.6,270.8 569.2,260.4 571.9,261.7 574.6,258.9 577.3,255.0 579.9,262.0 582.6,256.4 585.3,261.5 588.0,238.7 590.6,244.2 593.3,259.7 596.0,261.0 598.7,244.1 601.3,271.5 604.0,254.2 606.7,250.1 609.4,259.1 612.0,268.7 614.7,262.4 617.4,260.6 620.0,258.6 622.7,274.8 625.4,264.4 628.1,263.9 630.7,270.1 633.4,272.7 636.1,270.9 638.8,256.1 641.4,250.0 644.1,279.4 646.8,266.5 649.5,269.2 652.1,250.0 654.8,255.1 657.5,256.2 660.2,261.3 662.8,260.4 665.5,267.0 668.2,274.5 670.9,260.5 673.5,265.1 676.2,260.8 678.9,266.7 681.6,279.1 684.2,264.2 686.9,268.7 689.6,258.8 692.3,272.2 694.9,272.1" fill="none" stroke="#a3a3a3" stroke-width="0.85" stroke-linejoin="round"/>
<polyline points="55.8,251.4 58.5,263.7 61.1,264.0 63.8,266.2 66.5,281.1 69.2,271.4 71.8,259.8 74.5,264.8 77.2,253.2 79.9,258.2 82.5,266.4 85.2,264.1 87.9,258.8 90.6,262.5 93.2,261.6 95.9,272.2 98.6,260.9 101.3,260.6 103.9,267.7 106.6,265.9 109.3,264.7 112.0,259.6 114.6,262.5 117.3,257.8 120.0,261.4 122.7,252.2 125.3,261.3 128.0,256.0 130.7,245.0 133.4,257.1 136.0,255.4 138.7,250.6 141.4,244.4 144.0,255.1 146.7,253.6 149.4,261.4 152.1,258.9 154.7,268.0 157.4,261.3 160.1,255.0 162.8,260.7 165.4,259.2 168.1,259.1 170.8,262.7 173.5,257.9 176.1,258.4 178.8,261.2 181.5,265.7 184.2,257.5 186.8,258.9 189.5,257.7 192.2,257.2 194.9,263.7 197.5,258.3 200.2,269.8 202.9,260.4 205.6,256.4 208.2,261.1 210.9,264.9 213.6,262.2 216.2,250.2 218.9,229.5 221.6,245.0 224.3,258.5 226.9,270.0 229.6,262.1 232.3,259.3 235.0,256.7 237.6,257.1 240.3,264.7 243.0,267.5 245.7,263.8 248.3,250.4 251.0,255.0 253.7,260.2 256.4,257.7 259.0,265.9 261.7,252.7 264.4,262.6 267.1,265.4 269.7,254.3 272.4,256.7 275.1,258.8 277.8,254.4 280.4,255.3 283.1,261.2 285.8,259.1 288.5,254.7 291.1,254.3 293.8,264.6 296.5,256.9 299.1,257.0 301.8,259.0 304.5,258.8 307.2,255.5 309.8,265.3 312.5,269.6 315.2,263.3 317.9,268.4 320.5,255.4 323.2,259.7 325.9,261.3 328.6,260.5 331.2,259.3 333.9,267.7 336.6,262.9 339.3,264.5 341.9,255.4 344.6,265.7 347.3,256.8 350.0,260.0 352.6,262.4 355.3,263.7 358.0,257.5 360.7,261.5 363.3,265.3 366.0,265.3 368.7,250.4 371.4,240.9 374.0,256.0 376.7,253.2 379.4,261.9 382.0,276.3 384.7,265.6 387.4,257.0 390.1,253.2 392.7,264.2 395.4,258.4 398.1,259.6 400.8,256.7 403.4,259.6 406.1,267.1 408.8,268.0 411.5,276.1 414.1,267.9 416.8,263.9 419.5,264.4 422.2,266.4 424.8,248.4 427.5,262.2 430.2,265.6 432.9,274.9 435.5,266.3 438.2,257.6 440.9,257.3 443.6,260.4 446.2,259.7 448.9,257.2 451.6,259.8 454.3,257.5 456.9,255.2 459.6,262.5 462.3,266.5 464.9,266.4 467.6,251.7 470.3,260.3 473.0,273.0 475.6,253.4 478.3,251.4 481.0,256.2 483.7,270.4 486.3,257.8 489.0,259.7 491.7,269.0 494.4,243.0 497.0,263.9 499.7,253.7 502.4,260.1 505.1,260.3 507.7,262.4 510.4,264.2 513.1,271.2 515.8,261.8 518.4,279.5 521.1,264.6 523.8,277.7 526.5,271.8 529.1,269.7 531.8,260.9 534.5,260.1 537.1,264.3 539.8,258.1 542.5,251.5 545.2,260.5 547.8,283.1 550.5,264.4 553.2,268.4 555.9,243.1 558.5,242.0 561.2,258.4 563.9,257.3 566.6,258.6 569.2,241.1 571.9,240.3 574.6,246.7 577.3,259.6 579.9,262.9 582.6,253.2 585.3,255.9 588.0,253.1 590.6,257.2 593.3,254.6 596.0,262.4 598.7,273.5 601.3,279.5 604.0,275.7 606.7,278.2 609.4,272.3 612.0,267.0 614.7,262.7 617.4,295.0 620.0,308.1 622.7,268.6 625.4,260.5 628.1,274.7 630.7,271.9 633.4,273.6 636.1,262.4 638.8,266.8 641.4,277.3 644.1,286.7 646.8,280.2 649.5,292.9 652.1,274.5 654.8,269.2 657.5,286.0 660.2,275.2 662.8,268.4 665.5,286.0 668.2,295.3 670.9,285.9 673.5,269.8 676.2,294.2 678.9,284.7 681.6,269.6 684.2,284.0 686.9,279.7 689.6,280.4 692.3,274.1 694.9,282.9" fill="none" stroke="#a3a3a3" stroke-width="0.85" stroke-linejoin="round"/>
<polyline points="55.8,255.1 58.5,262.6 61.1,268.2 63.8,268.3 66.5,265.6 69.2,262.7 71.8,255.5 74.5,251.6 77.2,261.5 79.9,264.2 82.5,260.5 85.2,263.7 87.9,260.9 90.6,263.8 93.2,260.6 95.9,260.9 98.6,261.9 101.3,266.1 103.9,260.3 106.6,262.5 109.3,259.8 112.0,259.6 114.6,261.5 117.3,261.2 120.0,256.1 122.7,257.3 125.3,260.1 128.0,261.9 130.7,263.3 133.4,257.8 136.0,259.2 138.7,261.1 141.4,258.2 144.0,260.0 146.7,259.9 149.4,261.5 152.1,257.8 154.7,262.0 157.4,258.0 160.1,259.3 162.8,263.5 165.4,263.5 168.1,261.8 170.8,256.3 173.5,259.5 176.1,259.1 178.8,258.1 181.5,260.1 184.2,259.8 186.8,260.2 189.5,259.2 192.2,261.9 194.9,260.8 197.5,258.2 200.2,259.5 202.9,261.5 205.6,262.5 208.2,263.1 210.9,257.5 213.6,261.1 216.2,262.2 218.9,259.5 221.6,263.0 224.3,260.0 226.9,257.1 229.6,259.1 232.3,258.7 235.0,259.8 237.6,263.8 240.3,259.9 243.0,259.5 245.7,258.5 248.3,265.6 251.0,262.5 253.7,262.8 256.4,261.3 259.0,262.5 261.7,255.3 264.4,260.0 267.1,261.7 269.7,257.4 272.4,257.7 275.1,259.5 277.8,261.5 280.4,258.9 283.1,257.9 285.8,259.8 288.5,262.7 291.1,262.5 293.8,259.5 296.5,258.1 299.1,256.7 301.8,259.0 304.5,260.6 307.2,261.1 309.8,260.4 312.5,258.6 315.2,261.3 317.9,259.4 320.5,257.3 323.2,260.2 325.9,257.7 328.6,261.3 331.2,260.4 333.9,261.0 336.6,258.6 339.3,261.5 341.9,258.3 344.6,254.4 347.3,258.6 350.0,260.8 352.6,257.0 355.3,260.9 358.0,264.0 360.7,262.4 363.3,258.8 366.0,255.9 368.7,253.6 371.4,238.2 374.0,248.2 376.7,261.6 379.4,260.4 382.0,259.8 384.7,258.7 387.4,255.3 390.1,259.8 392.7,261.5 395.4,254.8 398.1,260.4 400.8,259.4 403.4,259.9 406.1,257.0 408.8,258.5 411.5,261.1 414.1,263.3 416.8,262.0 419.5,258.8 422.2,263.6 424.8,258.2 427.5,258.4 430.2,257.2 432.9,257.8 435.5,265.9 438.2,265.1 440.9,263.3 443.6,262.3 446.2,259.3 448.9,266.9 451.6,258.7 454.3,259.4 456.9,254.8 459.6,257.9 462.3,261.0 464.9,262.0 467.6,257.4 470.3,258.7 473.0,259.3 475.6,265.0 478.3,267.9 481.0,262.8 483.7,254.2 486.3,258.4 489.0,257.8 491.7,262.3 494.4,263.8 497.0,260.1 499.7,259.2 502.4,250.4 505.1,259.5 507.7,258.0 510.4,268.2 513.1,258.6 515.8,260.1 518.4,265.7 521.1,262.0 523.8,260.1 526.5,264.4 529.1,263.9 531.8,257.8 534.5,254.8 537.1,264.5 539.8,260.3 542.5,259.6 545.2,255.7 547.8,262.6 550.5,263.2 553.2,246.0 555.9,265.8 558.5,265.1 561.2,256.3 563.9,259.2 566.6,258.8 569.2,258.9 571.9,261.9 574.6,266.4 577.3,255.2 579.9,262.7 582.6,268.7 585.3,260.8 588.0,263.3 590.6,270.5 593.3,261.3 596.0,264.9 598.7,269.2 601.3,274.9 604.0,279.6 606.7,276.9 609.4,273.3 612.0,277.1 614.7,279.6 617.4,284.6 620.0,285.1 622.7,278.0 625.4,275.8 628.1,276.5 630.7,283.0 633.4,277.6 636.1,281.4 638.8,274.0 641.4,285.7 644.1,279.4 646.8,289.4 649.5,293.0 652.1,294.5 654.8,288.0 657.5,288.7 660.2,287.0 662.8,291.5 665.5,288.3 668.2,284.7 670.9,282.5 673.5,289.7 676.2,287.7 678.9,286.1 681.6,282.8 684.2,283.3 686.9,275.1 689.6,279.8 692.3,282.9 694.9,287.3" fill="none" stroke="#a3a3a3" stroke-width="0.85" stroke-linejoin="round"/>
<polyline points="55.8,263.8 58.5,281.7 61.1,259.8 63.8,253.1 66.5,257.6 69.2,278.8 71.8,254.8 74.5,253.4 77.2,255.6 79.9,257.2 82.5,254.5 85.2,263.1 87.9,264.2 90.6,267.6 93.2,265.2 95.9,267.0 98.6,260.5 101.3,251.1 103.9,243.1 106.6,237.9 109.3,246.7 112.0,258.4 114.6,264.8 117.3,271.2 120.0,257.5 122.7,253.1 125.3,257.9 128.0,269.5 130.7,256.4 133.4,249.2 136.0,251.8 138.7,248.2 141.4,253.2 144.0,259.9 146.7,246.0 149.4,265.7 152.1,259.1 154.7,268.0 157.4,262.7 160.1,261.9 162.8,265.2 165.4,263.3 168.1,263.3 170.8,273.0 173.5,259.7 176.1,258.8 178.8,263.4 181.5,256.7 184.2,254.2 186.8,258.8 189.5,269.1 192.2,259.5 194.9,254.6 197.5,252.2 200.2,256.1 202.9,252.6 205.6,258.2 208.2,261.2 210.9,260.8 213.6,263.0 216.2,248.1 218.9,249.2 221.6,260.3 224.3,264.2 226.9,266.5 229.6,260.4 232.3,266.8 235.0,267.9 237.6,259.6 240.3,252.8 243.0,259.8 245.7,270.7 248.3,267.8 251.0,254.4 253.7,252.3 256.4,250.7 259.0,255.5 261.7,258.9 264.4,266.8 267.1,258.7 269.7,262.3 272.4,273.3 275.1,284.4 277.8,266.4 280.4,268.2 283.1,268.4 285.8,257.7 288.5,264.5 291.1,257.5 293.8,256.5 296.5,257.3 299.1,259.5 301.8,265.5 304.5,262.4 307.2,256.6 309.8,261.3 312.5,262.3 315.2,262.6 317.9,259.4 320.5,261.6 323.2,265.2 325.9,264.7 328.6,258.6 331.2,253.1 333.9,259.1 336.6,260.1 339.3,254.3 341.9,252.2 344.6,259.7 347.3,257.8 350.0,252.5 352.6,267.7 355.3,266.2 358.0,268.8 360.7,266.3 363.3,266.2 366.0,265.4 368.7,252.5 371.4,241.0 374.0,251.3 376.7,256.9 379.4,260.4 382.0,258.9 384.7,261.0 387.4,266.1 390.1,262.8 392.7,250.6 395.4,250.1 398.1,256.3 400.8,259.4 403.4,256.7 406.1,257.8 408.8,267.1 411.5,255.0 414.1,257.6 416.8,258.0 419.5,268.1 422.2,265.6 424.8,270.8 427.5,264.7 430.2,262.1 432.9,247.5 435.5,268.4 438.2,260.8 440.9,267.3 443.6,255.3 446.2,242.8 448.9,239.5 451.6,264.6 454.3,258.2 456.9,273.5 459.6,261.5 462.3,264.2 464.9,257.3 467.6,255.4 470.3,273.3 473.0,255.6 475.6,276.0 478.3,267.9 481.0,274.8 483.7,258.0 486.3,262.5 489.0,263.3 491.7,257.7 494.4,254.4 497.0,250.0 499.7,248.9 502.4,262.6 505.1,260.7 507.7,256.5 510.4,253.3 513.1,249.3 515.8,216.7 518.4,263.3 521.1,258.5 523.8,265.6 526.5,278.0 529.1,274.6 531.8,259.1 534.5,255.6 537.1,257.7 539.8,246.9 542.5,259.4 545.2,258.7 547.8,249.0 550.5,263.2 553.2,260.3 555.9,256.8 558.5,256.0 561.2,266.6 563.9,246.5 566.6,255.3 569.2,278.5 571.9,270.1 574.6,264.1 577.3,264.5 579.9,265.0 582.6,275.5 585.3,270.1 588.0,250.0 590.6,292.0 593.3,274.1 596.0,287.5 598.7,292.3 601.3,325.0 604.0,351.0 606.7,336.4 609.4,350.1 612.0,309.4 614.7,350.9 617.4,364.0 620.0,369.7 622.7,380.4 625.4,391.1 628.1,390.0 630.7,386.5 633.4,387.6 636.1,367.0 638.8,371.6 641.4,360.6 644.1,335.0 646.8,351.1 649.5,367.7 652.1,352.8 654.8,333.4 657.5,334.0 660.2,375.2 662.8,391.3 665.5,385.4 668.2,408.3 670.9,398.0 673.5,374.6 676.2,367.9 678.9,364.1 681.6,348.3 684.2,386.0 686.9,340.9 689.6,356.8 692.3,358.3 694.9,375.8" fill="none" stroke="#a3a3a3" stroke-width="0.85" stroke-linejoin="round"/>
<polyline points="55.8,244.7 58.5,247.2 61.1,245.0 63.8,250.9 66.5,254.3 69.2,254.9 71.8,257.1 74.5,259.0 77.2,254.9 79.9,260.1 82.5,246.4 85.2,245.3 87.9,260.1 90.6,263.2 93.2,262.1 95.9,263.2 98.6,264.7 101.3,267.7 103.9,269.9 106.6,266.1 109.3,261.6 112.0,266.9 114.6,254.1 117.3,264.7 120.0,267.7 122.7,276.0 125.3,268.4 128.0,265.4 130.7,266.9 133.4,259.4 136.0,268.4 138.7,270.7 141.4,268.4 144.0,275.2 146.7,260.1 149.4,264.7 152.1,258.6 154.7,265.4 157.4,260.1 160.1,257.8 162.8,260.8 165.4,257.1 168.1,265.1 170.8,260.1 173.5,254.9 176.1,260.8 178.8,255.6 181.5,254.1 184.2,256.3 186.8,252.6 189.5,258.6 192.2,252.6 194.9,254.3 197.5,256.3 200.2,254.3 202.9,250.9 205.6,256.3 208.2,252.6 210.9,257.8 213.6,258.6 216.2,263.2 218.9,254.1 221.6,256.3 224.3,257.8 226.9,255.6 229.6,260.8 232.3,258.8 235.0,257.7 237.6,252.6 240.3,258.6 243.0,255.6 245.7,256.3 248.3,257.7 251.0,260.1 253.7,256.3 256.4,257.1 259.0,255.6 261.7,251.5 264.4,257.8 267.1,256.3 269.7,260.1 272.4,261.1 275.1,257.1 277.8,259.7 280.4,257.8 283.1,264.2 285.8,255.6 288.5,258.6 291.1,256.3 293.8,258.2 296.5,258.6 299.1,261.1 301.8,258.1 304.5,263.9 307.2,253.7 309.8,265.7 312.5,260.1 315.2,263.9 317.9,257.8 320.5,259.7 323.2,257.5 325.9,261.1 328.6,258.6 331.2,260.8 333.9,257.1 336.6,256.3 339.3,253.6 341.9,257.1 344.6,256.3 347.3,266.1 350.0,256.3 352.6,255.6 355.3,260.1 358.0,259.7 360.7,263.2 363.3,265.7 366.0,259.0 368.7,269.2 371.4,259.4 374.0,279.8 376.7,259.7 379.4,264.7 382.0,259.4 384.7,265.4 387.4,269.9 390.1,263.2 392.7,266.1 395.4,268.4 398.1,261.6 400.8,264.7 403.4,260.1 406.1,265.4 408.8,261.1 411.5,263.9 414.1,258.6 416.8,253.6 419.5,256.0 422.2,257.1 424.8,260.8 427.5,266.9 430.2,261.6 432.9,266.1 435.5,268.4 438.2,272.2 440.9,260.8 443.6,260.1 446.2,259.4 448.9,252.6 451.6,246.1 454.3,257.1 456.9,264.7 459.6,270.7 462.3,268.4 464.9,266.1 467.6,260.1 470.3,275.2 473.0,260.8 475.6,263.9 478.3,253.3 481.0,264.7 483.7,254.9 486.3,252.6 489.0,257.1 491.7,267.7 494.4,258.6 497.0,256.3 499.7,259.0 502.4,247.0 505.1,263.9 507.7,265.4 510.4,274.8 513.1,256.3 515.8,257.8 518.4,254.1 521.1,260.8 523.8,265.4 526.5,254.5 529.1,258.6 531.8,254.5 534.5,265.1 537.1,245.0 539.8,257.5 542.5,263.2 545.2,264.7 547.8,254.9 550.5,254.3 553.2,259.9 555.9,267.3 558.5,254.1 561.2,258.2 563.9,252.2 566.6,259.8 569.2,252.5 571.9,254.0 574.6,259.4 577.3,251.0 579.9,252.2 582.6,252.2 585.3,252.2 588.0,248.0 590.6,246.5 593.3,212.8 596.0,231.3 598.7,247.2 601.3,241.9 604.0,246.5 606.7,239.6 609.4,244.2 612.0,232.1 614.7,223.0 617.4,221.5 620.0,237.4 622.7,221.9 625.4,221.5 628.1,215.4 630.7,222.7 633.4,240.5 636.1,229.6 638.8,231.6 641.4,223.6 644.1,225.4 646.8,223.6 649.5,235.4 652.1,234.1 654.8,237.4 657.5,232.0 660.2,226.4 662.8,233.2 665.5,220.3 668.2,221.5 670.9,231.7 673.5,219.0 676.2,222.1 678.9,224.6 681.6,243.0 684.2,235.7 686.9,227.6 689.6,228.2 692.3,224.6 694.9,233.2" fill="none" stroke="#000" stroke-width="1.35" stroke-linejoin="round"/>
<path d="M43.9,23.20 L43.9,498.00 L708,498.00" fill="none" stroke="#262626" stroke-width="1.7" stroke-linejoin="round"/>
<line x1="55.80" y1="498.00" x2="55.80" y2="505.70" stroke="#262626" stroke-width="1.5"/>
<text transform="translate(58.40,512.60) rotate(-45)" text-anchor="end" class="tx">1999</text>
<line x1="87.89" y1="498.00" x2="87.89" y2="505.70" stroke="#262626" stroke-width="1.5"/>
<text transform="translate(90.49,512.60) rotate(-45)" text-anchor="end" class="tx">2000</text>
<line x1="119.98" y1="498.00" x2="119.98" y2="505.70" stroke="#262626" stroke-width="1.5"/>
<text transform="translate(122.58,512.60) rotate(-45)" text-anchor="end" class="tx">2001</text>
<line x1="152.07" y1="498.00" x2="152.07" y2="505.70" stroke="#262626" stroke-width="1.5"/>
<text transform="translate(154.67,512.60) rotate(-45)" text-anchor="end" class="tx">2002</text>
<line x1="184.16" y1="498.00" x2="184.16" y2="505.70" stroke="#262626" stroke-width="1.5"/>
<text transform="translate(186.76,512.60) rotate(-45)" text-anchor="end" class="tx">2003</text>
<line x1="216.25" y1="498.00" x2="216.25" y2="505.70" stroke="#262626" stroke-width="1.5"/>
<text transform="translate(218.85,512.60) rotate(-45)" text-anchor="end" class="tx">2004</text>
<line x1="248.34" y1="498.00" x2="248.34" y2="505.70" stroke="#262626" stroke-width="1.5"/>
<text transform="translate(250.94,512.60) rotate(-45)" text-anchor="end" class="tx">2005</text>
<line x1="280.43" y1="498.00" x2="280.43" y2="505.70" stroke="#262626" stroke-width="1.5"/>
<text transform="translate(283.03,512.60) rotate(-45)" text-anchor="end" class="tx">2006</text>
<line x1="312.52" y1="498.00" x2="312.52" y2="505.70" stroke="#262626" stroke-width="1.5"/>
<text transform="translate(315.12,512.60) rotate(-45)" text-anchor="end" class="tx">2007</text>
<line x1="344.61" y1="498.00" x2="344.61" y2="505.70" stroke="#262626" stroke-width="1.5"/>
<text transform="translate(347.21,512.60) rotate(-45)" text-anchor="end" class="tx">2008</text>
<line x1="376.70" y1="498.00" x2="376.70" y2="505.70" stroke="#262626" stroke-width="1.5"/>
<text transform="translate(379.30,512.60) rotate(-45)" text-anchor="end" class="tx">2009</text>
<line x1="408.79" y1="498.00" x2="408.79" y2="505.70" stroke="#262626" stroke-width="1.5"/>
<text transform="translate(411.39,512.60) rotate(-45)" text-anchor="end" class="tx">2010</text>
<line x1="440.88" y1="498.00" x2="440.88" y2="505.70" stroke="#262626" stroke-width="1.5"/>
<text transform="translate(443.48,512.60) rotate(-45)" text-anchor="end" class="tx">2011</text>
<line x1="472.97" y1="498.00" x2="472.97" y2="505.70" stroke="#262626" stroke-width="1.5"/>
<text transform="translate(475.57,512.60) rotate(-45)" text-anchor="end" class="tx">2012</text>
<line x1="505.06" y1="498.00" x2="505.06" y2="505.70" stroke="#262626" stroke-width="1.5"/>
<text transform="translate(507.66,512.60) rotate(-45)" text-anchor="end" class="tx">2013</text>
<line x1="537.15" y1="498.00" x2="537.15" y2="505.70" stroke="#262626" stroke-width="1.5"/>
<text transform="translate(539.75,512.60) rotate(-45)" text-anchor="end" class="tx">2014</text>
<line x1="569.24" y1="498.00" x2="569.24" y2="505.70" stroke="#262626" stroke-width="1.5"/>
<text transform="translate(571.84,512.60) rotate(-45)" text-anchor="end" class="tx">2015</text>
<line x1="601.33" y1="498.00" x2="601.33" y2="505.70" stroke="#262626" stroke-width="1.5"/>
<text transform="translate(603.93,512.60) rotate(-45)" text-anchor="end" class="tx">2016</text>
<line x1="633.42" y1="498.00" x2="633.42" y2="505.70" stroke="#262626" stroke-width="1.5"/>
<text transform="translate(636.02,512.60) rotate(-45)" text-anchor="end" class="tx">2017</text>
<line x1="665.51" y1="498.00" x2="665.51" y2="505.70" stroke="#262626" stroke-width="1.5"/>
<text transform="translate(668.11,512.60) rotate(-45)" text-anchor="end" class="tx">2018</text>
<line x1="697.60" y1="498.00" x2="697.60" y2="505.70" stroke="#262626" stroke-width="1.5"/>
<text transform="translate(700.20,512.60) rotate(-45)" text-anchor="end" class="tx">2019</text>
<text transform="translate(35.9,91.30) rotate(-90)" text-anchor="middle" class="t">300</text>
<text transform="translate(35.9,147.70) rotate(-90)" text-anchor="middle" class="t">200</text>
<text transform="translate(35.9,204.10) rotate(-90)" text-anchor="middle" class="t">100</text>
<text transform="translate(35.9,260.50) rotate(-90)" text-anchor="middle" class="t">0</text>
<text transform="translate(35.9,316.90) rotate(-90)" text-anchor="middle" class="t">−100</text>
<text transform="translate(35.9,373.30) rotate(-90)" text-anchor="middle" class="t">−200</text>
<text transform="translate(35.9,429.70) rotate(-90)" text-anchor="middle" class="t">−300</text>
<text transform="translate(11.2,260.40) rotate(-90)" text-anchor="middle" class="ty">Policy effect on handgun BC rate</text>
<text x="375.4" y="14.10" text-anchor="middle" class="ti">Oregon</text>
<text x="46.5" y="36.70" class="t">Diff = 18.0%</text>
<text x="46.5" y="51.70" class="t">p = 0.0740</text>
<line x1="43.9" y1="634.10" x2="707" y2="634.10" stroke="#e6e6e6" stroke-width="1.1"/>
<line x1="43.9" y1="690.50" x2="707" y2="690.50" stroke="#e6e6e6" stroke-width="1.1"/>
<line x1="43.9" y1="746.90" x2="707" y2="746.90" stroke="#e6e6e6" stroke-width="1.1"/>
<line x1="43.9" y1="859.70" x2="707" y2="859.70" stroke="#e6e6e6" stroke-width="1.1"/>
<line x1="43.9" y1="916.10" x2="707" y2="916.10" stroke="#e6e6e6" stroke-width="1.1"/>
<line x1="43.9" y1="972.50" x2="707" y2="972.50" stroke="#e6e6e6" stroke-width="1.1"/>
<line x1="43.9" y1="803.30" x2="707" y2="803.30" stroke="#111" stroke-width="1.2"/>
<line x1="566.57" y1="1040.80" x2="566.57" y2="566.10" stroke="#000" stroke-width="1.1" stroke-dasharray="14.6 7.28"/>
<polyline points="55.8,798.1 58.5,808.9 61.1,806.2 63.8,803.8 66.5,802.2 69.2,799.1 71.8,808.5 74.5,806.2 77.2,788.7 79.9,728.3 82.5,801.2 85.2,809.2 87.9,807.1 90.6,807.9 93.2,809.3 95.9,809.3 98.6,804.7 101.3,804.6 103.9,799.2 106.6,799.5 109.3,804.9 112.0,738.4 114.6,804.9 117.3,804.8 120.0,804.5 122.7,799.5 125.3,803.2 128.0,802.2 130.7,802.7 133.4,796.5 136.0,803.7 138.7,799.1 141.4,804.0 144.0,746.9 146.7,801.8 149.4,801.3 152.1,805.7 154.7,795.5 157.4,803.8 160.1,804.6 162.8,807.1 165.4,802.0 168.1,801.3 170.8,806.3 173.5,801.1 176.1,801.8 178.8,800.2 181.5,798.3 184.2,801.4 186.8,800.7 189.5,805.4 192.2,801.4 194.9,801.9 197.5,801.4 200.2,803.4 202.9,803.0 205.6,803.6 208.2,803.4 210.9,799.7 213.6,800.5 216.2,799.9 218.9,800.4 221.6,802.3 224.3,803.8 226.9,799.1 229.6,800.4 232.3,799.8 235.0,796.8 237.6,803.0 240.3,800.5 243.0,805.5 245.7,806.3 248.3,809.3 251.0,808.1 253.7,801.1 256.4,803.5 259.0,801.5 261.7,805.7 264.4,805.4 267.1,804.7 269.7,800.6 272.4,806.0 275.1,805.1 277.8,802.3 280.4,798.5 283.1,802.7 285.8,803.8 288.5,803.3 291.1,801.0 293.8,798.5 296.5,803.9 299.1,801.9 301.8,807.1 304.5,802.5 307.2,799.5 309.8,799.1 312.5,795.2 315.2,794.8 317.9,796.7 320.5,799.7 323.2,795.8 325.9,802.2 328.6,802.1 331.2,799.5 333.9,801.7 336.6,805.5 339.3,802.0 341.9,804.4 344.6,798.7 347.3,801.1 350.0,801.4 352.6,786.1 355.3,782.7 358.0,770.0 360.7,786.4 363.3,796.1 366.0,800.3 368.7,803.1 371.4,795.3 374.0,799.6 376.7,806.4 379.4,802.0 382.0,799.2 384.7,794.9 387.4,800.4 390.1,795.6 392.7,792.3 395.4,796.2 398.1,800.1 400.8,803.1 403.4,807.8 406.1,802.3 408.8,802.9 411.5,807.0 414.1,802.5 416.8,802.7 419.5,808.9 422.2,807.3 424.8,808.9 427.5,800.2 430.2,802.3 432.9,803.1 435.5,809.8 438.2,806.5 440.9,795.2 443.6,798.7 446.2,795.1 448.9,801.1 451.6,808.6 454.3,810.7 456.9,800.4 459.6,801.9 462.3,804.7 464.9,797.9 467.6,807.0 470.3,805.1 473.0,800.3 475.6,807.3 478.3,805.4 481.0,803.7 483.7,808.3 486.3,810.9 489.0,814.7 491.7,808.0 494.4,803.1 497.0,805.1 499.7,797.5 502.4,796.3 505.1,799.3 507.7,799.0 510.4,803.8 513.1,786.5 515.8,783.2 518.4,790.0 521.1,789.8 523.8,788.3 526.5,797.1 529.1,802.9 531.8,803.6 534.5,801.1 537.1,809.8 539.8,800.5 542.5,799.5 545.2,799.7 547.8,794.6 550.5,811.2 553.2,815.7 555.9,816.4 558.5,806.2 561.2,806.2 563.9,802.2 566.6,801.2 569.2,784.8 571.9,783.5 574.6,782.6 577.3,778.7 579.9,804.3 582.6,791.1 585.3,777.9 588.0,753.0 590.6,770.8 593.3,782.8 596.0,812.1 598.7,809.7 601.3,789.8 604.0,776.8 606.7,781.7 609.4,769.3 612.0,785.4 614.7,783.1 617.4,774.7 620.0,744.0 622.7,742.4 625.4,772.5 628.1,760.0 630.7,758.6 633.4,780.9 636.1,767.2 638.8,757.6 641.4,775.7 644.1,785.2 646.8,763.9 649.5,789.2 652.1,783.2 654.8,759.6 657.5,766.5 660.2,789.9 662.8,780.6 665.5,772.2 668.2,782.2 670.9,771.9 673.5,771.8 676.2,763.8 678.9,764.7 681.6,782.0 684.2,760.1 686.9,789.9 689.6,780.5 692.3,787.4 694.9,774.1" fill="none" stroke="#a3a3a3" stroke-width="0.85" stroke-linejoin="round"/>
<polyline points="55.8,816.2 58.5,831.6 61.1,842.8 63.8,820.0 66.5,803.7 69.2,798.6 71.8,802.6 74.5,798.7 77.2,796.8 79.9,806.6 82.5,798.1 85.2,801.3 87.9,798.3 90.6,797.1 93.2,800.2 95.9,809.6 98.6,808.2 101.3,799.8 103.9,801.1 106.6,804.3 109.3,805.5 112.0,805.6 114.6,807.6 117.3,817.5 120.0,803.3 122.7,797.3 125.3,798.7 128.0,806.5 130.7,796.8 133.4,802.2 136.0,798.7 138.7,807.3 141.4,808.0 144.0,802.1 146.7,807.3 149.4,807.2 152.1,799.8 154.7,799.2 157.4,803.0 160.1,806.2 162.8,808.9 165.4,802.9 168.1,808.6 170.8,804.3 173.5,802.8 176.1,804.5 178.8,808.7 181.5,804.9 184.2,808.6 186.8,802.9 189.5,797.2 192.2,797.3 194.9,795.9 197.5,808.3 200.2,804.2 202.9,807.4 205.6,800.9 208.2,805.8 210.9,804.0 213.6,800.1 216.2,801.0 218.9,800.9 221.6,796.8 224.3,803.3 226.9,798.8 229.6,807.2 232.3,798.1 235.0,799.4 237.6,795.8 240.3,800.7 243.0,801.6 245.7,806.8 248.3,803.5 251.0,800.8 253.7,807.3 256.4,802.9 259.0,805.8 261.7,804.3 264.4,807.7 267.1,801.6 269.7,801.6 272.4,800.0 275.1,805.5 277.8,804.1 280.4,805.0 283.1,808.4 285.8,802.1 288.5,795.5 291.1,801.5 293.8,802.4 296.5,805.4 299.1,800.7 301.8,800.6 304.5,802.8 307.2,798.2 309.8,799.8 312.5,800.7 315.2,803.7 317.9,803.5 320.5,801.6 323.2,807.5 325.9,812.9 328.6,798.1 331.2,797.2 333.9,799.5 336.6,805.4 339.3,801.1 341.9,802.2 344.6,802.6 347.3,801.9 350.0,805.8 352.6,802.2 355.3,809.2 358.0,777.5 360.7,794.4 363.3,800.9 366.0,808.8 368.7,802.3 371.4,807.7 374.0,804.7 376.7,816.1 379.4,803.2 382.0,810.4 384.7,803.4 387.4,801.8 390.1,779.1 392.7,806.3 395.4,803.0 398.1,808.0 400.8,808.3 403.4,809.2 406.1,799.9 408.8,811.3 411.5,804.3 414.1,802.3 416.8,809.4 419.5,804.2 422.2,807.4 424.8,810.1 427.5,801.8 430.2,802.4 432.9,827.1 435.5,804.0 438.2,808.5 440.9,797.0 443.6,797.8 446.2,797.5 448.9,795.5 451.6,803.1 454.3,800.6 456.9,805.7 459.6,805.6 462.3,802.3 464.9,796.4 467.6,795.0 470.3,804.2 473.0,806.4 475.6,804.9 478.3,798.9 481.0,818.5 483.7,797.8 486.3,802.8 489.0,808.0 491.7,809.5 494.4,805.1 497.0,809.5 499.7,801.9 502.4,809.4 505.1,811.1 507.7,814.1 510.4,810.4 513.1,819.3 515.8,808.8 518.4,802.9 521.1,813.9 523.8,810.7 526.5,793.0 529.1,816.8 531.8,794.0 534.5,798.5 537.1,800.9 539.8,789.9 542.5,794.3 545.2,805.3 547.8,798.2 550.5,800.0 553.2,796.6 555.9,803.2 558.5,800.8 561.2,797.3 563.9,780.9 566.6,782.8 569.2,798.2 571.9,805.4 574.6,809.5 577.3,812.8 579.9,818.9 582.6,818.6 585.3,803.9 588.0,812.2 590.6,827.6 593.3,817.8 596.0,806.2 598.7,806.5 601.3,821.5 604.0,828.0 606.7,814.1 609.4,799.4 612.0,825.0 614.7,838.7 617.4,806.6 620.0,835.1 622.7,820.2 625.4,820.0 628.1,815.5 630.7,816.2 633.4,822.1 636.1,825.0 638.8,823.8 641.4,823.2 644.1,828.3 646.8,831.3 649.5,825.7 652.1,827.3 654.8,832.5 657.5,824.4 660.2,823.4 662.8,838.4 665.5,830.0 668.2,826.4 670.9,838.1 673.5,832.2 676.2,831.3 678.9,829.6 681.6,839.8 684.2,830.9 686.9,849.2 689.6,821.8 692.3,826.5 694.9,824.5" fill="none" stroke="#a3a3a3" stroke-width="0.85" stroke-linejoin="round"/>
<polyline points="55.8,788.9 58.5,799.9 61.1,795.8 63.8,834.3 66.5,802.9 69.2,809.2 71.8,805.1 74.5,797.8 77.2,795.0 79.9,802.9 82.5,804.7 85.2,804.8 87.9,802.0 90.6,804.9 93.2,808.2 95.9,800.0 98.6,803.6 101.3,804.9 103.9,803.6 106.6,806.6 109.3,804.6 112.0,803.0 114.6,796.2 117.3,804.0 120.0,805.6 122.7,803.8 125.3,800.7 128.0,800.7 130.7,804.9 133.4,799.6 136.0,802.5 138.7,801.5 141.4,795.8 144.0,795.4 146.7,800.1 149.4,799.9 152.1,805.8 154.7,803.8 157.4,800.3 160.1,801.6 162.8,805.9 165.4,800.1 168.1,797.8 170.8,800.5 173.5,803.6 176.1,804.6 178.8,802.0 181.5,803.3 184.2,796.8 186.8,803.6 189.5,799.0 192.2,801.0 194.9,804.1 197.5,802.6 200.2,804.8 202.9,805.4 205.6,802.8 208.2,806.1 210.9,804.8 213.6,798.2 216.2,792.5 218.9,782.9 221.6,792.6 224.3,805.0 226.9,805.2 229.6,803.3 232.3,802.0 235.0,807.2 237.6,800.4 240.3,797.4 243.0,801.3 245.7,799.8 248.3,803.9 251.0,799.7 253.7,795.3 256.4,800.1 259.0,800.8 261.7,798.4 264.4,804.2 267.1,801.1 269.7,801.2 272.4,802.3 275.1,802.3 277.8,800.3 280.4,798.5 283.1,802.6 285.8,803.9 288.5,800.9 291.1,804.6 293.8,807.4 296.5,802.4 299.1,802.8 301.8,802.6 304.5,799.6 307.2,800.8 309.8,800.3 312.5,799.1 315.2,803.9 317.9,806.0 320.5,804.6 323.2,804.7 325.9,797.7 328.6,801.8 331.2,804.1 333.9,805.2 336.6,791.2 339.3,784.4 341.9,770.0 344.6,779.3 347.3,787.9 350.0,801.5 352.6,799.1 355.3,799.1 358.0,803.3 360.7,801.8 363.3,803.5 366.0,804.4 368.7,797.6 371.4,797.3 374.0,798.1 376.7,799.2 379.4,806.5 382.0,801.0 384.7,800.0 387.4,805.6 390.1,802.8 392.7,768.8 395.4,801.2 398.1,800.7 400.8,804.2 403.4,804.1 406.1,802.6 408.8,799.3 411.5,797.7 414.1,799.5 416.8,800.6 419.5,805.0 422.2,801.6 424.8,804.5 427.5,807.3 430.2,806.2 432.9,810.6 435.5,800.3 438.2,804.7 440.9,805.6 443.6,802.7 446.2,802.3 448.9,798.7 451.6,799.6 454.3,805.2 456.9,798.4 459.6,799.7 462.3,805.6 464.9,796.7 467.6,806.1 470.3,803.2 473.0,805.1 475.6,806.8 478.3,805.4 481.0,800.8 483.7,798.1 486.3,799.5 489.0,797.2 491.7,800.0 494.4,803.2 497.0,808.6 499.7,804.3 502.4,799.8 505.1,800.7 507.7,795.9 510.4,801.7 513.1,799.0 515.8,807.7 518.4,807.0 521.1,783.8 523.8,794.5 526.5,793.7 529.1,799.2 531.8,792.0 534.5,801.1 537.1,807.3 539.8,800.0 542.5,794.2 545.2,802.2 547.8,800.8 550.5,797.9 553.2,798.7 555.9,799.3 558.5,803.0 561.2,810.5 563.9,803.9 566.6,799.3 569.2,813.0 571.9,807.8 574.6,788.4 577.3,787.7 579.9,813.5 582.6,817.4 585.3,812.5 588.0,791.7 590.6,789.4 593.3,809.6 596.0,807.4 598.7,804.9 601.3,768.9 604.0,810.2 606.7,819.3 609.4,818.5 612.0,828.1 614.7,798.8 617.4,817.5 620.0,795.2 622.7,824.7 625.4,825.6 628.1,824.8 630.7,821.2 633.4,813.3 636.1,816.2 638.8,816.5 641.4,812.6 644.1,815.4 646.8,800.2 649.5,819.2 652.1,826.3 654.8,799.6 657.5,823.8 660.2,824.4 662.8,816.1 665.5,807.3 668.2,815.7 670.9,803.5 673.5,797.5 676.2,808.8 678.9,826.6 681.6,828.2 684.2,831.4 686.9,828.2 689.6,823.4 692.3,828.9 694.9,820.8" fill="none" stroke="#a3a3a3" stroke-width="0.85" stroke-linejoin="round"/>
<polyline points="55.8,798.0 58.5,798.3 61.1,793.8 63.8,783.2 66.5,797.8 69.2,830.4 71.8,805.8 74.5,782.3 77.2,798.8 79.9,805.5 82.5,799.7 85.2,792.0 87.9,793.2 90.6,784.4 93.2,794.9 95.9,791.0 98.6,806.6 101.3,795.3 103.9,795.3 106.6,805.6 109.3,799.6 112.0,799.9 114.6,812.5 117.3,799.9 120.0,803.2 122.7,791.4 125.3,794.4 128.0,803.9 130.7,799.3 133.4,803.2 136.0,791.4 138.7,798.1 141.4,801.2 144.0,807.7 146.7,802.3 149.4,799.7 152.1,802.5 154.7,802.8 157.4,793.7 160.1,807.0 162.8,801.6 165.4,812.1 168.1,798.9 170.8,796.3 173.5,795.0 176.1,801.1 178.8,810.1 181.5,808.3 184.2,787.6 186.8,807.7 189.5,803.9 192.2,808.4 194.9,800.4 197.5,794.8 200.2,801.5 202.9,804.4 205.6,801.1 208.2,797.1 210.9,803.3 213.6,797.9 216.2,801.4 218.9,798.6 221.6,808.3 224.3,812.2 226.9,806.0 229.6,801.4 232.3,789.8 235.0,792.4 237.6,798.0 240.3,802.1 243.0,801.3 245.7,798.8 248.3,803.6 251.0,805.5 253.7,809.7 256.4,802.3 259.0,799.7 261.7,800.3 264.4,803.9 267.1,802.8 269.7,801.9 272.4,804.7 275.1,806.5 277.8,808.4 280.4,798.7 283.1,799.5 285.8,792.2 288.5,791.7 291.1,797.7 293.8,794.2 296.5,795.5 299.1,801.4 301.8,806.8 304.5,806.7 307.2,800.9 309.8,792.5 312.5,795.5 315.2,797.4 317.9,807.6 320.5,801.7 323.2,808.0 325.9,805.9 328.6,791.9 331.2,796.7 333.9,799.2 336.6,792.1 339.3,787.1 341.9,797.2 344.6,795.1 347.3,794.3 350.0,795.9 352.6,800.2 355.3,798.8 358.0,805.0 360.7,808.7 363.3,809.2 366.0,805.7 368.7,793.1 371.4,803.0 374.0,800.2 376.7,808.7 379.4,791.9 382.0,789.1 384.7,796.9 387.4,806.7 390.1,805.5 392.7,797.3 395.4,801.6 398.1,793.0 400.8,797.9 403.4,812.4 406.1,810.9 408.8,813.9 411.5,796.6 414.1,789.0 416.8,798.7 419.5,803.1 422.2,801.5 424.8,792.1 427.5,803.6 430.2,784.1 432.9,794.3 435.5,803.5 438.2,806.5 440.9,798.1 443.6,796.3 446.2,799.4 448.9,790.9 451.6,814.5 454.3,802.6 456.9,809.7 459.6,791.8 462.3,785.1 464.9,796.1 467.6,806.9 470.3,811.7 473.0,807.5 475.6,799.1 478.3,810.1 481.0,790.4 483.7,793.4 486.3,782.0 489.0,799.6 491.7,817.0 494.4,813.1 497.0,808.6 499.7,798.6 502.4,795.8 505.1,796.3 507.7,794.9 510.4,814.0 513.1,818.1 515.8,788.3 518.4,791.1 521.1,790.6 523.8,796.3 526.5,790.8 529.1,790.4 531.8,787.3 534.5,795.4 537.1,788.4 539.8,776.9 542.5,799.3 545.2,825.9 547.8,808.4 550.5,788.2 553.2,803.1 555.9,798.0 558.5,802.8 561.2,799.4 563.9,800.9 566.6,820.0 569.2,803.9 571.9,819.2 574.6,818.6 577.3,813.1 579.9,818.6 582.6,748.4 585.3,749.6 588.0,783.4 590.6,794.7 593.3,799.5 596.0,804.4 598.7,843.1 601.3,769.9 604.0,787.8 606.7,794.6 609.4,739.7 612.0,771.0 614.7,793.1 617.4,772.9 620.0,765.7 622.7,771.5 625.4,797.1 628.1,808.9 630.7,799.5 633.4,797.0 636.1,802.0 638.8,798.5 641.4,753.2 644.1,808.0 646.8,756.1 649.5,743.2 652.1,792.4 654.8,781.3 657.5,736.5 660.2,762.9 662.8,770.8 665.5,756.8 668.2,765.1 670.9,785.5 673.5,752.4 676.2,768.6 678.9,784.5 681.6,774.8 684.2,760.4 686.9,752.2 689.6,749.5 692.3,756.7 694.9,768.2" fill="none" stroke="#a3a3a3" stroke-width="0.85" stroke-linejoin="round"/>
<polyline points="55.8,794.3 58.5,769.5 61.1,793.1 63.8,809.1 66.5,801.6 69.2,808.4 71.8,803.4 74.5,800.0 77.2,802.1 79.9,801.4 82.5,809.2 85.2,808.0 87.9,802.8 90.6,806.0 93.2,801.3 95.9,802.1 98.6,802.8 101.3,802.7 103.9,804.5 106.6,802.5 109.3,805.3 112.0,798.5 114.6,800.8 117.3,798.6 120.0,804.6 122.7,805.9 125.3,802.9 128.0,802.5 130.7,801.1 133.4,805.8 136.0,800.5 138.7,799.7 141.4,801.7 144.0,801.6 146.7,804.2 149.4,799.7 152.1,799.1 154.7,806.0 157.4,798.8 160.1,801.0 162.8,802.4 165.4,801.5 168.1,802.2 170.8,797.4 173.5,808.7 176.1,802.6 178.8,803.1 181.5,805.1 184.2,803.7 186.8,799.2 189.5,802.2 192.2,805.7 194.9,802.8 197.5,803.7 200.2,803.3 202.9,806.5 205.6,800.7 208.2,798.4 210.9,800.7 213.6,800.4 216.2,801.5 218.9,802.8 221.6,801.0 224.3,804.6 226.9,802.3 229.6,802.1 232.3,800.4 235.0,799.3 237.6,799.0 240.3,803.9 243.0,805.4 245.7,800.8 248.3,805.5 251.0,803.3 253.7,803.5 256.4,807.7 259.0,802.7 261.7,798.1 264.4,798.7 267.1,799.6 269.7,801.5 272.4,801.4 275.1,800.9 277.8,804.1 280.4,797.8 283.1,799.0 285.8,800.8 288.5,807.3 291.1,804.1 293.8,797.7 296.5,799.3 299.1,799.4 301.8,804.4 304.5,801.0 307.2,798.4 309.8,803.2 312.5,803.7 315.2,800.3 317.9,804.2 320.5,802.0 323.2,801.2 325.9,806.0 328.6,806.6 331.2,800.5 333.9,803.4 336.6,804.2 339.3,799.8 341.9,800.2 344.6,799.0 347.3,803.7 350.0,799.0 352.6,790.9 355.3,773.9 358.0,788.0 360.7,797.2 363.3,805.9 366.0,801.2 368.7,797.2 371.4,795.5 374.0,801.5 376.7,800.0 379.4,799.2 382.0,800.8 384.7,788.6 387.4,781.5 390.1,773.3 392.7,786.0 395.4,794.0 398.1,802.9 400.8,796.2 403.4,791.5 406.1,776.5 408.8,794.1 411.5,807.6 414.1,805.5 416.8,794.7 419.5,798.2 422.2,806.0 424.8,800.3 427.5,800.5 430.2,799.7 432.9,800.1 435.5,803.5 438.2,794.8 440.9,784.2 443.6,803.6 446.2,803.4 448.9,803.2 451.6,803.7 454.3,802.1 456.9,810.2 459.6,805.4 462.3,813.8 464.9,808.4 467.6,802.1 470.3,806.1 473.0,808.3 475.6,789.2 478.3,774.5 481.0,782.4 483.7,791.8 486.3,790.0 489.0,794.6 491.7,798.5 494.4,807.2 497.0,798.1 499.7,804.8 502.4,803.7 505.1,798.2 507.7,804.2 510.4,806.7 513.1,803.0 515.8,797.4 518.4,806.5 521.1,803.8 523.8,798.9 526.5,796.4 529.1,798.2 531.8,803.7 534.5,803.9 537.1,800.1 539.8,798.1 542.5,804.8 545.2,791.6 547.8,800.1 550.5,793.3 553.2,798.4 555.9,796.2 558.5,795.9 561.2,796.9 563.9,801.0 566.6,798.3 569.2,807.5 571.9,799.6 574.6,806.3 577.3,804.3 579.9,809.0 582.6,781.1 585.3,786.6 588.0,781.3 590.6,764.6 593.3,763.3 596.0,788.3 598.7,808.3 601.3,798.2 604.0,781.9 606.7,797.8 609.4,791.8 612.0,823.2 614.7,797.7 617.4,790.6 620.0,780.6 622.7,807.1 625.4,778.9 628.1,788.4 630.7,788.4 633.4,795.1 636.1,779.9 638.8,784.0 641.4,784.5 644.1,781.4 646.8,779.1 649.5,796.7 652.1,785.3 654.8,796.1 657.5,797.4 660.2,785.0 662.8,776.3 665.5,779.9 668.2,796.3 670.9,795.1 673.5,784.2 676.2,790.2 678.9,795.3 681.6,783.7 684.2,789.6 686.9,796.8 689.6,782.4 692.3,773.9 694.9,775.8" fill="none" stroke="#a3a3a3" stroke-width="0.85" stroke-linejoin="round"/>
<polyline points="55.8,808.4 58.5,795.8 61.1,797.6 63.8,794.2 66.5,802.3 69.2,807.7 71.8,804.7 74.5,811.8 77.2,800.0 79.9,797.2 82.5,803.5 85.2,799.1 87.9,803.6 90.6,797.9 93.2,801.8 95.9,800.6 98.6,800.5 101.3,803.2 103.9,800.8 106.6,800.7 109.3,800.6 112.0,803.0 114.6,808.7 117.3,801.3 120.0,800.0 122.7,804.4 125.3,806.6 128.0,809.1 130.7,787.1 133.4,807.3 136.0,801.9 138.7,802.8 141.4,796.0 144.0,800.7 146.7,801.2 149.4,806.7 152.1,795.2 154.7,800.2 157.4,800.0 160.1,797.8 162.8,808.5 165.4,799.2 168.1,800.8 170.8,804.4 173.5,801.9 176.1,800.8 178.8,807.7 181.5,799.5 184.2,800.4 186.8,801.4 189.5,810.1 192.2,807.2 194.9,801.8 197.5,804.2 200.2,802.7 202.9,801.3 205.6,802.8 208.2,800.0 210.9,803.3 213.6,801.2 216.2,799.2 218.9,794.5 221.6,799.1 224.3,802.9 226.9,800.5 229.6,800.0 232.3,804.0 235.0,801.9 237.6,801.1 240.3,802.9 243.0,805.4 245.7,807.4 248.3,805.5 251.0,808.7 253.7,801.1 256.4,803.9 259.0,809.3 261.7,796.3 264.4,798.4 267.1,809.8 269.7,701.2 272.4,802.5 275.1,791.3 277.8,798.4 280.4,797.8 283.1,807.0 285.8,803.7 288.5,803.2 291.1,805.2 293.8,799.8 296.5,803.8 299.1,802.2 301.8,793.1 304.5,807.3 307.2,805.2 309.8,805.3 312.5,804.6 315.2,805.8 317.9,809.1 320.5,803.5 323.2,814.3 325.9,799.3 328.6,800.9 331.2,800.5 333.9,801.1 336.6,803.0 339.3,803.3 341.9,805.1 344.6,800.8 347.3,806.8 350.0,807.2 352.6,807.6 355.3,799.9 358.0,794.1 360.7,793.3 363.3,801.9 366.0,806.2 368.7,797.2 371.4,794.9 374.0,791.5 376.7,810.3 379.4,806.0 382.0,799.8 384.7,803.4 387.4,797.2 390.1,791.5 392.7,781.7 395.4,784.9 398.1,794.2 400.8,797.2 403.4,801.7 406.1,793.8 408.8,796.7 411.5,795.6 414.1,797.2 416.8,793.6 419.5,805.7 422.2,807.1 424.8,806.3 427.5,792.0 430.2,788.3 432.9,782.7 435.5,767.1 438.2,781.2 440.9,790.0 443.6,796.0 446.2,791.8 448.9,805.8 451.6,794.1 454.3,804.6 456.9,802.1 459.6,799.4 462.3,801.2 464.9,800.5 467.6,803.6 470.3,813.1 473.0,806.6 475.6,797.9 478.3,803.0 481.0,799.6 483.7,801.8 486.3,789.9 489.0,808.9 491.7,804.5 494.4,802.6 497.0,801.0 499.7,797.1 502.4,808.9 505.1,805.2 507.7,802.5 510.4,783.8 513.1,781.5 515.8,787.4 518.4,796.3 521.1,798.0 523.8,809.8 526.5,795.5 529.1,808.2 531.8,806.5 534.5,796.4 537.1,804.1 539.8,807.6 542.5,797.5 545.2,802.9 547.8,795.4 550.5,791.6 553.2,800.1 555.9,808.4 558.5,802.9 561.2,809.8 563.9,805.2 566.6,800.7 569.2,797.7 571.9,792.0 574.6,803.4 577.3,803.2 579.9,796.3 582.6,815.5 585.3,802.2 588.0,810.8 590.6,809.2 593.3,822.3 596.0,810.1 598.7,786.1 601.3,802.8 604.0,805.0 606.7,806.7 609.4,814.4 612.0,815.1 614.7,800.5 617.4,792.7 620.0,797.5 622.7,801.2 625.4,797.6 628.1,799.2 630.7,807.2 633.4,798.9 636.1,799.0 638.8,805.5 641.4,812.0 644.1,812.7 646.8,804.9 649.5,810.2 652.1,807.8 654.8,799.7 657.5,800.3 660.2,801.0 662.8,819.8 665.5,817.0 668.2,813.6 670.9,829.4 673.5,811.7 676.2,800.8 678.9,812.9 681.6,813.5 684.2,820.3 686.9,823.1 689.6,810.6 692.3,813.9 694.9,808.1" fill="none" stroke="#a3a3a3" stroke-width="0.85" stroke-linejoin="round"/>
<polyline points="55.8,810.0 58.5,800.3 61.1,808.1 63.8,806.6 66.5,804.1 69.2,806.0 71.8,798.2 74.5,804.0 77.2,806.1 79.9,803.9 82.5,799.7 85.2,798.1 87.9,804.7 90.6,801.1 93.2,796.3 95.9,793.6 98.6,799.5 101.3,802.8 103.9,805.4 106.6,800.0 109.3,801.7 112.0,804.2 114.6,805.9 117.3,800.3 120.0,798.5 122.7,798.7 125.3,804.1 128.0,801.4 130.7,804.0 133.4,803.9 136.0,802.2 138.7,803.8 141.4,802.4 144.0,806.3 146.7,801.4 149.4,801.6 152.1,802.1 154.7,801.5 157.4,802.4 160.1,802.3 162.8,804.1 165.4,798.8 168.1,802.9 170.8,798.9 173.5,799.8 176.1,801.0 178.8,804.1 181.5,805.4 184.2,809.1 186.8,806.4 189.5,805.0 192.2,804.7 194.9,804.0 197.5,803.2 200.2,805.3 202.9,803.5 205.6,803.4 208.2,804.8 210.9,803.3 213.6,802.7 216.2,800.9 218.9,802.4 221.6,800.9 224.3,802.5 226.9,804.4 229.6,799.6 232.3,800.0 235.0,799.9 237.6,800.3 240.3,801.7 243.0,801.7 245.7,801.4 248.3,803.9 251.0,801.7 253.7,802.1 256.4,800.9 259.0,800.2 261.7,801.9 264.4,802.1 267.1,800.3 269.7,798.3 272.4,739.6 275.1,804.6 277.8,800.4 280.4,803.4 283.1,800.2 285.8,801.5 288.5,805.2 291.1,800.1 293.8,803.1 296.5,807.3 299.1,805.7 301.8,799.6 304.5,804.8 307.2,801.7 309.8,800.2 312.5,801.3 315.2,802.3 317.9,801.7 320.5,804.0 323.2,804.4 325.9,806.3 328.6,803.6 331.2,800.9 333.9,807.3 336.6,807.4 339.3,803.6 341.9,806.1 344.6,802.2 347.3,804.1 350.0,807.7 352.6,805.1 355.3,805.1 358.0,801.1 360.7,801.9 363.3,798.4 366.0,804.8 368.7,793.0 371.4,798.2 374.0,800.9 376.7,797.1 379.4,798.4 382.0,801.9 384.7,806.6 387.4,801.9 390.1,799.8 392.7,799.0 395.4,790.5 398.1,798.8 400.8,799.7 403.4,802.4 406.1,804.3 408.8,802.7 411.5,803.7 414.1,799.8 416.8,799.5 419.5,799.1 422.2,807.4 424.8,802.6 427.5,798.9 430.2,797.0 432.9,802.2 435.5,805.2 438.2,800.6 440.9,802.3 443.6,806.4 446.2,803.1 448.9,797.5 451.6,792.1 454.3,799.0 456.9,802.8 459.6,798.6 462.3,802.0 464.9,806.7 467.6,798.2 470.3,805.5 473.0,803.0 475.6,803.9 478.3,789.5 481.0,798.9 483.7,795.7 486.3,796.4 489.0,800.5 491.7,802.8 494.4,795.9 497.0,799.2 499.7,804.7 502.4,796.0 505.1,795.3 507.7,792.6 510.4,807.5 513.1,799.2 515.8,809.2 518.4,802.6 521.1,799.8 523.8,802.0 526.5,805.4 529.1,802.4 531.8,799.2 534.5,803.5 537.1,814.2 539.8,801.3 542.5,801.9 545.2,801.6 547.8,805.0 550.5,805.9 553.2,793.2 555.9,802.8 558.5,797.8 561.2,794.8 563.9,802.1 566.6,823.3 569.2,807.0 571.9,809.7 574.6,807.2 577.3,808.0 579.9,804.9 582.6,806.6 585.3,816.2 588.0,821.9 590.6,821.6 593.3,820.7 596.0,823.4 598.7,821.9 601.3,803.2 604.0,826.3 606.7,833.5 609.4,821.7 612.0,825.8 614.7,831.7 617.4,829.0 620.0,831.7 622.7,814.4 625.4,804.7 628.1,805.4 630.7,825.0 633.4,813.3 636.1,809.6 638.8,820.6 641.4,829.5 644.1,834.6 646.8,836.8 649.5,833.0 652.1,831.9 654.8,831.3 657.5,830.5 660.2,829.1 662.8,824.4 665.5,836.8 668.2,824.8 670.9,826.2 673.5,832.1 676.2,831.3 678.9,824.6 681.6,825.1 684.2,830.8 686.9,821.2 689.6,817.8 692.3,817.1 694.9,820.9" fill="none" stroke="#a3a3a3" stroke-width="0.85" stroke-linejoin="round"/>
<polyline points="55.8,810.0 58.5,815.2 61.1,821.7 63.8,802.5 66.5,793.0 69.2,796.8 71.8,805.7 74.5,803.0 77.2,814.9 79.9,814.4 82.5,803.3 85.2,789.8 87.9,805.3 90.6,814.5 93.2,811.0 95.9,801.4 98.6,794.4 101.3,804.6 103.9,812.6 106.6,809.7 109.3,806.4 112.0,794.3 114.6,800.2 117.3,798.9 120.0,806.0 122.7,804.5 125.3,803.5 128.0,802.8 130.7,798.1 133.4,802.7 136.0,802.1 138.7,799.7 141.4,801.7 144.0,796.7 146.7,803.0 149.4,800.8 152.1,804.6 154.7,801.9 157.4,806.8 160.1,799.0 162.8,796.8 165.4,801.5 168.1,805.3 170.8,806.6 173.5,807.6 176.1,806.4 178.8,804.3 181.5,781.0 184.2,807.9 186.8,806.8 189.5,802.3 192.2,799.6 194.9,800.4 197.5,803.6 200.2,798.7 202.9,804.4 205.6,805.9 208.2,806.2 210.9,802.8 213.6,800.5 216.2,797.3 218.9,803.3 221.6,802.9 224.3,802.3 226.9,802.3 229.6,798.4 232.3,795.1 235.0,798.6 237.6,793.0 240.3,803.8 243.0,803.2 245.7,804.1 248.3,801.5 251.0,778.2 253.7,796.4 256.4,806.7 259.0,805.6 261.7,802.8 264.4,806.4 267.1,801.7 269.7,802.0 272.4,801.8 275.1,800.3 277.8,809.4 280.4,798.7 283.1,799.5 285.8,803.2 288.5,810.5 291.1,809.8 293.8,805.5 296.5,808.6 299.1,809.2 301.8,812.5 304.5,816.4 307.2,808.0 309.8,803.5 312.5,807.2 315.2,799.4 317.9,800.5 320.5,805.4 323.2,795.8 325.9,793.8 328.6,805.4 331.2,806.6 333.9,790.8 336.6,801.2 339.3,804.9 341.9,810.5 344.6,798.5 347.3,809.3 350.0,806.8 352.6,799.3 355.3,800.1 358.0,802.9 360.7,808.4 363.3,833.5 366.0,772.0 368.7,728.3 371.4,730.0 374.0,767.9 376.7,802.5 379.4,809.7 382.0,807.6 384.7,796.3 387.4,801.3 390.1,819.1 392.7,820.5 395.4,820.4 398.1,811.0 400.8,806.1 403.4,805.2 406.1,777.2 408.8,802.4 411.5,793.6 414.1,793.6 416.8,800.9 419.5,807.0 422.2,800.9 424.8,802.9 427.5,795.5 430.2,799.3 432.9,799.5 435.5,803.8 438.2,801.1 440.9,806.4 443.6,813.3 446.2,813.2 448.9,803.9 451.6,796.5 454.3,802.7 456.9,799.9 459.6,799.2 462.3,795.0 464.9,793.6 467.6,790.2 470.3,796.0 473.0,812.9 475.6,798.8 478.3,797.9 481.0,780.7 483.7,786.8 486.3,823.7 489.0,810.1 491.7,827.2 494.4,799.3 497.0,803.3 499.7,808.6 502.4,802.3 505.1,798.2 507.7,800.3 510.4,796.8 513.1,783.4 515.8,790.2 518.4,808.0 521.1,805.1 523.8,807.9 526.5,809.6 529.1,815.6 531.8,804.0 534.5,798.1 537.1,801.7 539.8,798.3 542.5,806.6 545.2,809.1 547.8,797.0 550.5,808.7 553.2,815.6 555.9,804.8 558.5,819.6 561.2,805.0 563.9,797.0 566.6,799.7 569.2,806.6 571.9,814.6 574.6,803.7 577.3,799.0 579.9,813.5 582.6,828.2 585.3,827.3 588.0,792.4 590.6,816.0 593.3,824.3 596.0,803.4 598.7,811.5 601.3,783.2 604.0,804.7 606.7,828.8 609.4,821.8 612.0,831.3 614.7,851.5 617.4,834.8 620.0,834.8 622.7,832.7 625.4,817.6 628.1,821.4 630.7,823.4 633.4,826.2 636.1,820.7 638.8,800.7 641.4,805.7 644.1,811.2 646.8,805.7 649.5,805.6 652.1,814.0 654.8,809.7 657.5,803.4 660.2,800.7 662.8,813.4 665.5,811.3 668.2,805.4 670.9,807.7 673.5,802.3 676.2,795.2 678.9,819.0 681.6,815.4 684.2,808.9 686.9,800.4 689.6,809.4 692.3,809.8 694.9,814.6" fill="none" stroke="#a3a3a3" stroke-width="0.85" stroke-linejoin="round"/>
<polyline points="55.8,795.1 58.5,792.5 61.1,800.5 63.8,812.4 66.5,815.1 69.2,803.4 71.8,807.4 74.5,802.8 77.2,812.8 79.9,802.2 82.5,799.3 85.2,798.9 87.9,798.6 90.6,794.6 93.2,804.3 95.9,805.9 98.6,809.9 101.3,805.5 103.9,797.2 106.6,805.7 109.3,790.0 112.0,795.5 114.6,790.8 117.3,797.3 120.0,798.2 122.7,799.9 125.3,798.8 128.0,793.7 130.7,801.1 133.4,804.2 136.0,801.5 138.7,800.8 141.4,797.1 144.0,795.9 146.7,804.6 149.4,811.1 152.1,803.4 154.7,808.2 157.4,805.5 160.1,805.9 162.8,805.7 165.4,798.0 168.1,803.4 170.8,810.6 173.5,805.2 176.1,805.6 178.8,797.3 181.5,787.9 184.2,796.2 186.8,806.6 189.5,803.4 192.2,797.7 194.9,807.3 197.5,813.8 200.2,805.7 202.9,802.9 205.6,794.4 208.2,801.6 210.9,801.2 213.6,797.4 216.2,800.9 218.9,805.1 221.6,797.2 224.3,799.6 226.9,799.9 229.6,801.6 232.3,807.5 235.0,802.3 237.6,802.2 240.3,805.1 243.0,807.6 245.7,804.0 248.3,801.2 251.0,794.3 253.7,800.7 256.4,802.1 259.0,794.9 261.7,801.5 264.4,801.2 267.1,804.3 269.7,807.9 272.4,807.9 275.1,800.7 277.8,805.8 280.4,800.6 283.1,797.0 285.8,792.0 288.5,802.9 291.1,804.0 293.8,808.1 296.5,801.2 299.1,798.0 301.8,804.5 304.5,803.7 307.2,809.9 309.8,814.9 312.5,801.0 315.2,802.7 317.9,799.7 320.5,803.6 323.2,805.7 325.9,801.5 328.6,808.9 331.2,807.8 333.9,783.3 336.6,799.4 339.3,800.0 341.9,799.1 344.6,804.4 347.3,808.0 350.0,812.3 352.6,804.9 355.3,806.9 358.0,804.7 360.7,806.6 363.3,799.9 366.0,792.5 368.7,798.1 371.4,782.7 374.0,774.1 376.7,784.0 379.4,804.3 382.0,803.1 384.7,806.9 387.4,792.2 390.1,800.5 392.7,804.9 395.4,754.2 398.1,713.6 400.8,761.5 403.4,796.2 406.1,803.4 408.8,803.2 411.5,808.2 414.1,796.4 416.8,781.0 419.5,790.0 422.2,804.1 424.8,800.8 427.5,797.1 430.2,794.6 432.9,810.3 435.5,808.1 438.2,804.2 440.9,804.5 443.6,808.2 446.2,799.4 448.9,794.7 451.6,798.4 454.3,800.6 456.9,801.5 459.6,816.1 462.3,812.0 464.9,807.2 467.6,801.7 470.3,803.1 473.0,807.6 475.6,815.5 478.3,791.3 481.0,802.8 483.7,811.7 486.3,805.3 489.0,787.3 491.7,804.7 494.4,805.5 497.0,806.0 499.7,812.2 502.4,801.4 505.1,817.4 507.7,796.2 510.4,798.4 513.1,807.9 515.8,808.2 518.4,798.5 521.1,800.1 523.8,794.7 526.5,807.3 529.1,795.2 531.8,798.7 534.5,803.4 537.1,778.7 539.8,806.2 542.5,800.9 545.2,813.8 547.8,800.2 550.5,797.1 553.2,804.2 555.9,803.4 558.5,792.6 561.2,808.4 563.9,801.9 566.6,793.9 569.2,786.9 571.9,817.9 574.6,829.3 577.3,800.7 579.9,786.9 582.6,831.7 585.3,845.5 588.0,847.1 590.6,859.0 593.3,812.1 596.0,850.1 598.7,872.1 601.3,822.0 604.0,837.7 606.7,848.4 609.4,858.1 612.0,860.9 614.7,860.3 617.4,876.3 620.0,821.6 622.7,831.5 625.4,838.9 628.1,862.8 630.7,856.5 633.4,858.8 636.1,860.7 638.8,855.5 641.4,870.7 644.1,837.4 646.8,865.5 649.5,839.7 652.1,788.5 654.8,849.1 657.5,864.4 660.2,860.9 662.8,865.1 665.5,861.3 668.2,857.2 670.9,863.6 673.5,866.5 676.2,858.1 678.9,865.0 681.6,870.2 684.2,864.5 686.9,854.8 689.6,843.5 692.3,870.1 694.9,863.7" fill="none" stroke="#a3a3a3" stroke-width="0.85" stroke-linejoin="round"/>
<polyline points="55.8,792.1 58.5,812.3 61.1,802.7 63.8,824.1 66.5,802.8 69.2,800.8 71.8,801.6 74.5,796.1 77.2,795.0 79.9,803.5 82.5,811.9 85.2,805.7 87.9,810.6 90.6,794.7 93.2,796.8 95.9,800.4 98.6,793.5 101.3,800.9 103.9,809.1 106.6,805.9 109.3,809.0 112.0,805.9 114.6,802.0 117.3,802.6 120.0,805.3 122.7,800.2 125.3,803.9 128.0,804.1 130.7,803.5 133.4,810.3 136.0,814.3 138.7,815.0 141.4,799.5 144.0,795.3 146.7,796.8 149.4,798.7 152.1,800.7 154.7,795.6 157.4,798.8 160.1,799.8 162.8,796.5 165.4,803.8 168.1,810.5 170.8,801.3 173.5,800.2 176.1,806.1 178.8,799.7 181.5,802.1 184.2,810.0 186.8,807.3 189.5,806.8 192.2,806.9 194.9,807.7 197.5,806.2 200.2,801.7 202.9,798.0 205.6,798.4 208.2,797.5 210.9,806.0 213.6,800.2 216.2,801.6 218.9,793.1 221.6,794.7 224.3,807.0 226.9,795.1 229.6,811.4 232.3,801.0 235.0,797.5 237.6,802.6 240.3,802.1 243.0,809.2 245.7,804.8 248.3,800.7 251.0,805.3 253.7,813.5 256.4,809.9 259.0,810.4 261.7,806.2 264.4,799.2 267.1,810.3 269.7,803.4 272.4,806.7 275.1,798.9 277.8,804.8 280.4,797.6 283.1,798.2 285.8,803.7 288.5,798.4 291.1,798.8 293.8,796.9 296.5,796.5 299.1,797.8 301.8,797.5 304.5,808.1 307.2,809.6 309.8,795.3 312.5,796.9 315.2,801.8 317.9,804.0 320.5,803.4 323.2,800.7 325.9,793.5 328.6,804.7 331.2,801.7 333.9,802.1 336.6,803.6 339.3,797.2 341.9,801.0 344.6,804.6 347.3,808.7 350.0,803.0 352.6,792.7 355.3,793.7 358.0,792.3 360.7,797.5 363.3,800.6 366.0,796.4 368.7,797.6 371.4,794.4 374.0,790.9 376.7,803.1 379.4,805.5 382.0,798.4 384.7,801.6 387.4,777.1 390.1,787.5 392.7,755.0 395.4,791.6 398.1,728.4 400.8,702.3 403.4,724.8 406.1,755.7 408.8,786.1 411.5,795.2 414.1,740.1 416.8,719.3 419.5,737.3 422.2,779.8 424.8,792.2 427.5,803.5 430.2,731.5 432.9,708.0 435.5,740.9 438.2,763.3 440.9,787.0 443.6,788.2 446.2,740.0 448.9,730.5 451.6,751.5 454.3,782.7 456.9,800.4 459.6,785.4 462.3,739.2 464.9,706.3 467.6,721.5 470.3,787.6 473.0,797.7 475.6,778.0 478.3,733.4 481.0,724.9 483.7,747.1 486.3,766.7 489.0,793.7 491.7,803.3 494.4,715.9 497.0,688.2 499.7,730.4 502.4,783.7 505.1,768.6 507.7,783.5 510.4,799.9 513.1,789.4 515.8,797.7 518.4,775.6 521.1,795.6 523.8,789.6 526.5,734.6 529.1,710.8 531.8,723.0 534.5,775.0 537.1,784.7 539.8,793.1 542.5,742.3 545.2,735.6 547.8,751.1 550.5,786.6 553.2,788.4 555.9,754.5 558.5,816.1 561.2,763.4 563.9,776.5 566.6,798.2 569.2,799.6 571.9,803.0 574.6,826.8 577.3,833.4 579.9,816.7 582.6,768.3 585.3,806.1 588.0,812.5 590.6,784.3 593.3,800.1 596.0,802.8 598.7,813.7 601.3,810.0 604.0,797.9 606.7,813.1 609.4,797.1 612.0,768.2 614.7,780.0 617.4,803.0 620.0,815.9 622.7,801.6 625.4,807.6 628.1,793.2 630.7,783.1 633.4,779.6 636.1,795.3 638.8,811.9 641.4,788.1 644.1,787.2 646.8,796.9 649.5,814.3 652.1,825.7 654.8,822.6 657.5,808.3 660.2,794.0 662.8,778.6 665.5,783.8 668.2,780.1 670.9,795.1 673.5,801.9 676.2,782.3 678.9,800.2 681.6,799.9 684.2,812.2 686.9,796.4 689.6,814.5 692.3,809.3 694.9,812.9" fill="none" stroke="#a3a3a3" stroke-width="0.85" stroke-linejoin="round"/>
<polyline points="55.8,808.7 58.5,801.9 61.1,796.5 63.8,808.7 66.5,792.4 69.2,807.5 71.8,799.0 74.5,809.3 77.2,805.4 79.9,801.9 82.5,805.9 85.2,799.4 87.9,809.4 90.6,796.9 93.2,810.2 95.9,802.3 98.6,803.3 101.3,804.9 103.9,804.0 106.6,791.7 109.3,799.7 112.0,798.1 114.6,805.9 117.3,804.0 120.0,802.7 122.7,798.6 125.3,801.9 128.0,803.1 130.7,806.3 133.4,804.7 136.0,803.9 138.7,804.5 141.4,796.7 144.0,800.4 146.7,799.5 149.4,798.5 152.1,801.0 154.7,801.7 157.4,806.2 160.1,802.0 162.8,809.4 165.4,802.3 168.1,802.3 170.8,800.6 173.5,799.4 176.1,796.7 178.8,799.2 181.5,798.0 184.2,793.6 186.8,798.1 189.5,804.5 192.2,804.1 194.9,804.9 197.5,808.1 200.2,806.9 202.9,797.8 205.6,802.5 208.2,801.1 210.9,799.8 213.6,800.2 216.2,805.6 218.9,804.8 221.6,813.8 224.3,803.8 226.9,801.4 229.6,799.2 232.3,796.6 235.0,798.6 237.6,796.7 240.3,798.4 243.0,807.1 245.7,800.1 248.3,804.4 251.0,799.8 253.7,804.2 256.4,804.3 259.0,798.1 261.7,795.4 264.4,796.2 267.1,801.7 269.7,800.2 272.4,801.4 275.1,802.0 277.8,798.9 280.4,797.7 283.1,805.2 285.8,803.8 288.5,804.2 291.1,806.5 293.8,805.0 296.5,804.8 299.1,798.6 301.8,800.6 304.5,797.2 307.2,802.1 309.8,804.3 312.5,804.2 315.2,806.3 317.9,799.1 320.5,804.3 323.2,803.2 325.9,804.3 328.6,800.5 331.2,796.7 333.9,799.7 336.6,805.8 339.3,802.7 341.9,798.5 344.6,802.4 347.3,807.0 350.0,800.6 352.6,797.7 355.3,798.3 358.0,767.2 360.7,802.9 363.3,801.1 366.0,798.2 368.7,800.5 371.4,797.0 374.0,807.7 376.7,805.4 379.4,803.0 382.0,806.7 384.7,808.7 387.4,803.5 390.1,803.6 392.7,796.0 395.4,804.9 398.1,811.1 400.8,800.6 403.4,803.8 406.1,807.2 408.8,802.2 411.5,798.5 414.1,797.4 416.8,795.6 419.5,801.4 422.2,795.2 424.8,802.0 427.5,801.2 430.2,798.8 432.9,786.6 435.5,784.8 438.2,788.0 440.9,795.2 443.6,802.0 446.2,810.5 448.9,799.4 451.6,804.1 454.3,800.0 456.9,801.3 459.6,804.9 462.3,798.2 464.9,798.7 467.6,793.6 470.3,789.7 473.0,795.7 475.6,799.4 478.3,807.2 481.0,807.0 483.7,804.9 486.3,800.3 489.0,797.5 491.7,801.4 494.4,792.5 497.0,805.5 499.7,802.4 502.4,794.9 505.1,756.1 507.7,711.9 510.4,759.7 513.1,797.5 515.8,794.0 518.4,797.9 521.1,799.8 523.8,803.9 526.5,800.6 529.1,795.9 531.8,801.8 534.5,805.7 537.1,812.0 539.8,792.3 542.5,800.7 545.2,797.0 547.8,798.0 550.5,801.8 553.2,803.7 555.9,800.3 558.5,811.7 561.2,814.0 563.9,809.3 566.6,810.3 569.2,793.9 571.9,806.2 574.6,809.8 577.3,800.8 579.9,804.7 582.6,794.2 585.3,771.1 588.0,769.4 590.6,769.5 593.3,803.2 596.0,818.3 598.7,792.4 601.3,802.1 604.0,806.2 606.7,789.5 609.4,802.4 612.0,806.4 614.7,778.2 617.4,785.6 620.0,766.2 622.7,775.0 625.4,784.6 628.1,790.2 630.7,787.7 633.4,803.5 636.1,806.7 638.8,788.3 641.4,767.1 644.1,783.9 646.8,785.5 649.5,798.3 652.1,789.6 654.8,779.4 657.5,769.6 660.2,769.7 662.8,768.0 665.5,787.3 668.2,793.1 670.9,796.0 673.5,804.7 676.2,787.9 678.9,791.3 681.6,787.5 684.2,801.2 686.9,790.3 689.6,788.8 692.3,798.7 694.9,787.1" fill="none" stroke="#a3a3a3" stroke-width="0.85" stroke-linejoin="round"/>
<polyline points="55.8,797.0 58.5,835.6 61.1,811.3 63.8,814.2 66.5,804.0 69.2,829.3 71.8,794.0 74.5,798.6 77.2,789.1 79.9,795.1 82.5,809.4 85.2,802.0 87.9,814.1 90.6,790.0 93.2,796.9 95.9,809.5 98.6,798.1 101.3,820.9 103.9,831.6 106.6,814.3 109.3,797.1 112.0,793.1 114.6,797.3 117.3,794.5 120.0,798.7 122.7,801.7 125.3,784.9 128.0,794.1 130.7,798.9 133.4,802.0 136.0,815.7 138.7,805.8 141.4,812.7 144.0,807.3 146.7,799.8 149.4,788.2 152.1,778.8 154.7,820.5 157.4,829.0 160.1,798.3 162.8,801.3 165.4,797.7 168.1,790.3 170.8,788.8 173.5,783.1 176.1,807.6 178.8,804.6 181.5,809.2 184.2,799.4 186.8,799.4 189.5,796.9 192.2,783.9 194.9,803.6 197.5,808.3 200.2,814.6 202.9,797.3 205.6,803.8 208.2,793.1 210.9,814.8 213.6,791.8 216.2,800.3 218.9,800.4 221.6,809.0 224.3,797.3 226.9,792.7 229.6,810.5 232.3,800.8 235.0,795.6 237.6,788.9 240.3,797.7 243.0,794.3 245.7,812.1 248.3,802.1 251.0,799.5 253.7,791.9 256.4,796.8 259.0,785.1 261.7,815.8 264.4,801.1 267.1,801.2 269.7,779.4 272.4,804.5 275.1,810.0 277.8,816.2 280.4,793.3 283.1,799.5 285.8,808.7 288.5,810.3 291.1,808.9 293.8,798.1 296.5,807.3 299.1,799.1 301.8,801.0 304.5,799.3 307.2,809.1 309.8,789.4 312.5,802.3 315.2,806.1 317.9,812.5 320.5,801.2 323.2,808.2 325.9,788.9 328.6,794.4 331.2,808.3 333.9,807.8 336.6,783.0 339.3,787.9 341.9,818.2 344.6,805.7 347.3,803.0 350.0,796.6 352.6,827.5 355.3,815.3 358.0,808.6 360.7,802.5 363.3,808.0 366.0,785.9 368.7,793.7 371.4,808.7 374.0,812.2 376.7,809.4 379.4,796.4 382.0,808.1 384.7,798.6 387.4,780.9 390.1,772.2 392.7,794.7 395.4,778.8 398.1,788.6 400.8,812.3 403.4,802.8 406.1,806.7 408.8,810.1 411.5,793.1 414.1,787.8 416.8,807.6 419.5,802.7 422.2,793.4 424.8,788.9 427.5,803.0 430.2,801.1 432.9,803.3 435.5,807.5 438.2,779.2 440.9,824.3 443.6,805.8 446.2,813.8 448.9,807.8 451.6,791.4 454.3,805.5 456.9,796.4 459.6,813.3 462.3,826.6 464.9,810.9 467.6,810.3 470.3,796.8 473.0,784.0 475.6,809.3 478.3,796.9 481.0,791.6 483.7,810.3 486.3,811.0 489.0,834.4 491.7,799.9 494.4,811.3 497.0,790.4 499.7,795.5 502.4,796.9 505.1,816.0 507.7,765.2 510.4,797.2 513.1,797.8 515.8,796.4 518.4,793.7 521.1,815.3 523.8,825.4 526.5,791.7 529.1,811.5 531.8,811.5 534.5,816.2 537.1,811.1 539.8,829.6 542.5,823.0 545.2,812.6 547.8,816.8 550.5,814.1 553.2,800.9 555.9,827.7 558.5,847.8 561.2,655.5 563.9,810.5 566.6,814.2 569.2,769.9 571.9,805.0 574.6,821.8 577.3,817.4 579.9,809.1 582.6,775.3 585.3,753.4 588.0,781.3 590.6,758.7 593.3,777.3 596.0,843.5 598.7,819.8 601.3,801.2 604.0,797.4 606.7,788.2 609.4,822.4 612.0,829.2 614.7,765.0 617.4,741.8 620.0,781.0 622.7,815.5 625.4,811.0 628.1,777.1 630.7,772.3 633.4,793.0 636.1,754.0 638.8,777.3 641.4,778.4 644.1,761.2 646.8,779.4 649.5,795.2 652.1,820.2 654.8,830.1 657.5,807.5 660.2,745.3 662.8,766.2 665.5,782.7 668.2,765.2 670.9,798.8 673.5,759.4 676.2,793.2 678.9,821.4 681.6,741.9 684.2,768.0 686.9,776.5 689.6,760.1 692.3,752.2 694.9,751.9" fill="none" stroke="#a3a3a3" stroke-width="0.85" stroke-linejoin="round"/>
<polyline points="55.8,800.6 58.5,808.0 61.1,801.4 63.8,802.4 66.5,802.4 69.2,797.2 71.8,793.9 74.5,813.2 77.2,808.2 79.9,808.1 82.5,802.0 85.2,800.0 87.9,798.9 90.6,805.5 93.2,793.1 95.9,793.3 98.6,798.6 101.3,803.6 103.9,798.8 106.6,792.7 109.3,802.9 112.0,804.1 114.6,804.7 117.3,807.3 120.0,795.2 122.7,801.0 125.3,797.6 128.0,795.4 130.7,807.2 133.4,798.3 136.0,803.8 138.7,798.0 141.4,802.6 144.0,798.9 146.7,802.2 149.4,795.1 152.1,795.6 154.7,804.6 157.4,798.1 160.1,802.7 162.8,805.7 165.4,801.8 168.1,807.1 170.8,799.6 173.5,800.6 176.1,798.5 178.8,798.6 181.5,800.7 184.2,802.4 186.8,801.9 189.5,801.9 192.2,802.4 194.9,801.0 197.5,800.8 200.2,803.6 202.9,804.3 205.6,806.5 208.2,801.4 210.9,799.3 213.6,800.1 216.2,804.9 218.9,798.3 221.6,800.2 224.3,808.0 226.9,803.3 229.6,795.0 232.3,798.0 235.0,805.2 237.6,806.9 240.3,805.1 243.0,802.8 245.7,802.8 248.3,801.0 251.0,804.6 253.7,802.7 256.4,802.6 259.0,797.5 261.7,796.7 264.4,805.3 267.1,802.7 269.7,804.5 272.4,803.3 275.1,803.1 277.8,803.8 280.4,802.4 283.1,802.0 285.8,795.7 288.5,798.5 291.1,808.5 293.8,803.9 296.5,803.9 299.1,802.0 301.8,797.3 304.5,796.6 307.2,802.2 309.8,804.1 312.5,801.8 315.2,800.5 317.9,810.1 320.5,805.7 323.2,800.3 325.9,799.0 328.6,804.7 331.2,802.0 333.9,794.8 336.6,800.8 339.3,802.1 341.9,799.6 344.6,796.4 347.3,799.7 350.0,798.3 352.6,795.6 355.3,791.1 358.0,801.8 360.7,803.5 363.3,804.7 366.0,796.5 368.7,804.9 371.4,798.0 374.0,804.5 376.7,802.6 379.4,807.7 382.0,799.6 384.7,798.1 387.4,803.2 390.1,805.0 392.7,807.7 395.4,802.4 398.1,803.2 400.8,796.0 403.4,800.4 406.1,793.0 408.8,809.0 411.5,804.2 414.1,805.9 416.8,791.4 419.5,799.8 422.2,797.8 424.8,787.2 427.5,809.4 430.2,800.6 432.9,805.9 435.5,806.0 438.2,803.0 440.9,795.2 443.6,794.2 446.2,810.4 448.9,806.5 451.6,792.8 454.3,796.0 456.9,792.6 459.6,803.9 462.3,807.6 464.9,796.7 467.6,795.0 470.3,789.6 473.0,795.3 475.6,802.7 478.3,807.3 481.0,796.4 483.7,791.8 486.3,793.0 489.0,804.7 491.7,812.0 494.4,799.1 497.0,799.0 499.7,804.2 502.4,797.0 505.1,805.5 507.7,803.6 510.4,803.4 513.1,804.9 515.8,798.9 518.4,810.3 521.1,805.5 523.8,802.4 526.5,803.1 529.1,790.4 531.8,788.4 534.5,786.7 537.1,800.9 539.8,803.0 542.5,801.9 545.2,809.5 547.8,810.7 550.5,791.1 553.2,803.3 555.9,794.0 558.5,796.3 561.2,805.8 563.9,806.0 566.6,801.9 569.2,804.8 571.9,756.9 574.6,722.1 577.3,754.8 579.9,794.1 582.6,783.2 585.3,777.4 588.0,815.2 590.6,820.4 593.3,818.4 596.0,828.2 598.7,820.4 601.3,778.1 604.0,765.9 606.7,786.0 609.4,776.3 612.0,769.3 614.7,781.1 617.4,756.0 620.0,764.9 622.7,786.6 625.4,792.6 628.1,806.4 630.7,779.1 633.4,798.7 636.1,793.5 638.8,780.0 641.4,801.5 644.1,785.3 646.8,799.8 649.5,791.2 652.1,806.4 654.8,812.8 657.5,780.0 660.2,789.5 662.8,774.3 665.5,783.9 668.2,804.6 670.9,795.1 673.5,790.6 676.2,787.4 678.9,781.1 681.6,777.3 684.2,757.9 686.9,796.5 689.6,795.5 692.3,787.5 694.9,782.9" fill="none" stroke="#a3a3a3" stroke-width="0.85" stroke-linejoin="round"/>
<polyline points="55.8,798.3 58.5,810.5 61.1,804.7 63.8,803.5 66.5,798.4 69.2,801.5 71.8,799.9 74.5,801.9 77.2,804.3 79.9,796.0 82.5,803.4 85.2,801.2 87.9,808.7 90.6,814.2 93.2,804.9 95.9,812.5 98.6,805.6 101.3,800.7 103.9,799.3 106.6,802.2 109.3,800.0 112.0,792.3 114.6,793.0 117.3,800.3 120.0,802.8 122.7,805.7 125.3,801.9 128.0,800.2 130.7,807.6 133.4,799.5 136.0,806.5 138.7,800.5 141.4,799.5 144.0,800.9 146.7,802.4 149.4,801.2 152.1,798.4 154.7,794.0 157.4,801.0 160.1,806.8 162.8,805.7 165.4,804.0 168.1,799.5 170.8,803.4 173.5,796.8 176.1,800.6 178.8,803.7 181.5,800.6 184.2,803.9 186.8,797.2 189.5,801.6 192.2,798.9 194.9,796.1 197.5,788.8 200.2,781.9 202.9,772.3 205.6,780.9 208.2,787.5 210.9,803.9 213.6,799.4 216.2,802.2 218.9,805.2 221.6,800.5 224.3,806.1 226.9,799.8 229.6,799.6 232.3,804.3 235.0,802.8 237.6,801.5 240.3,801.2 243.0,802.4 245.7,805.2 248.3,801.2 251.0,803.1 253.7,802.6 256.4,804.8 259.0,805.3 261.7,801.5 264.4,804.2 267.1,802.7 269.7,811.3 272.4,804.8 275.1,798.7 277.8,799.8 280.4,799.3 283.1,803.7 285.8,802.9 288.5,798.4 291.1,799.2 293.8,796.1 296.5,804.9 299.1,803.1 301.8,801.3 304.5,810.4 307.2,807.6 309.8,800.9 312.5,804.4 315.2,807.0 317.9,804.3 320.5,803.4 323.2,807.0 325.9,799.9 328.6,799.5 331.2,804.2 333.9,805.1 336.6,803.2 339.3,800.6 341.9,798.7 344.6,796.0 347.3,799.0 350.0,808.2 352.6,799.4 355.3,802.0 358.0,803.7 360.7,808.6 363.3,798.8 366.0,804.6 368.7,803.1 371.4,790.0 374.0,782.8 376.7,796.3 379.4,801.4 382.0,803.3 384.7,804.5 387.4,802.8 390.1,797.4 392.7,798.6 395.4,807.1 398.1,806.1 400.8,798.4 403.4,796.6 406.1,799.4 408.8,802.1 411.5,799.9 414.1,801.6 416.8,804.0 419.5,801.9 422.2,806.4 424.8,800.7 427.5,795.1 430.2,797.7 432.9,793.8 435.5,791.1 438.2,796.8 440.9,803.1 443.6,804.5 446.2,805.5 448.9,800.3 451.6,782.5 454.3,770.5 456.9,752.5 459.6,767.8 462.3,782.6 464.9,805.3 467.6,805.4 470.3,790.3 473.0,802.4 475.6,801.9 478.3,805.6 481.0,802.8 483.7,793.4 486.3,794.0 489.0,793.1 491.7,806.6 494.4,799.7 497.0,798.1 499.7,802.1 502.4,813.5 505.1,814.7 507.7,799.6 510.4,784.4 513.1,783.0 515.8,773.5 518.4,789.1 521.1,796.5 523.8,808.7 526.5,820.4 529.1,828.4 531.8,812.0 534.5,794.2 537.1,801.4 539.8,805.0 542.5,810.9 545.2,804.8 547.8,792.0 550.5,797.8 553.2,813.2 555.9,801.1 558.5,809.2 561.2,809.4 563.9,802.5 566.6,799.3 569.2,792.1 571.9,801.1 574.6,805.0 577.3,806.4 579.9,800.7 582.6,800.3 585.3,810.3 588.0,808.1 590.6,797.2 593.3,798.4 596.0,806.0 598.7,800.6 601.3,795.1 604.0,802.5 606.7,803.9 609.4,799.3 612.0,806.9 614.7,794.5 617.4,791.0 620.0,801.1 622.7,778.8 625.4,780.3 628.1,782.2 630.7,794.5 633.4,795.1 636.1,794.5 638.8,797.7 641.4,796.2 644.1,805.4 646.8,797.2 649.5,789.9 652.1,796.7 654.8,802.9 657.5,803.0 660.2,792.6 662.8,795.9 665.5,793.3 668.2,806.8 670.9,793.5 673.5,791.6 676.2,799.7 678.9,792.2 681.6,785.4 684.2,787.1 686.9,798.9 689.6,791.3 692.3,792.5 694.9,802.9" fill="none" stroke="#a3a3a3" stroke-width="0.85" stroke-linejoin="round"/>
<polyline points="55.8,800.8 58.5,804.1 61.1,801.5 63.8,802.5 66.5,803.0 69.2,808.9 71.8,804.8 74.5,806.1 77.2,804.6 79.9,798.5 82.5,804.5 85.2,806.5 87.9,803.8 90.6,796.9 93.2,794.8 95.9,804.5 98.6,803.5 101.3,791.6 103.9,799.3 106.6,810.0 109.3,797.7 112.0,803.1 114.6,805.7 117.3,803.5 120.0,800.2 122.7,804.1 125.3,798.9 128.0,794.6 130.7,800.3 133.4,796.7 136.0,800.5 138.7,804.4 141.4,807.6 144.0,805.9 146.7,801.7 149.4,803.7 152.1,798.6 154.7,799.5 157.4,794.8 160.1,801.2 162.8,797.0 165.4,799.8 168.1,796.6 170.8,799.7 173.5,801.7 176.1,804.3 178.8,810.8 181.5,813.7 184.2,803.5 186.8,800.9 189.5,799.5 192.2,797.8 194.9,801.9 197.5,801.7 200.2,802.4 202.9,800.6 205.6,805.6 208.2,804.0 210.9,797.8 213.6,803.0 216.2,798.8 218.9,800.3 221.6,802.5 224.3,804.5 226.9,802.8 229.6,802.2 232.3,795.7 235.0,815.4 237.6,831.5 240.3,819.6 243.0,800.3 245.7,805.4 248.3,802.1 251.0,801.5 253.7,805.0 256.4,800.2 259.0,802.6 261.7,799.4 264.4,802.6 267.1,807.3 269.7,805.8 272.4,809.3 275.1,810.1 277.8,806.7 280.4,800.2 283.1,803.4 285.8,804.3 288.5,804.1 291.1,803.6 293.8,801.6 296.5,803.3 299.1,805.6 301.8,805.6 304.5,801.2 307.2,798.9 309.8,802.5 312.5,805.1 315.2,800.2 317.9,799.5 320.5,801.4 323.2,795.9 325.9,798.4 328.6,800.9 331.2,808.9 333.9,798.9 336.6,808.2 339.3,805.1 341.9,805.4 344.6,804.4 347.3,799.2 350.0,802.5 352.6,801.6 355.3,807.1 358.0,805.2 360.7,807.3 363.3,804.7 366.0,800.6 368.7,801.8 371.4,799.2 374.0,801.0 376.7,806.9 379.4,800.7 382.0,806.5 384.7,796.6 387.4,803.7 390.1,804.2 392.7,809.5 395.4,809.0 398.1,802.8 400.8,803.7 403.4,798.5 406.1,794.3 408.8,787.5 411.5,798.5 414.1,797.2 416.8,810.2 419.5,793.8 422.2,773.1 424.8,758.2 427.5,778.2 430.2,795.5 432.9,802.1 435.5,779.9 438.2,797.0 440.9,799.4 443.6,801.9 446.2,802.5 448.9,797.2 451.6,800.9 454.3,800.7 456.9,804.2 459.6,798.3 462.3,797.1 464.9,792.3 467.6,799.5 470.3,800.6 473.0,803.9 475.6,807.8 478.3,799.5 481.0,803.4 483.7,798.1 486.3,797.5 489.0,805.5 491.7,798.9 494.4,804.6 497.0,807.2 499.7,799.8 502.4,803.0 505.1,802.4 507.7,789.1 510.4,799.5 513.1,797.3 515.8,804.9 518.4,806.4 521.1,807.1 523.8,809.3 526.5,796.2 529.1,805.2 531.8,801.2 534.5,799.9 537.1,804.2 539.8,802.0 542.5,797.3 545.2,796.3 547.8,802.8 550.5,799.4 553.2,805.5 555.9,793.9 558.5,812.2 561.2,815.8 563.9,817.3 566.6,805.2 569.2,787.6 571.9,798.8 574.6,796.1 577.3,811.0 579.9,801.8 582.6,823.8 585.3,797.8 588.0,811.3 590.6,810.4 593.3,819.6 596.0,850.3 598.7,807.9 601.3,833.2 604.0,829.0 606.7,823.7 609.4,818.1 612.0,826.0 614.7,802.0 617.4,810.4 620.0,793.6 622.7,809.1 625.4,816.5 628.1,806.6 630.7,821.7 633.4,825.6 636.1,825.2 638.8,839.4 641.4,836.0 644.1,816.5 646.8,815.0 649.5,816.3 652.1,799.1 654.8,804.9 657.5,823.5 660.2,831.5 662.8,834.0 665.5,821.4 668.2,828.0 670.9,831.8 673.5,827.7 676.2,827.4 678.9,844.7 681.6,834.0 684.2,832.8 686.9,833.3 689.6,842.7 692.3,837.7 694.9,831.1" fill="none" stroke="#a3a3a3" stroke-width="0.85" stroke-linejoin="round"/>
<polyline points="55.8,822.0 58.5,824.8 61.1,806.0 63.8,789.0 66.5,797.5 69.2,787.3 71.8,801.2 74.5,795.1 77.2,799.2 79.9,802.2 82.5,796.7 85.2,788.7 87.9,807.4 90.6,814.8 93.2,809.1 95.9,801.5 98.6,798.1 101.3,806.7 103.9,810.8 106.6,774.1 109.3,812.5 112.0,803.7 114.6,801.9 117.3,786.9 120.0,800.5 122.7,793.8 125.3,811.0 128.0,801.0 130.7,797.1 133.4,794.0 136.0,807.1 138.7,802.9 141.4,810.6 144.0,794.9 146.7,801.0 149.4,819.7 152.1,805.6 154.7,806.9 157.4,796.7 160.1,801.0 162.8,814.1 165.4,817.1 168.1,812.1 170.8,808.4 173.5,806.4 176.1,792.4 178.8,797.2 181.5,806.3 184.2,816.6 186.8,807.3 189.5,801.7 192.2,801.7 194.9,799.7 197.5,808.2 200.2,808.3 202.9,809.8 205.6,811.7 208.2,794.6 210.9,812.0 213.6,808.6 216.2,810.3 218.9,811.2 221.6,809.2 224.3,802.5 226.9,805.8 229.6,804.4 232.3,798.0 235.0,812.7 237.6,810.2 240.3,807.2 243.0,803.7 245.7,810.6 248.3,797.6 251.0,793.6 253.7,804.3 256.4,799.2 259.0,809.1 261.7,806.8 264.4,800.1 267.1,796.1 269.7,793.7 272.4,808.9 275.1,789.6 277.8,800.9 280.4,797.3 283.1,807.2 285.8,801.3 288.5,805.4 291.1,812.3 293.8,809.8 296.5,793.3 299.1,794.1 301.8,796.1 304.5,802.7 307.2,805.5 309.8,806.2 312.5,811.9 315.2,795.8 317.9,796.2 320.5,789.1 323.2,778.9 325.9,804.9 328.6,806.5 331.2,811.7 333.9,790.8 336.6,805.4 339.3,797.8 341.9,800.8 344.6,795.9 347.3,818.4 350.0,809.4 352.6,806.4 355.3,803.8 358.0,788.7 360.7,816.3 363.3,811.2 366.0,810.5 368.7,808.8 371.4,789.3 374.0,775.5 376.7,761.0 379.4,778.0 382.0,787.6 384.7,820.0 387.4,833.5 390.1,834.5 392.7,805.9 395.4,818.3 398.1,813.4 400.8,809.4 403.4,804.7 406.1,805.8 408.8,806.0 411.5,799.4 414.1,793.4 416.8,802.3 419.5,786.1 422.2,796.3 424.8,805.5 427.5,802.4 430.2,796.5 432.9,812.7 435.5,808.1 438.2,799.4 440.9,809.1 443.6,796.5 446.2,807.2 448.9,802.4 451.6,780.3 454.3,803.6 456.9,807.1 459.6,810.1 462.3,809.7 464.9,807.1 467.6,792.8 470.3,790.1 473.0,785.5 475.6,794.0 478.3,787.9 481.0,821.9 483.7,842.8 486.3,834.6 489.0,815.4 491.7,807.7 494.4,788.3 497.0,810.1 499.7,816.7 502.4,799.1 505.1,804.7 507.7,781.3 510.4,782.8 513.1,801.2 515.8,821.6 518.4,818.3 521.1,797.0 523.8,812.9 526.5,807.0 529.1,785.6 531.8,802.2 534.5,786.7 537.1,802.3 539.8,814.9 542.5,799.1 545.2,822.6 547.8,790.6 550.5,781.5 553.2,797.6 555.9,809.9 558.5,804.5 561.2,805.1 563.9,797.7 566.6,763.7 569.2,839.8 571.9,830.3 574.6,790.0 577.3,821.4 579.9,868.5 582.6,896.5 585.3,727.1 588.0,792.3 590.6,810.3 593.3,793.1 596.0,791.0 598.7,872.5 601.3,859.1 604.0,822.2 606.7,808.2 609.4,816.8 612.0,767.9 614.7,799.7 617.4,835.6 620.0,846.5 622.7,873.8 625.4,879.4 628.1,874.6 630.7,812.0 633.4,840.9 636.1,823.8 638.8,842.2 641.4,754.7 644.1,820.5 646.8,841.8 649.5,855.1 652.1,858.2 654.8,868.0 657.5,841.0 660.2,824.3 662.8,858.9 665.5,834.1 668.2,847.3 670.9,829.8 673.5,849.5 676.2,875.6 678.9,763.8 681.6,828.4 684.2,837.3 686.9,842.6 689.6,847.5 692.3,872.6 694.9,858.3" fill="none" stroke="#a3a3a3" stroke-width="0.85" stroke-linejoin="round"/>
<polyline points="55.8,812.0 58.5,801.6 61.1,806.5 63.8,802.2 66.5,809.6 69.2,807.4 71.8,804.1 74.5,798.1 77.2,795.9 79.9,802.3 82.5,800.6 85.2,810.3 87.9,806.2 90.6,802.9 93.2,801.9 95.9,798.7 98.6,805.2 101.3,805.7 103.9,802.8 106.6,802.2 109.3,800.8 112.0,801.8 114.6,801.8 117.3,801.8 120.0,802.2 122.7,802.6 125.3,797.7 128.0,793.3 130.7,791.4 133.4,796.3 136.0,794.1 138.7,806.4 141.4,806.8 144.0,802.8 146.7,802.3 149.4,800.7 152.1,803.5 154.7,803.2 157.4,801.7 160.1,801.9 162.8,805.4 165.4,804.5 168.1,801.5 170.8,804.1 173.5,804.2 176.1,811.3 178.8,803.2 181.5,804.5 184.2,806.7 186.8,804.2 189.5,801.4 192.2,800.3 194.9,795.5 197.5,790.4 200.2,782.2 202.9,771.1 205.6,780.7 208.2,796.6 210.9,802.7 213.6,805.4 216.2,801.4 218.9,800.7 221.6,804.7 224.3,802.0 226.9,801.6 229.6,802.0 232.3,803.4 235.0,802.9 237.6,799.6 240.3,797.5 243.0,796.8 245.7,803.0 248.3,804.3 251.0,803.9 253.7,808.3 256.4,806.9 259.0,800.3 261.7,798.9 264.4,799.4 267.1,799.4 269.7,799.2 272.4,803.9 275.1,796.9 277.8,803.2 280.4,797.9 283.1,801.1 285.8,804.0 288.5,804.1 291.1,796.7 293.8,797.9 296.5,803.2 299.1,806.5 301.8,800.1 304.5,805.0 307.2,803.4 309.8,804.0 312.5,802.7 315.2,800.8 317.9,789.8 320.5,777.5 323.2,763.8 325.9,775.5 328.6,787.6 331.2,802.0 333.9,804.0 336.6,797.4 339.3,790.8 341.9,779.6 344.6,781.3 347.3,793.3 350.0,802.2 352.6,804.8 355.3,799.3 358.0,795.8 360.7,799.6 363.3,807.1 366.0,803.0 368.7,799.9 371.4,799.4 374.0,801.2 376.7,802.4 379.4,803.5 382.0,805.1 384.7,801.6 387.4,768.3 390.1,799.4 392.7,803.1 395.4,798.5 398.1,802.5 400.8,804.3 403.4,807.5 406.1,804.3 408.8,794.5 411.5,798.8 414.1,799.1 416.8,804.5 419.5,803.4 422.2,800.8 424.8,800.1 427.5,806.3 430.2,797.4 432.9,791.7 435.5,802.0 438.2,799.8 440.9,794.6 443.6,800.7 446.2,800.9 448.9,812.5 451.6,808.3 454.3,803.7 456.9,800.7 459.6,801.5 462.3,796.3 464.9,798.2 467.6,797.4 470.3,804.9 473.0,796.5 475.6,805.5 478.3,814.6 481.0,812.0 483.7,803.9 486.3,804.7 489.0,808.0 491.7,804.0 494.4,813.7 497.0,811.3 499.7,831.2 502.4,856.9 505.1,828.4 507.7,795.6 510.4,805.2 513.1,798.3 515.8,801.1 518.4,805.1 521.1,797.3 523.8,790.5 526.5,794.0 529.1,790.4 531.8,790.9 534.5,796.6 537.1,799.6 539.8,805.0 542.5,802.5 545.2,804.3 547.8,806.1 550.5,821.1 553.2,804.2 555.9,803.5 558.5,803.4 561.2,810.5 563.9,799.2 566.6,809.2 569.2,808.9 571.9,813.0 574.6,808.6 577.3,808.9 579.9,808.8 582.6,802.3 585.3,797.8 588.0,773.3 590.6,797.8 593.3,803.3 596.0,792.8 598.7,803.8 601.3,809.1 604.0,789.8 606.7,792.4 609.4,781.9 612.0,794.3 614.7,801.2 617.4,795.9 620.0,797.1 622.7,785.0 625.4,790.4 628.1,796.2 630.7,809.3 633.4,797.5 636.1,807.5 638.8,804.4 641.4,799.0 644.1,788.2 646.8,792.1 649.5,795.2 652.1,788.9 654.8,785.4 657.5,778.5 660.2,783.9 662.8,778.8 665.5,787.9 668.2,770.8 670.9,778.0 673.5,790.0 676.2,796.0 678.9,796.0 681.6,802.0 684.2,800.2 686.9,789.1 689.6,796.5 692.3,789.7 694.9,792.0" fill="none" stroke="#a3a3a3" stroke-width="0.85" stroke-linejoin="round"/>
<polyline points="55.8,811.5 58.5,781.3 61.1,778.4 63.8,798.1 66.5,793.0 69.2,800.4 71.8,802.8 74.5,794.6 77.2,800.5 79.9,798.2 82.5,798.1 85.2,796.7 87.9,801.1 90.6,808.9 93.2,807.5 95.9,805.3 98.6,812.9 101.3,804.2 103.9,798.6 106.6,797.7 109.3,802.3 112.0,805.8 114.6,794.2 117.3,805.4 120.0,802.8 122.7,804.6 125.3,799.7 128.0,803.3 130.7,796.7 133.4,794.0 136.0,797.0 138.7,794.7 141.4,802.1 144.0,802.3 146.7,797.1 149.4,795.7 152.1,801.9 154.7,798.6 157.4,795.0 160.1,795.7 162.8,799.9 165.4,800.6 168.1,799.0 170.8,800.9 173.5,802.8 176.1,802.1 178.8,800.2 181.5,803.4 184.2,798.7 186.8,808.2 189.5,802.8 192.2,798.1 194.9,800.6 197.5,794.2 200.2,797.8 202.9,800.5 205.6,802.0 208.2,798.0 210.9,796.1 213.6,805.3 216.2,797.7 218.9,798.1 221.6,805.9 224.3,806.3 226.9,809.3 229.6,802.8 232.3,802.1 235.0,806.7 237.6,805.5 240.3,800.3 243.0,800.7 245.7,809.9 248.3,797.3 251.0,797.5 253.7,800.6 256.4,801.1 259.0,796.1 261.7,800.5 264.4,800.0 267.1,800.1 269.7,805.4 272.4,808.8 275.1,801.0 277.8,805.4 280.4,802.5 283.1,802.6 285.8,805.8 288.5,808.6 291.1,800.4 293.8,801.5 296.5,807.2 299.1,806.0 301.8,795.3 304.5,796.6 307.2,813.4 309.8,805.6 312.5,806.9 315.2,797.6 317.9,799.0 320.5,803.2 323.2,801.8 325.9,800.4 328.6,799.2 331.2,802.5 333.9,785.9 336.6,805.8 339.3,797.6 341.9,802.5 344.6,797.2 347.3,803.1 350.0,800.8 352.6,806.8 355.3,797.1 358.0,803.3 360.7,799.9 363.3,806.6 366.0,803.2 368.7,803.1 371.4,797.0 374.0,813.9 376.7,803.1 379.4,801.8 382.0,801.9 384.7,799.9 387.4,800.8 390.1,795.0 392.7,807.6 395.4,804.0 398.1,762.0 400.8,802.2 403.4,804.4 406.1,805.1 408.8,805.9 411.5,809.6 414.1,804.1 416.8,797.5 419.5,796.1 422.2,802.1 424.8,801.9 427.5,800.6 430.2,800.7 432.9,802.3 435.5,806.8 438.2,803.1 440.9,807.3 443.6,809.9 446.2,805.4 448.9,789.6 451.6,804.5 454.3,796.6 456.9,794.8 459.6,785.5 462.3,796.6 464.9,804.6 467.6,798.1 470.3,796.6 473.0,802.1 475.6,806.4 478.3,800.3 481.0,794.2 483.7,804.7 486.3,803.1 489.0,797.4 491.7,803.5 494.4,803.8 497.0,811.9 499.7,799.2 502.4,799.0 505.1,813.8 507.7,796.5 510.4,804.0 513.1,782.5 515.8,792.4 518.4,809.9 521.1,800.9 523.8,801.3 526.5,802.2 529.1,812.6 531.8,806.2 534.5,795.5 537.1,791.1 539.8,793.0 542.5,796.6 545.2,804.6 547.8,792.5 550.5,807.5 553.2,773.6 555.9,792.7 558.5,802.1 561.2,799.8 563.9,789.7 566.6,799.9 569.2,789.8 571.9,807.8 574.6,820.4 577.3,815.0 579.9,807.2 582.6,819.0 585.3,809.9 588.0,792.3 590.6,728.6 593.3,655.5 596.0,726.7 598.7,804.6 601.3,803.6 604.0,813.7 606.7,811.7 609.4,842.8 612.0,823.7 614.7,829.5 617.4,802.1 620.0,834.6 622.7,836.0 625.4,824.5 628.1,833.0 630.7,830.4 633.4,822.1 636.1,818.3 638.8,824.0 641.4,831.5 644.1,826.3 646.8,816.1 649.5,822.0 652.1,829.4 654.8,821.0 657.5,817.2 660.2,800.0 662.8,825.3 665.5,806.1 668.2,832.0 670.9,839.6 673.5,833.6 676.2,835.7 678.9,812.9 681.6,825.1 684.2,823.8 686.9,813.4 689.6,822.7 692.3,830.3 694.9,835.6" fill="none" stroke="#a3a3a3" stroke-width="0.85" stroke-linejoin="round"/>
<polyline points="55.8,794.0 58.5,787.1 61.1,798.0 63.8,794.1 66.5,803.2 69.2,807.3 71.8,801.5 74.5,791.7 77.2,797.4 79.9,803.9 82.5,806.1 85.2,800.9 87.9,783.8 90.6,798.3 93.2,800.4 95.9,804.6 98.6,810.6 101.3,809.6 103.9,794.6 106.6,803.1 109.3,791.6 112.0,791.0 114.6,795.8 117.3,807.2 120.0,812.9 122.7,809.4 125.3,805.6 128.0,795.8 130.7,804.8 133.4,794.0 136.0,800.5 138.7,805.0 141.4,799.2 144.0,802.4 146.7,800.7 149.4,801.0 152.1,801.6 154.7,791.6 157.4,795.3 160.1,811.9 162.8,791.2 165.4,793.6 168.1,796.8 170.8,807.4 173.5,801.4 176.1,807.1 178.8,800.4 181.5,796.7 184.2,804.7 186.8,807.7 189.5,802.6 192.2,797.9 194.9,789.9 197.5,812.0 200.2,816.6 202.9,808.0 205.6,800.7 208.2,799.9 210.9,801.3 213.6,805.0 216.2,799.7 218.9,807.7 221.6,813.9 224.3,795.9 226.9,806.1 229.6,802.1 232.3,805.9 235.0,794.9 237.6,791.8 240.3,791.9 243.0,794.9 245.7,793.2 248.3,806.2 251.0,809.3 253.7,802.6 256.4,805.4 259.0,799.5 261.7,795.0 264.4,788.7 267.1,804.2 269.7,802.6 272.4,802.7 275.1,798.3 277.8,805.5 280.4,813.1 283.1,796.8 285.8,789.1 288.5,804.4 291.1,804.7 293.8,802.4 296.5,813.7 299.1,803.0 301.8,788.6 304.5,761.5 307.2,788.7 309.8,803.1 312.5,810.0 315.2,807.4 317.9,808.6 320.5,788.4 323.2,801.8 325.9,794.7 328.6,795.6 331.2,806.9 333.9,796.4 336.6,799.0 339.3,800.5 341.9,808.6 344.6,799.7 347.3,806.1 350.0,809.9 352.6,801.8 355.3,797.6 358.0,795.3 360.7,808.1 363.3,815.4 366.0,801.1 368.7,800.0 371.4,784.1 374.0,797.5 376.7,810.5 379.4,804.4 382.0,808.3 384.7,800.8 387.4,795.1 390.1,797.7 392.7,796.7 395.4,783.6 398.1,789.2 400.8,799.6 403.4,795.5 406.1,783.4 408.8,774.8 411.5,769.5 414.1,776.3 416.8,780.2 419.5,786.4 422.2,796.9 424.8,792.3 427.5,808.3 430.2,807.8 432.9,800.8 435.5,801.3 438.2,766.8 440.9,781.3 443.6,763.8 446.2,772.3 448.9,798.3 451.6,801.9 454.3,776.6 456.9,755.4 459.6,773.8 462.3,790.2 464.9,809.0 467.6,823.8 470.3,798.2 473.0,806.7 475.6,822.5 478.3,801.3 481.0,773.3 483.7,752.5 486.3,771.1 489.0,773.2 491.7,749.7 494.4,777.4 497.0,806.9 499.7,805.3 502.4,814.0 505.1,777.4 507.7,741.3 510.4,718.7 513.1,749.2 515.8,782.6 518.4,806.0 521.1,773.4 523.8,741.3 526.5,772.3 529.1,810.8 531.8,783.4 534.5,823.5 537.1,800.3 539.8,811.3 542.5,794.6 545.2,801.1 547.8,785.3 550.5,766.0 553.2,749.7 555.9,771.7 558.5,784.7 561.2,802.4 563.9,804.1 566.6,798.2 569.2,808.6 571.9,807.7 574.6,796.1 577.3,790.9 579.9,819.7 582.6,824.5 585.3,800.1 588.0,793.2 590.6,778.4 593.3,786.7 596.0,727.7 598.7,673.6 601.3,735.0 604.0,786.1 606.7,793.8 609.4,816.1 612.0,790.1 614.7,764.0 617.4,755.8 620.0,774.6 622.7,775.2 625.4,785.9 628.1,789.4 630.7,777.5 633.4,765.8 636.1,779.4 638.8,775.9 641.4,775.1 644.1,755.0 646.8,759.6 649.5,760.4 652.1,777.8 654.8,783.9 657.5,800.6 660.2,788.0 662.8,806.4 665.5,796.5 668.2,778.0 670.9,750.1 673.5,791.6 676.2,769.6 678.9,808.3 681.6,783.0 684.2,773.0 686.9,777.5 689.6,768.0 692.3,767.5 694.9,773.9" fill="none" stroke="#a3a3a3" stroke-width="0.85" stroke-linejoin="round"/>
<polyline points="55.8,803.2 58.5,810.5 61.1,817.2 63.8,792.0 66.5,811.0 69.2,801.9 71.8,804.1 74.5,801.4 77.2,799.9 79.9,801.8 82.5,805.4 85.2,804.9 87.9,802.6 90.6,802.0 93.2,799.1 95.9,801.7 98.6,797.3 101.3,801.9 103.9,800.2 106.6,803.7 109.3,807.1 112.0,796.9 114.6,802.6 117.3,802.2 120.0,799.1 122.7,799.3 125.3,794.9 128.0,797.6 130.7,800.2 133.4,799.5 136.0,799.5 138.7,797.3 141.4,801.8 144.0,802.4 146.7,801.0 149.4,796.3 152.1,801.8 154.7,805.2 157.4,803.8 160.1,803.0 162.8,803.7 165.4,803.0 168.1,807.0 170.8,807.8 173.5,800.3 176.1,803.5 178.8,804.6 181.5,803.6 184.2,797.8 186.8,798.9 189.5,803.7 192.2,802.6 194.9,799.1 197.5,799.5 200.2,805.3 202.9,799.7 205.6,804.7 208.2,803.3 210.9,795.5 213.6,802.6 216.2,798.0 218.9,801.8 221.6,803.3 224.3,805.7 226.9,808.3 229.6,802.1 232.3,797.9 235.0,806.0 237.6,799.4 240.3,796.9 243.0,805.6 245.7,801.0 248.3,805.6 251.0,803.0 253.7,801.6 256.4,795.6 259.0,800.7 261.7,799.6 264.4,800.1 267.1,801.3 269.7,802.5 272.4,792.7 275.1,799.4 277.8,800.3 280.4,803.0 283.1,802.7 285.8,800.1 288.5,803.6 291.1,803.2 293.8,804.5 296.5,800.2 299.1,799.2 301.8,800.9 304.5,798.7 307.2,799.1 309.8,805.7 312.5,803.4 315.2,798.9 317.9,797.1 320.5,805.3 323.2,799.7 325.9,785.2 328.6,801.2 331.2,804.5 333.9,808.9 336.6,809.9 339.3,799.3 341.9,800.4 344.6,804.1 347.3,805.4 350.0,791.7 352.6,776.8 355.3,763.8 358.0,776.4 360.7,790.2 363.3,802.8 366.0,802.7 368.7,803.8 371.4,804.9 374.0,798.9 376.7,775.8 379.4,749.7 382.0,772.7 384.7,799.3 387.4,800.4 390.1,800.7 392.7,803.2 395.4,803.9 398.1,797.3 400.8,798.9 403.4,807.9 406.1,813.4 408.8,806.7 411.5,809.8 414.1,806.2 416.8,805.7 419.5,794.7 422.2,787.8 424.8,782.0 427.5,769.5 430.2,782.5 432.9,788.0 435.5,806.5 438.2,803.1 440.9,798.3 443.6,804.5 446.2,807.7 448.9,808.8 451.6,798.3 454.3,794.2 456.9,805.0 459.6,796.0 462.3,806.9 464.9,805.5 467.6,803.1 470.3,780.2 473.0,758.2 475.6,780.0 478.3,809.9 481.0,798.3 483.7,801.3 486.3,802.6 489.0,812.0 491.7,811.1 494.4,799.7 497.0,798.2 499.7,798.6 502.4,800.3 505.1,799.2 507.7,803.6 510.4,792.3 513.1,797.3 515.8,799.4 518.4,795.2 521.1,804.1 523.8,799.9 526.5,799.2 529.1,804.7 531.8,799.0 534.5,773.0 537.1,746.9 539.8,781.1 542.5,804.4 545.2,798.7 547.8,803.9 550.5,804.6 553.2,804.6 555.9,768.6 558.5,735.6 561.2,770.7 563.9,797.1 566.6,799.7 569.2,799.5 571.9,801.5 574.6,799.5 577.3,804.0 579.9,795.9 582.6,788.3 585.3,794.7 588.0,789.7 590.6,786.0 593.3,803.1 596.0,801.1 598.7,790.9 601.3,795.5 604.0,786.2 606.7,744.5 609.4,696.1 612.0,744.8 614.7,788.1 617.4,782.0 620.0,773.3 622.7,787.1 625.4,789.3 628.1,781.6 630.7,779.0 633.4,783.9 636.1,775.1 638.8,790.7 641.4,781.1 644.1,794.6 646.8,784.7 649.5,790.0 652.1,792.1 654.8,786.3 657.5,792.4 660.2,794.4 662.8,789.4 665.5,782.9 668.2,786.1 670.9,794.3 673.5,797.6 676.2,780.7 678.9,794.2 681.6,789.7 684.2,800.2 686.9,791.8 689.6,782.3 692.3,780.6 694.9,782.2" fill="none" stroke="#a3a3a3" stroke-width="0.85" stroke-linejoin="round"/>
<polyline points="55.8,812.1 58.5,809.2 61.1,792.4 63.8,778.8 66.5,791.6 69.2,790.0 71.8,806.7 74.5,832.0 77.2,820.7 79.9,820.1 82.5,803.6 85.2,789.3 87.9,792.5 90.6,795.9 93.2,814.5 95.9,813.3 98.6,810.9 101.3,788.2 103.9,794.8 106.6,805.5 109.3,805.7 112.0,802.8 114.6,811.0 117.3,807.9 120.0,794.2 122.7,808.8 125.3,813.7 128.0,800.1 130.7,800.8 133.4,811.8 136.0,807.4 138.7,795.9 141.4,790.3 144.0,806.2 146.7,800.0 149.4,811.8 152.1,802.5 154.7,793.5 157.4,801.0 160.1,809.1 162.8,808.0 165.4,806.8 168.1,800.7 170.8,790.9 173.5,795.3 176.1,802.9 178.8,804.3 181.5,806.1 184.2,809.2 186.8,812.9 189.5,800.7 192.2,803.5 194.9,800.2 197.5,800.7 200.2,795.8 202.9,798.0 205.6,800.1 208.2,799.1 210.9,801.0 213.6,800.5 216.2,801.9 218.9,805.6 221.6,788.9 224.3,801.1 226.9,793.5 229.6,797.3 232.3,798.0 235.0,806.1 237.6,802.9 240.3,799.5 243.0,806.2 245.7,809.6 248.3,794.5 251.0,800.7 253.7,778.7 256.4,794.0 259.0,804.8 261.7,802.3 264.4,803.7 267.1,804.0 269.7,803.2 272.4,808.1 275.1,799.3 277.8,807.3 280.4,810.3 283.1,799.7 285.8,807.0 288.5,808.2 291.1,801.6 293.8,806.6 296.5,804.4 299.1,803.4 301.8,799.1 304.5,805.2 307.2,808.5 309.8,802.4 312.5,794.7 315.2,815.4 317.9,810.6 320.5,807.7 323.2,811.1 325.9,804.6 328.6,810.0 331.2,810.1 333.9,796.8 336.6,803.6 339.3,796.0 341.9,809.4 344.6,806.6 347.3,797.1 350.0,754.8 352.6,755.2 355.3,770.3 358.0,803.0 360.7,809.2 363.3,805.0 366.0,804.4 368.7,808.4 371.4,821.3 374.0,818.1 376.7,804.4 379.4,804.9 382.0,806.2 384.7,801.9 387.4,804.0 390.1,807.2 392.7,807.9 395.4,800.6 398.1,807.3 400.8,802.2 403.4,784.3 406.1,799.6 408.8,785.5 411.5,793.9 414.1,804.1 416.8,800.5 419.5,801.2 422.2,808.0 424.8,806.6 427.5,797.1 430.2,799.1 432.9,798.1 435.5,805.0 438.2,813.7 440.9,806.7 443.6,794.1 446.2,779.2 448.9,798.2 451.6,799.2 454.3,808.9 456.9,810.7 459.6,812.0 462.3,820.2 464.9,821.9 467.6,797.2 470.3,813.8 473.0,802.4 475.6,791.4 478.3,810.3 481.0,818.8 483.7,808.8 486.3,800.2 489.0,806.3 491.7,803.3 494.4,801.9 497.0,787.5 499.7,785.0 502.4,810.4 505.1,792.5 507.7,794.0 510.4,804.6 513.1,788.8 515.8,803.4 518.4,797.8 521.1,791.4 523.8,781.3 526.5,817.0 529.1,789.0 531.8,817.6 534.5,803.8 537.1,798.4 539.8,830.5 542.5,827.6 545.2,792.6 547.8,798.8 550.5,809.3 553.2,803.9 555.9,805.8 558.5,833.0 561.2,816.7 563.9,820.5 566.6,800.3 569.2,814.8 571.9,801.3 574.6,792.1 577.3,806.3 579.9,826.6 582.6,833.7 585.3,767.7 588.0,755.8 590.6,779.4 593.3,826.4 596.0,775.0 598.7,802.1 601.3,821.3 604.0,739.0 606.7,759.5 609.4,811.8 612.0,756.5 614.7,749.0 617.4,777.7 620.0,791.7 622.7,796.6 625.4,732.2 628.1,670.8 630.7,717.6 633.4,751.3 636.1,771.9 638.8,825.0 641.4,838.7 644.1,829.9 646.8,807.3 649.5,811.5 652.1,796.3 654.8,792.9 657.5,815.4 660.2,798.3 662.8,797.4 665.5,788.8 668.2,802.7 670.9,808.6 673.5,802.0 676.2,821.1 678.9,825.8 681.6,793.7 684.2,807.4 686.9,826.4 689.6,794.4 692.3,839.7 694.9,841.6" fill="none" stroke="#a3a3a3" stroke-width="0.85" stroke-linejoin="round"/>
<polyline points="55.8,799.4 58.5,816.7 61.1,803.5 63.8,807.1 66.5,809.3 69.2,808.8 71.8,803.9 74.5,810.6 77.2,803.5 79.9,794.0 82.5,802.6 85.2,801.3 87.9,805.2 90.6,803.1 93.2,809.0 95.9,809.9 98.6,808.2 101.3,808.7 103.9,800.8 106.6,802.1 109.3,793.9 112.0,807.3 114.6,801.0 117.3,795.8 120.0,803.5 122.7,795.4 125.3,806.3 128.0,797.9 130.7,796.0 133.4,802.1 136.0,798.9 138.7,797.8 141.4,806.9 144.0,803.9 146.7,797.8 149.4,796.1 152.1,798.5 154.7,800.4 157.4,802.2 160.1,803.3 162.8,807.9 165.4,803.0 168.1,802.7 170.8,804.2 173.5,800.3 176.1,799.8 178.8,806.4 181.5,805.1 184.2,805.7 186.8,804.0 189.5,797.5 192.2,802.4 194.9,801.0 197.5,801.8 200.2,808.3 202.9,801.3 205.6,802.3 208.2,803.1 210.9,800.7 213.6,803.8 216.2,807.0 218.9,799.7 221.6,797.8 224.3,797.3 226.9,800.3 229.6,798.6 232.3,801.1 235.0,796.4 237.6,795.0 240.3,801.3 243.0,806.4 245.7,806.4 248.3,810.8 251.0,804.6 253.7,801.8 256.4,809.5 259.0,804.5 261.7,805.4 264.4,803.3 267.1,798.8 269.7,798.0 272.4,800.1 275.1,800.6 277.8,806.2 280.4,805.8 283.1,802.5 285.8,790.1 288.5,803.4 291.1,802.1 293.8,806.2 296.5,795.9 299.1,804.5 301.8,800.4 304.5,797.0 307.2,798.9 309.8,798.5 312.5,806.6 315.2,795.5 317.9,796.9 320.5,776.7 323.2,803.2 325.9,803.5 328.6,803.2 331.2,807.9 333.9,803.0 336.6,808.1 339.3,801.3 341.9,802.1 344.6,808.8 347.3,792.3 350.0,799.8 352.6,797.8 355.3,804.8 358.0,802.5 360.7,800.5 363.3,804.0 366.0,793.3 368.7,799.6 371.4,805.2 374.0,805.2 376.7,800.3 379.4,797.6 382.0,772.6 384.7,804.6 387.4,804.7 390.1,799.3 392.7,802.6 395.4,797.7 398.1,793.5 400.8,806.3 403.4,803.2 406.1,807.5 408.8,800.2 411.5,793.6 414.1,789.3 416.8,789.9 419.5,794.8 422.2,798.5 424.8,796.6 427.5,807.5 430.2,799.2 432.9,798.3 435.5,803.7 438.2,814.9 440.9,806.2 443.6,803.5 446.2,802.4 448.9,808.8 451.6,806.2 454.3,810.1 456.9,809.6 459.6,803.7 462.3,797.3 464.9,797.7 467.6,794.9 470.3,808.3 473.0,812.8 475.6,812.8 478.3,808.1 481.0,802.4 483.7,814.2 486.3,807.2 489.0,804.9 491.7,798.9 494.4,795.2 497.0,800.8 499.7,805.0 502.4,806.2 505.1,803.0 507.7,802.2 510.4,804.0 513.1,798.9 515.8,787.0 518.4,800.1 521.1,800.9 523.8,805.5 526.5,801.1 529.1,794.9 531.8,804.3 534.5,796.0 537.1,808.1 539.8,836.1 542.5,813.0 545.2,806.5 547.8,804.2 550.5,807.2 553.2,797.4 555.9,795.0 558.5,802.5 561.2,816.6 563.9,796.9 566.6,806.1 569.2,804.9 571.9,787.0 574.6,800.3 577.3,811.6 579.9,795.8 582.6,804.0 585.3,794.5 588.0,793.9 590.6,816.8 593.3,819.8 596.0,821.3 598.7,787.3 601.3,774.2 604.0,776.1 606.7,784.1 609.4,766.7 612.0,775.6 614.7,790.9 617.4,794.0 620.0,780.3 622.7,772.5 625.4,759.0 628.1,778.0 630.7,719.1 633.4,665.1 636.1,719.2 638.8,781.5 641.4,762.0 644.1,779.6 646.8,783.4 649.5,770.6 652.1,761.3 654.8,764.0 657.5,776.7 660.2,756.0 662.8,767.6 665.5,771.5 668.2,752.5 670.9,768.4 673.5,770.3 676.2,761.3 678.9,759.4 681.6,764.4 684.2,778.6 686.9,784.6 689.6,776.1 692.3,793.1 694.9,782.7" fill="none" stroke="#a3a3a3" stroke-width="0.85" stroke-linejoin="round"/>
<polyline points="55.8,802.8 58.5,806.9 61.1,804.3 63.8,807.1 66.5,801.6 69.2,804.8 71.8,810.7 74.5,809.3 77.2,803.8 79.9,802.8 82.5,804.8 85.2,801.6 87.9,803.3 90.6,805.4 93.2,798.8 95.9,799.7 98.6,799.8 101.3,805.7 103.9,806.0 106.6,811.2 109.3,803.7 112.0,801.7 114.6,791.5 117.3,782.0 120.0,768.3 122.7,778.6 125.3,789.8 128.0,802.5 130.7,801.5 133.4,802.6 136.0,802.4 138.7,806.9 141.4,803.0 144.0,801.0 146.7,800.0 149.4,805.9 152.1,806.2 154.7,803.4 157.4,801.9 160.1,802.0 162.8,801.4 165.4,804.6 168.1,804.5 170.8,799.6 173.5,802.9 176.1,801.0 178.8,798.8 181.5,798.5 184.2,804.0 186.8,801.9 189.5,801.5 192.2,800.9 194.9,798.7 197.5,802.4 200.2,803.8 202.9,806.2 205.6,802.2 208.2,801.9 210.9,802.5 213.6,800.2 216.2,805.9 218.9,800.2 221.6,800.1 224.3,798.4 226.9,800.7 229.6,804.9 232.3,804.1 235.0,806.2 237.6,800.3 240.3,804.3 243.0,799.8 245.7,798.3 248.3,801.3 251.0,803.6 253.7,803.4 256.4,800.2 259.0,799.9 261.7,802.5 264.4,800.0 267.1,804.4 269.7,806.1 272.4,802.3 275.1,800.3 277.8,805.2 280.4,804.8 283.1,800.7 285.8,802.3 288.5,801.2 291.1,805.4 293.8,805.3 296.5,804.3 299.1,799.2 301.8,803.0 304.5,806.0 307.2,803.9 309.8,800.6 312.5,798.4 315.2,800.9 317.9,799.3 320.5,804.8 323.2,805.3 325.9,806.8 328.6,803.5 331.2,803.4 333.9,802.8 336.6,803.6 339.3,807.5 341.9,803.7 344.6,804.0 347.3,804.5 350.0,809.6 352.6,811.3 355.3,801.5 358.0,801.0 360.7,804.1 363.3,800.7 366.0,805.3 368.7,796.6 371.4,807.5 374.0,807.8 376.7,801.1 379.4,801.1 382.0,805.2 384.7,797.8 387.4,801.0 390.1,801.9 392.7,806.3 395.4,797.0 398.1,803.5 400.8,803.6 403.4,806.9 406.1,799.0 408.8,802.7 411.5,808.4 414.1,801.6 416.8,805.0 419.5,799.9 422.2,802.0 424.8,803.7 427.5,799.2 430.2,791.0 432.9,790.5 435.5,804.1 438.2,808.2 440.9,807.0 443.6,801.8 446.2,799.8 448.9,798.6 451.6,803.7 454.3,797.8 456.9,778.2 459.6,776.0 462.3,783.3 464.9,801.6 467.6,810.0 470.3,797.1 473.0,801.8 475.6,799.5 478.3,797.1 481.0,804.3 483.7,796.0 486.3,802.5 489.0,804.9 491.7,804.8 494.4,797.8 497.0,804.5 499.7,800.4 502.4,799.1 505.1,800.3 507.7,806.4 510.4,798.4 513.1,801.4 515.8,808.0 518.4,801.0 521.1,805.4 523.8,803.1 526.5,799.8 529.1,791.4 531.8,810.1 534.5,806.6 537.1,802.2 539.8,815.4 542.5,807.1 545.2,811.0 547.8,810.3 550.5,792.6 553.2,793.6 555.9,795.1 558.5,796.7 561.2,805.1 563.9,804.1 566.6,816.0 569.2,805.9 571.9,811.0 574.6,809.5 577.3,802.1 579.9,824.0 582.6,808.8 585.3,822.3 588.0,831.2 590.6,823.5 593.3,821.4 596.0,804.4 598.7,832.7 601.3,831.2 604.0,831.0 606.7,821.3 609.4,844.9 612.0,838.7 614.7,853.2 617.4,858.0 620.0,834.7 622.7,836.6 625.4,836.2 628.1,850.5 630.7,850.0 633.4,838.7 636.1,850.0 638.8,766.8 641.4,682.0 644.1,766.4 646.8,840.3 649.5,847.2 652.1,851.2 654.8,850.2 657.5,835.3 660.2,828.0 662.8,791.5 665.5,785.3 668.2,823.5 670.9,834.8 673.5,843.7 676.2,847.2 678.9,852.7 681.6,849.1 684.2,852.4 686.9,841.6 689.6,848.8 692.3,846.0 694.9,848.7" fill="none" stroke="#a3a3a3" stroke-width="0.85" stroke-linejoin="round"/>
<polyline points="55.8,800.6 58.5,802.3 61.1,806.6 63.8,796.8 66.5,810.0 69.2,803.5 71.8,805.0 74.5,804.7 77.2,801.1 79.9,801.0 82.5,802.6 85.2,799.4 87.9,801.9 90.6,801.6 93.2,804.2 95.9,798.8 98.6,806.4 101.3,805.5 103.9,809.8 106.6,805.7 109.3,795.7 112.0,795.6 114.6,804.4 117.3,803.5 120.0,806.0 122.7,794.2 125.3,800.6 128.0,800.0 130.7,801.8 133.4,801.3 136.0,796.0 138.7,797.3 141.4,796.1 144.0,802.0 146.7,798.7 149.4,801.8 152.1,801.1 154.7,806.8 157.4,799.9 160.1,800.6 162.8,807.3 165.4,804.0 168.1,803.7 170.8,799.2 173.5,799.1 176.1,802.9 178.8,803.5 181.5,803.6 184.2,802.8 186.8,800.5 189.5,801.8 192.2,798.1 194.9,804.5 197.5,798.4 200.2,798.4 202.9,794.3 205.6,788.6 208.2,802.8 210.9,802.3 213.6,801.5 216.2,802.6 218.9,801.7 221.6,798.6 224.3,797.8 226.9,805.4 229.6,805.4 232.3,805.9 235.0,804.6 237.6,801.8 240.3,805.2 243.0,797.4 245.7,802.9 248.3,801.0 251.0,797.5 253.7,798.5 256.4,803.7 259.0,803.5 261.7,804.9 264.4,806.4 267.1,798.5 269.7,801.7 272.4,806.3 275.1,802.6 277.8,801.1 280.4,802.4 283.1,797.7 285.8,803.7 288.5,800.5 291.1,802.3 293.8,803.5 296.5,804.8 299.1,805.0 301.8,807.3 304.5,804.9 307.2,799.8 309.8,798.5 312.5,795.1 315.2,803.2 317.9,805.5 320.5,803.1 323.2,804.1 325.9,805.8 328.6,804.0 331.2,801.6 333.9,801.3 336.6,801.0 339.3,800.9 341.9,799.4 344.6,800.6 347.3,803.7 350.0,807.7 352.6,804.5 355.3,803.0 358.0,814.0 360.7,805.3 363.3,805.1 366.0,793.2 368.7,804.7 371.4,804.7 374.0,798.0 376.7,802.7 379.4,804.3 382.0,797.5 384.7,794.7 387.4,805.4 390.1,799.9 392.7,801.7 395.4,804.7 398.1,795.7 400.8,792.8 403.4,800.0 406.1,799.8 408.8,808.0 411.5,806.5 414.1,804.5 416.8,807.6 419.5,799.3 422.2,800.0 424.8,797.4 427.5,799.9 430.2,806.4 432.9,800.2 435.5,795.9 438.2,796.1 440.9,803.9 443.6,802.8 446.2,802.0 448.9,810.8 451.6,802.5 454.3,799.6 456.9,797.4 459.6,802.7 462.3,809.7 464.9,803.9 467.6,800.7 470.3,806.3 473.0,805.8 475.6,798.0 478.3,787.8 481.0,776.1 483.7,777.0 486.3,786.7 489.0,789.1 491.7,798.0 494.4,804.9 497.0,808.9 499.7,803.8 502.4,806.3 505.1,802.7 507.7,803.7 510.4,804.5 513.1,806.0 515.8,803.6 518.4,810.6 521.1,803.3 523.8,806.1 526.5,806.9 529.1,805.0 531.8,783.1 534.5,793.0 537.1,795.5 539.8,804.7 542.5,797.7 545.2,805.2 547.8,804.5 550.5,800.6 553.2,807.2 555.9,805.2 558.5,802.7 561.2,800.8 563.9,802.4 566.6,817.6 569.2,809.6 571.9,806.4 574.6,804.4 577.3,803.5 579.9,794.6 582.6,811.5 585.3,789.4 588.0,790.3 590.6,808.8 593.3,831.1 596.0,817.1 598.7,808.3 601.3,805.1 604.0,808.2 606.7,814.7 609.4,811.1 612.0,812.4 614.7,835.1 617.4,809.0 620.0,798.1 622.7,802.3 625.4,818.0 628.1,822.6 630.7,818.0 633.4,812.7 636.1,804.4 638.8,820.0 641.4,823.1 644.1,824.0 646.8,810.6 649.5,738.0 652.1,667.9 654.8,743.1 657.5,821.5 660.2,831.3 662.8,820.0 665.5,825.2 668.2,829.5 670.9,816.6 673.5,813.7 676.2,813.4 678.9,807.7 681.6,827.3 684.2,830.2 686.9,826.6 689.6,820.3 692.3,816.3 694.9,812.7" fill="none" stroke="#a3a3a3" stroke-width="0.85" stroke-linejoin="round"/>
<polyline points="55.8,819.4 58.5,803.2 61.1,827.1 63.8,810.4 66.5,790.3 69.2,808.5 71.8,799.3 74.5,800.9 77.2,807.8 79.9,804.7 82.5,795.3 85.2,798.3 87.9,799.8 90.6,800.0 93.2,814.1 95.9,800.9 98.6,793.4 101.3,811.4 103.9,805.7 106.6,796.5 109.3,794.4 112.0,805.6 114.6,804.7 117.3,797.1 120.0,799.5 122.7,804.7 125.3,802.7 128.0,801.4 130.7,803.0 133.4,796.9 136.0,811.9 138.7,802.4 141.4,803.7 144.0,815.3 146.7,802.8 149.4,806.1 152.1,791.8 154.7,789.9 157.4,804.2 160.1,800.4 162.8,800.9 165.4,794.6 168.1,797.3 170.8,800.5 173.5,808.9 176.1,808.1 178.8,808.1 181.5,800.3 184.2,799.0 186.8,803.3 189.5,809.2 192.2,812.0 194.9,810.3 197.5,801.2 200.2,805.9 202.9,807.2 205.6,805.1 208.2,803.5 210.9,808.3 213.6,810.8 216.2,794.1 218.9,799.0 221.6,808.8 224.3,796.9 226.9,802.8 229.6,795.4 232.3,815.4 235.0,797.9 237.6,796.6 240.3,799.8 243.0,796.2 245.7,812.6 248.3,794.3 251.0,773.7 253.7,784.6 256.4,799.1 259.0,795.6 261.7,800.7 264.4,797.2 267.1,804.9 269.7,796.0 272.4,785.7 275.1,797.1 277.8,795.4 280.4,800.2 283.1,802.4 285.8,792.6 288.5,803.1 291.1,801.2 293.8,811.9 296.5,808.3 299.1,806.4 301.8,809.9 304.5,799.8 307.2,807.0 309.8,805.4 312.5,801.1 315.2,796.8 317.9,797.5 320.5,791.2 323.2,807.2 325.9,800.0 328.6,805.4 331.2,793.2 333.9,791.8 336.6,792.4 339.3,807.3 341.9,810.8 344.6,816.8 347.3,813.6 350.0,784.8 352.6,798.0 355.3,816.1 358.0,817.9 360.7,818.1 363.3,820.2 366.0,817.9 368.7,809.1 371.4,819.7 374.0,818.2 376.7,828.2 379.4,816.1 382.0,810.8 384.7,800.7 387.4,810.0 390.1,810.8 392.7,814.8 395.4,813.1 398.1,823.6 400.8,814.4 403.4,796.8 406.1,810.3 408.8,820.7 411.5,802.1 414.1,814.9 416.8,823.5 419.5,807.8 422.2,807.2 424.8,803.5 427.5,793.0 430.2,795.6 432.9,793.4 435.5,798.6 438.2,797.8 440.9,802.6 443.6,815.6 446.2,792.4 448.9,778.6 451.6,785.6 454.3,782.8 456.9,788.7 459.6,799.6 462.3,823.6 464.9,822.9 467.6,806.9 470.3,803.6 473.0,803.7 475.6,791.4 478.3,798.6 481.0,806.6 483.7,812.3 486.3,808.9 489.0,798.9 491.7,799.4 494.4,809.7 497.0,800.6 499.7,790.0 502.4,793.4 505.1,788.4 507.7,795.0 510.4,791.1 513.1,771.9 515.8,811.2 518.4,814.8 521.1,795.0 523.8,800.9 526.5,799.3 529.1,785.6 531.8,806.6 534.5,805.5 537.1,804.4 539.8,775.7 542.5,813.2 545.2,817.5 547.8,823.6 550.5,803.0 553.2,795.9 555.9,808.5 558.5,814.6 561.2,796.2 563.9,789.1 566.6,778.2 569.2,799.6 571.9,842.6 574.6,810.7 577.3,844.5 579.9,796.8 582.6,839.5 585.3,837.3 588.0,797.6 590.6,800.5 593.3,754.7 596.0,758.0 598.7,790.3 601.3,799.2 604.0,825.8 606.7,788.5 609.4,833.7 612.0,773.7 614.7,822.9 617.4,744.5 620.0,828.0 622.7,794.6 625.4,817.9 628.1,787.2 630.7,783.9 633.4,816.0 636.1,805.4 638.8,801.1 641.4,823.2 644.1,772.4 646.8,799.8 649.5,798.4 652.1,805.1 654.8,769.1 657.5,750.6 660.2,655.5 662.8,709.8 665.5,821.2 668.2,787.9 670.9,816.2 673.5,800.5 676.2,813.7 678.9,839.6 681.6,843.2 684.2,816.9 686.9,817.6 689.6,809.6 692.3,805.3 694.9,793.4" fill="none" stroke="#a3a3a3" stroke-width="0.85" stroke-linejoin="round"/>
<polyline points="55.8,808.1 58.5,801.9 61.1,818.5 63.8,801.6 66.5,811.7 69.2,798.1 71.8,806.5 74.5,800.6 77.2,794.0 79.9,801.9 82.5,797.8 85.2,804.8 87.9,802.9 90.6,797.7 93.2,804.5 95.9,813.3 98.6,814.8 101.3,815.2 103.9,797.1 106.6,799.7 109.3,792.7 112.0,802.4 114.6,811.6 117.3,810.0 120.0,806.7 122.7,793.6 125.3,806.7 128.0,795.5 130.7,799.8 133.4,804.8 136.0,802.9 138.7,805.8 141.4,813.4 144.0,801.0 146.7,797.4 149.4,800.9 152.1,802.1 154.7,800.6 157.4,802.3 160.1,801.7 162.8,796.8 165.4,791.2 168.1,805.1 170.8,791.8 173.5,800.7 176.1,801.9 178.8,797.9 181.5,804.2 184.2,802.3 186.8,806.8 189.5,805.9 192.2,808.0 194.9,800.8 197.5,808.4 200.2,800.8 202.9,800.1 205.6,808.5 208.2,796.8 210.9,789.7 213.6,808.1 216.2,813.4 218.9,800.1 221.6,796.6 224.3,797.8 226.9,807.8 229.6,803.1 232.3,817.3 235.0,807.9 237.6,800.2 240.3,805.7 243.0,795.9 245.7,803.0 248.3,804.7 251.0,805.5 253.7,801.5 256.4,800.7 259.0,804.1 261.7,804.5 264.4,794.8 267.1,793.5 269.7,795.4 272.4,805.0 275.1,804.2 277.8,806.2 280.4,806.1 283.1,801.9 285.8,797.8 288.5,808.3 291.1,811.7 293.8,804.0 296.5,796.3 299.1,802.2 301.8,798.7 304.5,796.4 307.2,798.3 309.8,798.4 312.5,804.5 315.2,803.6 317.9,797.6 320.5,796.1 323.2,806.6 325.9,803.6 328.6,799.8 331.2,803.3 333.9,804.2 336.6,812.3 339.3,807.2 341.9,804.6 344.6,798.7 347.3,803.4 350.0,798.5 352.6,791.3 355.3,786.1 358.0,792.5 360.7,809.2 363.3,805.9 366.0,793.0 368.7,793.2 371.4,807.3 374.0,811.4 376.7,795.7 379.4,809.8 382.0,798.3 384.7,795.8 387.4,796.4 390.1,796.5 392.7,792.3 395.4,794.8 398.1,805.6 400.8,801.5 403.4,801.1 406.1,794.1 408.8,801.9 411.5,800.4 414.1,803.8 416.8,800.6 419.5,795.8 422.2,799.3 424.8,791.1 427.5,807.5 430.2,806.0 432.9,794.5 435.5,793.8 438.2,803.6 440.9,815.7 443.6,816.8 446.2,808.1 448.9,810.3 451.6,803.6 454.3,796.2 456.9,784.5 459.6,801.5 462.3,802.5 464.9,804.9 467.6,800.4 470.3,806.9 473.0,808.2 475.6,814.5 478.3,809.0 481.0,783.3 483.7,792.7 486.3,803.7 489.0,801.7 491.7,808.2 494.4,802.1 497.0,812.9 499.7,811.4 502.4,796.6 505.1,806.1 507.7,810.9 510.4,801.6 513.1,788.4 515.8,808.4 518.4,789.9 521.1,797.1 523.8,790.4 526.5,808.9 529.1,812.1 531.8,792.3 534.5,810.3 537.1,814.4 539.8,812.9 542.5,818.0 545.2,829.7 547.8,795.8 550.5,791.3 553.2,816.8 555.9,815.4 558.5,806.8 561.2,799.2 563.9,806.6 566.6,799.5 569.2,804.5 571.9,789.4 574.6,798.4 577.3,810.4 579.9,792.6 582.6,804.9 585.3,798.5 588.0,784.3 590.6,794.6 593.3,793.7 596.0,806.7 598.7,821.3 601.3,833.8 604.0,813.2 606.7,807.2 609.4,781.3 612.0,792.7 614.7,805.8 617.4,817.3 620.0,805.8 622.7,801.6 625.4,798.1 628.1,794.9 630.7,794.1 633.4,804.1 636.1,793.6 638.8,783.0 641.4,802.0 644.1,810.7 646.8,785.5 649.5,793.7 652.1,803.9 654.8,808.5 657.5,806.0 660.2,803.8 662.8,792.2 665.5,749.5 668.2,690.5 670.9,741.3 673.5,805.8 676.2,795.4 678.9,805.2 681.6,803.5 684.2,797.8 686.9,787.9 689.6,787.5 692.3,795.2 694.9,790.2" fill="none" stroke="#a3a3a3" stroke-width="0.85" stroke-linejoin="round"/>
<polyline points="55.8,803.3 58.5,803.8 61.1,804.9 63.8,799.8 66.5,806.8 69.2,799.1 71.8,797.9 74.5,799.7 77.2,801.6 79.9,801.7 82.5,799.5 85.2,802.8 87.9,801.6 90.6,806.8 93.2,801.7 95.9,801.4 98.6,802.7 101.3,804.2 103.9,803.8 106.6,800.7 109.3,802.2 112.0,797.7 114.6,798.9 117.3,799.9 120.0,802.7 122.7,800.5 125.3,801.4 128.0,802.9 130.7,799.8 133.4,801.9 136.0,801.1 138.7,805.8 141.4,803.7 144.0,801.8 146.7,806.7 149.4,804.8 152.1,800.4 154.7,804.5 157.4,801.6 160.1,805.6 162.8,807.8 165.4,804.2 168.1,802.0 170.8,800.4 173.5,798.9 176.1,801.0 178.8,802.0 181.5,801.6 184.2,802.4 186.8,805.6 189.5,801.2 192.2,803.3 194.9,802.7 197.5,799.8 200.2,798.6 202.9,802.4 205.6,799.8 208.2,801.1 210.9,800.4 213.6,800.4 216.2,796.6 218.9,799.0 221.6,799.7 224.3,798.8 226.9,802.8 229.6,801.8 232.3,803.3 235.0,802.5 237.6,799.7 240.3,801.4 243.0,801.1 245.7,803.5 248.3,803.2 251.0,808.2 253.7,802.5 256.4,803.1 259.0,797.1 261.7,801.3 264.4,797.0 267.1,801.6 269.7,801.6 272.4,802.5 275.1,803.1 277.8,803.7 280.4,802.6 283.1,799.1 285.8,800.2 288.5,798.8 291.1,801.5 293.8,801.0 296.5,803.4 299.1,802.9 301.8,801.6 304.5,801.6 307.2,801.4 309.8,802.5 312.5,802.1 315.2,798.2 317.9,799.5 320.5,798.2 323.2,800.4 325.9,801.1 328.6,806.6 331.2,804.1 333.9,803.6 336.6,802.4 339.3,802.1 341.9,806.9 344.6,804.0 347.3,803.6 350.0,803.3 352.6,802.8 355.3,800.8 358.0,801.9 360.7,803.4 363.3,799.3 366.0,802.8 368.7,809.4 371.4,812.5 374.0,811.4 376.7,807.0 379.4,801.5 382.0,802.5 384.7,801.4 387.4,800.2 390.1,803.4 392.7,803.7 395.4,802.4 398.1,808.2 400.8,804.2 403.4,809.7 406.1,794.5 408.8,780.8 411.5,792.3 414.1,799.8 416.8,803.3 419.5,803.0 422.2,803.1 424.8,798.6 427.5,804.3 430.2,798.2 432.9,800.9 435.5,803.3 438.2,818.1 440.9,801.9 443.6,802.3 446.2,801.1 448.9,804.4 451.6,805.7 454.3,801.6 456.9,802.7 459.6,794.7 462.3,797.5 464.9,797.8 467.6,804.3 470.3,799.7 473.0,800.6 475.6,796.7 478.3,800.2 481.0,802.3 483.7,805.8 486.3,808.4 489.0,801.9 491.7,807.8 494.4,798.7 497.0,794.6 499.7,799.9 502.4,798.1 505.1,800.2 507.7,807.8 510.4,806.4 513.1,801.6 515.8,806.6 518.4,800.0 521.1,806.0 523.8,798.1 526.5,798.5 529.1,806.0 531.8,812.8 534.5,811.5 537.1,808.3 539.8,806.2 542.5,805.2 545.2,805.8 547.8,801.7 550.5,802.7 553.2,805.8 555.9,803.1 558.5,804.7 561.2,800.7 563.9,804.8 566.6,801.0 569.2,801.2 571.9,799.1 574.6,800.6 577.3,800.4 579.9,811.3 582.6,810.3 585.3,797.8 588.0,794.3 590.6,794.1 593.3,806.4 596.0,808.1 598.7,802.2 601.3,803.2 604.0,795.5 606.7,798.2 609.4,795.0 612.0,796.2 614.7,798.0 617.4,792.8 620.0,794.6 622.7,801.1 625.4,800.0 628.1,799.3 630.7,795.1 633.4,798.4 636.1,798.8 638.8,794.0 641.4,799.8 644.1,804.6 646.8,806.0 649.5,813.8 652.1,808.3 654.8,800.5 657.5,796.3 660.2,794.6 662.8,795.9 665.5,794.8 668.2,796.2 670.9,733.8 673.5,673.6 676.2,736.2 678.9,791.4 681.6,800.5 684.2,800.7 686.9,790.6 689.6,793.9 692.3,798.6 694.9,805.9" fill="none" stroke="#a3a3a3" stroke-width="0.85" stroke-linejoin="round"/>
<polyline points="55.8,812.0 58.5,801.9 61.1,807.6 63.8,798.4 66.5,806.6 69.2,805.3 71.8,802.3 74.5,805.7 77.2,803.2 79.9,803.3 82.5,799.7 85.2,800.0 87.9,801.8 90.6,801.2 93.2,805.6 95.9,801.2 98.6,802.6 101.3,794.9 103.9,793.5 106.6,798.4 109.3,803.9 112.0,805.7 114.6,801.6 117.3,800.8 120.0,797.9 122.7,800.7 125.3,800.3 128.0,797.5 130.7,796.4 133.4,798.2 136.0,800.3 138.7,796.9 141.4,797.1 144.0,801.3 146.7,798.7 149.4,800.4 152.1,797.5 154.7,798.7 157.4,801.0 160.1,800.3 162.8,799.3 165.4,807.2 168.1,804.2 170.8,807.3 173.5,800.8 176.1,799.6 178.8,805.2 181.5,805.2 184.2,807.4 186.8,784.8 189.5,801.8 192.2,804.1 194.9,797.5 197.5,806.3 200.2,801.6 202.9,800.4 205.6,804.2 208.2,804.2 210.9,802.6 213.6,800.2 216.2,797.2 218.9,802.7 221.6,797.9 224.3,804.1 226.9,803.8 229.6,802.3 232.3,808.5 235.0,803.8 237.6,804.4 240.3,805.4 243.0,805.4 245.7,802.1 248.3,795.1 251.0,801.0 253.7,798.6 256.4,800.4 259.0,798.1 261.7,805.0 264.4,806.3 267.1,803.7 269.7,804.8 272.4,799.8 275.1,800.8 277.8,805.3 280.4,803.7 283.1,800.8 285.8,799.8 288.5,799.4 291.1,801.7 293.8,797.3 296.5,804.7 299.1,800.8 301.8,806.7 304.5,805.5 307.2,805.5 309.8,800.7 312.5,801.4 315.2,784.4 317.9,764.6 320.5,790.6 323.2,802.2 325.9,802.1 328.6,802.3 331.2,803.1 333.9,803.0 336.6,803.0 339.3,800.6 341.9,798.2 344.6,799.0 347.3,797.6 350.0,800.6 352.6,797.7 355.3,804.2 358.0,810.1 360.7,808.4 363.3,817.9 366.0,806.8 368.7,800.9 371.4,803.7 374.0,793.4 376.7,798.9 379.4,800.9 382.0,799.7 384.7,806.6 387.4,806.9 390.1,805.0 392.7,799.7 395.4,797.2 398.1,805.1 400.8,806.5 403.4,799.5 406.1,798.6 408.8,799.6 411.5,807.3 414.1,820.1 416.8,814.2 419.5,808.6 422.2,808.4 424.8,799.6 427.5,798.8 430.2,810.3 432.9,805.8 435.5,806.3 438.2,805.0 440.9,812.7 443.6,795.2 446.2,805.9 448.9,800.4 451.6,799.9 454.3,803.8 456.9,794.0 459.6,800.2 462.3,800.0 464.9,798.6 467.6,800.2 470.3,799.1 473.0,803.9 475.6,796.3 478.3,803.1 481.0,808.0 483.7,808.3 486.3,812.2 489.0,814.7 491.7,811.8 494.4,803.1 497.0,808.9 499.7,807.7 502.4,795.5 505.1,792.9 507.7,801.7 510.4,808.2 513.1,803.5 515.8,802.8 518.4,790.6 521.1,792.7 523.8,791.9 526.5,794.7 529.1,799.3 531.8,813.5 534.5,805.1 537.1,803.2 539.8,804.8 542.5,797.6 545.2,798.5 547.8,798.8 550.5,811.0 553.2,798.4 555.9,802.3 558.5,794.2 561.2,797.9 563.9,800.9 566.6,820.6 569.2,804.2 571.9,809.3 574.6,801.4 577.3,813.5 579.9,809.4 582.6,797.0 585.3,803.3 588.0,811.5 590.6,806.6 593.3,784.9 596.0,805.4 598.7,783.1 601.3,797.9 604.0,790.8 606.7,789.8 609.4,796.6 612.0,795.2 614.7,801.7 617.4,815.3 620.0,805.2 622.7,806.9 625.4,803.2 628.1,799.3 630.7,809.4 633.4,821.3 636.1,808.3 638.8,803.6 641.4,809.4 644.1,811.6 646.8,808.5 649.5,795.3 652.1,801.1 654.8,796.9 657.5,794.7 660.2,807.2 662.8,825.0 665.5,811.9 668.2,809.7 670.9,807.5 673.5,805.7 676.2,807.5 678.9,796.2 681.6,802.9 684.2,800.8 686.9,735.9 689.6,679.2 692.3,747.1 694.9,810.6" fill="none" stroke="#a3a3a3" stroke-width="0.85" stroke-linejoin="round"/>
<polyline points="55.8,801.5 58.5,797.4 61.1,802.4 63.8,803.1 66.5,806.4 69.2,797.6 71.8,797.4 74.5,808.0 77.2,802.5 79.9,802.6 82.5,803.3 85.2,799.5 87.9,807.0 90.6,803.5 93.2,801.3 95.9,799.1 98.6,795.7 101.3,796.7 103.9,796.9 106.6,801.6 109.3,808.6 112.0,808.2 114.6,800.8 117.3,803.8 120.0,802.1 122.7,801.7 125.3,800.7 128.0,801.3 130.7,800.3 133.4,799.6 136.0,800.2 138.7,799.2 141.4,796.7 144.0,798.7 146.7,800.0 149.4,799.3 152.1,799.5 154.7,806.1 157.4,802.5 160.1,805.6 162.8,804.2 165.4,799.8 168.1,802.2 170.8,801.4 173.5,801.1 176.1,803.8 178.8,799.4 181.5,805.9 184.2,805.2 186.8,804.9 189.5,803.1 192.2,800.7 194.9,802.4 197.5,800.4 200.2,805.3 202.9,798.3 205.6,800.2 208.2,803.3 210.9,804.5 213.6,800.4 216.2,800.6 218.9,800.9 221.6,785.1 224.3,772.4 226.9,788.3 229.6,801.6 232.3,807.3 235.0,800.4 237.6,802.1 240.3,801.0 243.0,800.2 245.7,803.0 248.3,801.9 251.0,803.8 253.7,805.1 256.4,805.6 259.0,799.7 261.7,806.3 264.4,804.4 267.1,800.9 269.7,802.7 272.4,798.5 275.1,803.5 277.8,803.0 280.4,805.0 283.1,800.6 285.8,801.3 288.5,799.4 291.1,802.6 293.8,801.7 296.5,800.1 299.1,802.5 301.8,802.1 304.5,798.5 307.2,801.0 309.8,801.5 312.5,800.9 315.2,802.0 317.9,804.3 320.5,802.2 323.2,804.0 325.9,802.3 328.6,804.7 331.2,808.9 333.9,804.6 336.6,801.7 339.3,798.1 341.9,798.2 344.6,801.0 347.3,807.1 350.0,801.0 352.6,808.3 355.3,802.9 358.0,792.8 360.7,794.4 363.3,799.6 366.0,796.1 368.7,803.6 371.4,804.0 374.0,807.6 376.7,803.8 379.4,804.0 382.0,810.6 384.7,800.6 387.4,799.7 390.1,803.5 392.7,805.6 395.4,801.6 398.1,784.7 400.8,811.6 403.4,805.6 406.1,804.6 408.8,798.0 411.5,801.0 414.1,803.0 416.8,806.6 419.5,805.8 422.2,803.4 424.8,799.8 427.5,808.1 430.2,799.4 432.9,802.0 435.5,805.7 438.2,806.1 440.9,809.7 443.6,799.5 446.2,796.2 448.9,801.1 451.6,800.7 454.3,800.7 456.9,798.8 459.6,800.0 462.3,799.9 464.9,800.3 467.6,805.5 470.3,806.2 473.0,800.1 475.6,803.1 478.3,796.2 481.0,802.2 483.7,799.5 486.3,805.8 489.0,803.5 491.7,801.8 494.4,808.2 497.0,811.3 499.7,797.0 502.4,801.0 505.1,798.6 507.7,807.3 510.4,804.3 513.1,810.4 515.8,806.6 518.4,790.7 521.1,799.4 523.8,800.9 526.5,810.8 529.1,799.8 531.8,797.7 534.5,810.3 537.1,802.7 539.8,789.2 542.5,796.3 545.2,794.9 547.8,807.4 550.5,800.8 553.2,806.2 555.9,808.2 558.5,803.1 561.2,805.2 563.9,796.8 566.6,813.1 569.2,811.4 571.9,812.9 574.6,818.1 577.3,817.5 579.9,811.8 582.6,820.5 585.3,820.6 588.0,807.6 590.6,808.7 593.3,812.7 596.0,823.1 598.7,819.3 601.3,817.5 604.0,819.3 606.7,818.7 609.4,823.0 612.0,827.4 614.7,838.9 617.4,824.4 620.0,818.0 622.7,813.5 625.4,816.1 628.1,822.7 630.7,825.5 633.4,826.9 636.1,826.8 638.8,825.6 641.4,832.1 644.1,825.4 646.8,813.2 649.5,821.3 652.1,816.2 654.8,827.5 657.5,828.5 660.2,829.3 662.8,818.4 665.5,817.3 668.2,824.7 670.9,824.8 673.5,820.2 676.2,827.2 678.9,819.2 681.6,830.4 684.2,824.4 686.9,825.9 689.6,820.3 692.3,745.4 694.9,670.8" fill="none" stroke="#a3a3a3" stroke-width="0.85" stroke-linejoin="round"/>
<polyline points="55.8,812.2 58.5,806.4 61.1,805.7 63.8,800.1 66.5,807.7 69.2,805.2 71.8,812.6 74.5,804.7 77.2,800.5 79.9,798.9 82.5,795.3 85.2,794.2 87.9,790.2 90.6,799.3 93.2,800.2 95.9,806.3 98.6,802.4 101.3,804.8 103.9,802.2 106.6,802.2 109.3,798.0 112.0,797.6 114.6,795.8 117.3,795.2 120.0,801.8 122.7,804.4 125.3,798.8 128.0,800.9 130.7,794.9 133.4,802.6 136.0,801.6 138.7,801.2 141.4,797.4 144.0,806.3 146.7,805.6 149.4,800.8 152.1,801.3 154.7,811.3 157.4,807.3 160.1,816.1 162.8,804.2 165.4,804.4 168.1,802.2 170.8,803.2 173.5,804.0 176.1,801.1 178.8,806.4 181.5,800.9 184.2,799.5 186.8,802.7 189.5,807.0 192.2,804.5 194.9,804.8 197.5,807.6 200.2,802.9 202.9,799.1 205.6,804.1 208.2,803.9 210.9,803.2 213.6,799.0 216.2,803.2 218.9,799.4 221.6,794.5 224.3,794.7 226.9,807.1 229.6,805.0 232.3,803.9 235.0,811.1 237.6,803.3 240.3,806.9 243.0,797.9 245.7,802.4 248.3,804.8 251.0,801.6 253.7,798.0 256.4,805.1 259.0,803.7 261.7,802.5 264.4,810.5 267.1,802.8 269.7,801.9 272.4,799.8 275.1,803.2 277.8,803.1 280.4,799.3 283.1,800.5 285.8,803.4 288.5,803.2 291.1,804.3 293.8,802.9 296.5,813.8 299.1,799.6 301.8,799.5 304.5,804.2 307.2,796.5 309.8,802.5 312.5,798.7 315.2,804.9 317.9,808.0 320.5,805.4 323.2,803.7 325.9,808.9 328.6,800.5 331.2,799.7 333.9,799.3 336.6,803.4 339.3,807.3 341.9,806.3 344.6,804.0 347.3,807.8 350.0,805.6 352.6,803.0 355.3,782.2 358.0,804.4 360.7,806.5 363.3,805.8 366.0,803.2 368.7,807.1 371.4,800.9 374.0,798.9 376.7,799.9 379.4,805.3 382.0,800.4 384.7,797.9 387.4,803.0 390.1,798.7 392.7,798.5 395.4,806.0 398.1,796.2 400.8,800.0 403.4,795.8 406.1,808.8 408.8,798.7 411.5,802.3 414.1,793.2 416.8,806.4 419.5,803.4 422.2,805.3 424.8,807.7 427.5,811.8 430.2,802.9 432.9,797.9 435.5,800.2 438.2,797.2 440.9,797.3 443.6,794.1 446.2,795.4 448.9,796.6 451.6,796.2 454.3,801.6 456.9,801.3 459.6,803.3 462.3,799.5 464.9,805.0 467.6,800.7 470.3,804.8 473.0,794.0 475.6,806.2 478.3,810.8 481.0,800.0 483.7,791.9 486.3,799.8 489.0,803.0 491.7,800.4 494.4,802.9 497.0,794.8 499.7,792.9 502.4,797.7 505.1,801.2 507.7,804.1 510.4,809.1 513.1,800.5 515.8,801.6 518.4,804.6 521.1,792.7 523.8,794.1 526.5,784.4 529.1,774.6 531.8,779.9 534.5,803.7 537.1,796.0 539.8,799.0 542.5,804.9 545.2,800.5 547.8,810.3 550.5,800.8 553.2,802.1 555.9,805.6 558.5,797.7 561.2,807.6 563.9,801.8 566.6,798.9 569.2,816.0 571.9,811.2 574.6,813.2 577.3,811.1 579.9,803.8 582.6,805.6 585.3,781.6 588.0,776.5 590.6,771.9 593.3,778.9 596.0,761.0 598.7,770.0 601.3,768.4 604.0,768.2 606.7,754.6 609.4,755.8 612.0,783.5 614.7,740.7 617.4,701.8 620.0,732.2 622.7,769.1 625.4,777.8 628.1,773.5 630.7,764.0 633.4,757.4 636.1,765.4 638.8,769.4 641.4,778.4 644.1,785.5 646.8,783.2 649.5,783.8 652.1,788.0 654.8,783.4 657.5,770.1 660.2,775.5 662.8,762.8 665.5,758.8 668.2,771.3 670.9,787.7 673.5,761.8 676.2,768.2 678.9,772.5 681.6,767.3 684.2,767.9 686.9,798.1 689.6,803.5 692.3,791.0 694.9,791.2" fill="none" stroke="#a3a3a3" stroke-width="0.85" stroke-linejoin="round"/>
<polyline points="55.8,810.9 58.5,808.8 61.1,802.4 63.8,799.7 66.5,795.9 69.2,792.4 71.8,800.7 74.5,805.4 77.2,806.0 79.9,797.4 82.5,803.0 85.2,800.8 87.9,803.7 90.6,797.7 93.2,807.8 95.9,807.8 98.6,810.4 101.3,802.6 103.9,805.1 106.6,802.1 109.3,800.9 112.0,801.9 114.6,807.1 117.3,805.3 120.0,804.3 122.7,802.9 125.3,803.3 128.0,803.3 130.7,803.9 133.4,804.0 136.0,807.2 138.7,802.3 141.4,801.3 144.0,801.2 146.7,802.2 149.4,806.4 152.1,802.8 154.7,803.2 157.4,803.6 160.1,802.7 162.8,805.6 165.4,805.2 168.1,801.4 170.8,801.6 173.5,800.5 176.1,802.3 178.8,806.0 181.5,801.4 184.2,806.5 186.8,803.3 189.5,798.5 192.2,798.3 194.9,806.7 197.5,799.0 200.2,805.9 202.9,800.8 205.6,800.5 208.2,801.7 210.9,797.8 213.6,800.8 216.2,802.3 218.9,797.2 221.6,803.1 224.3,801.3 226.9,801.7 229.6,801.7 232.3,802.7 235.0,803.3 237.6,801.1 240.3,798.5 243.0,803.0 245.7,803.1 248.3,803.9 251.0,805.3 253.7,806.0 256.4,803.4 259.0,799.3 261.7,801.9 264.4,803.8 267.1,803.6 269.7,800.1 272.4,797.6 275.1,791.5 277.8,783.1 280.4,797.1 283.1,800.2 285.8,802.3 288.5,802.9 291.1,800.2 293.8,803.8 296.5,800.2 299.1,799.5 301.8,798.8 304.5,802.2 307.2,802.8 309.8,805.4 312.5,802.6 315.2,794.0 317.9,800.4 320.5,799.2 323.2,799.5 325.9,802.2 328.6,803.4 331.2,781.6 333.9,800.8 336.6,806.4 339.3,802.0 341.9,799.3 344.6,802.3 347.3,802.8 350.0,807.4 352.6,805.7 355.3,802.2 358.0,803.0 360.7,800.6 363.3,790.7 366.0,788.9 368.7,792.4 371.4,794.6 374.0,797.8 376.7,801.1 379.4,801.2 382.0,799.4 384.7,803.6 387.4,801.1 390.1,802.7 392.7,802.3 395.4,797.9 398.1,805.7 400.8,802.1 403.4,801.8 406.1,803.8 408.8,801.3 411.5,798.0 414.1,801.3 416.8,799.5 419.5,801.9 422.2,804.7 424.8,805.0 427.5,795.9 430.2,787.5 432.9,781.2 435.5,782.3 438.2,792.3 440.9,799.6 443.6,802.7 446.2,799.3 448.9,806.0 451.6,801.7 454.3,802.4 456.9,801.1 459.6,801.3 462.3,798.8 464.9,804.7 467.6,802.9 470.3,798.0 473.0,801.2 475.6,809.3 478.3,803.2 481.0,810.7 483.7,806.7 486.3,804.1 489.0,809.2 491.7,806.0 494.4,802.4 497.0,800.2 499.7,802.4 502.4,803.0 505.1,797.9 507.7,804.0 510.4,798.9 513.1,798.3 515.8,800.7 518.4,798.6 521.1,806.3 523.8,801.8 526.5,802.0 529.1,808.4 531.8,802.4 534.5,799.3 537.1,803.7 539.8,802.5 542.5,802.0 545.2,801.6 547.8,802.1 550.5,805.0 553.2,802.1 555.9,808.4 558.5,803.3 561.2,797.4 563.9,798.3 566.6,820.4 569.2,816.6 571.9,810.3 574.6,801.1 577.3,746.4 579.9,792.7 582.6,809.5 585.3,803.8 588.0,815.7 590.6,792.0 593.3,801.9 596.0,802.8 598.7,830.6 601.3,839.7 604.0,802.1 606.7,832.7 609.4,832.7 612.0,826.2 614.7,836.5 617.4,787.9 620.0,796.6 622.7,827.2 625.4,831.6 628.1,825.2 630.7,834.2 633.4,829.1 636.1,810.6 638.8,815.9 641.4,821.0 644.1,818.5 646.8,830.9 649.5,835.1 652.1,799.7 654.8,824.7 657.5,806.6 660.2,814.9 662.8,790.7 665.5,763.4 668.2,799.6 670.9,783.2 673.5,810.7 676.2,827.0 678.9,818.5 681.6,813.0 684.2,781.1 686.9,810.4 689.6,813.6 692.3,805.0 694.9,797.6" fill="none" stroke="#a3a3a3" stroke-width="0.85" stroke-linejoin="round"/>
<polyline points="55.8,804.2 58.5,811.5 61.1,799.1 63.8,764.5 66.5,799.3 69.2,802.7 71.8,814.3 74.5,802.3 77.2,797.4 79.9,793.5 82.5,793.5 85.2,800.2 87.9,812.3 90.6,800.4 93.2,824.8 95.9,800.8 98.6,810.0 101.3,798.7 103.9,800.9 106.6,811.4 109.3,802.2 112.0,815.0 114.6,818.4 117.3,795.9 120.0,809.4 122.7,802.3 125.3,793.5 128.0,815.5 130.7,814.6 133.4,803.3 136.0,819.1 138.7,801.3 141.4,812.1 144.0,818.2 146.7,811.9 149.4,821.1 152.1,797.8 154.7,806.8 157.4,805.4 160.1,801.8 162.8,808.4 165.4,820.2 168.1,812.0 170.8,805.7 173.5,804.7 176.1,804.1 178.8,806.4 181.5,821.6 184.2,823.9 186.8,798.4 189.5,802.7 192.2,802.1 194.9,800.5 197.5,803.6 200.2,808.8 202.9,798.3 205.6,791.3 208.2,817.7 210.9,813.9 213.6,812.6 216.2,811.0 218.9,793.2 221.6,810.9 224.3,805.7 226.9,792.4 229.6,798.2 232.3,797.9 235.0,807.1 237.6,816.3 240.3,790.0 243.0,798.6 245.7,791.9 248.3,802.4 251.0,790.4 253.7,787.5 256.4,793.4 259.0,810.4 261.7,797.3 264.4,802.9 267.1,806.0 269.7,807.9 272.4,800.6 275.1,800.2 277.8,793.4 280.4,829.2 283.1,805.8 285.8,798.7 288.5,789.3 291.1,791.2 293.8,794.6 296.5,812.0 299.1,799.7 301.8,792.2 304.5,785.0 307.2,784.9 309.8,795.1 312.5,807.0 315.2,798.3 317.9,780.4 320.5,780.5 323.2,793.4 325.9,798.9 328.6,802.0 331.2,794.0 333.9,786.5 336.6,807.1 339.3,808.1 341.9,813.7 344.6,801.1 347.3,808.3 350.0,804.0 352.6,803.2 355.3,801.2 358.0,802.5 360.7,816.7 363.3,806.7 366.0,787.7 368.7,804.6 371.4,803.6 374.0,808.0 376.7,813.2 379.4,822.7 382.0,796.9 384.7,793.2 387.4,805.9 390.1,804.0 392.7,820.8 395.4,794.7 398.1,776.1 400.8,803.4 403.4,799.3 406.1,806.8 408.8,794.0 411.5,810.9 414.1,793.5 416.8,801.6 419.5,785.2 422.2,808.3 424.8,782.7 427.5,794.8 430.2,804.8 432.9,814.1 435.5,797.7 438.2,802.9 440.9,798.3 443.6,811.0 446.2,809.3 448.9,811.5 451.6,799.9 454.3,805.2 456.9,809.8 459.6,809.7 462.3,778.9 464.9,790.8 467.6,801.2 470.3,821.3 473.0,787.5 475.6,767.6 478.3,786.0 481.0,801.1 483.7,777.6 486.3,768.3 489.0,784.9 491.7,811.2 494.4,789.5 497.0,807.8 499.7,779.8 502.4,801.1 505.1,786.9 507.7,812.0 510.4,784.9 513.1,794.6 515.8,804.4 518.4,824.8 521.1,847.6 523.8,830.9 526.5,815.2 529.1,789.3 531.8,801.3 534.5,810.2 537.1,786.6 539.8,820.6 542.5,825.5 545.2,826.4 547.8,812.5 550.5,820.2 553.2,778.4 555.9,790.3 558.5,782.0 561.2,806.2 563.9,812.9 566.6,799.6 569.2,778.5 571.9,783.2 574.6,797.6 577.3,790.9 579.9,770.4 582.6,780.9 585.3,784.5 588.0,827.5 590.6,830.6 593.3,771.2 596.0,748.4 598.7,805.5 601.3,746.4 604.0,821.8 606.7,811.1 609.4,836.1 612.0,843.4 614.7,865.0 617.4,826.0 620.0,855.5 622.7,867.5 625.4,870.2 628.1,835.5 630.7,811.7 633.4,844.1 636.1,784.5 638.8,805.7 641.4,834.1 644.1,832.4 646.8,834.1 649.5,824.8 652.1,839.5 654.8,837.8 657.5,783.4 660.2,815.3 662.8,840.0 665.5,838.0 668.2,783.5 670.9,793.6 673.5,764.1 676.2,857.0 678.9,813.8 681.6,872.5 684.2,845.4 686.9,864.5 689.6,817.9 692.3,796.3 694.9,845.0" fill="none" stroke="#a3a3a3" stroke-width="0.85" stroke-linejoin="round"/>
<polyline points="55.8,788.1 58.5,788.2 61.1,804.6 63.8,795.3 66.5,804.6 69.2,810.7 71.8,803.4 74.5,804.2 77.2,804.4 79.9,804.9 82.5,806.1 85.2,805.3 87.9,805.9 90.6,810.2 93.2,804.4 95.9,792.8 98.6,805.2 101.3,808.4 103.9,801.6 106.6,789.4 109.3,801.9 112.0,793.0 114.6,797.7 117.3,799.9 120.0,804.4 122.7,799.5 125.3,797.3 128.0,804.6 130.7,808.0 133.4,806.0 136.0,806.6 138.7,798.6 141.4,800.4 144.0,800.0 146.7,799.9 149.4,798.3 152.1,800.3 154.7,799.6 157.4,809.3 160.1,803.9 162.8,803.0 165.4,803.2 168.1,805.9 170.8,799.5 173.5,790.8 176.1,802.6 178.8,800.8 181.5,799.8 184.2,800.6 186.8,799.3 189.5,805.3 192.2,803.6 194.9,795.6 197.5,794.7 200.2,795.6 202.9,798.2 205.6,801.3 208.2,798.0 210.9,802.2 213.6,796.8 216.2,790.2 218.9,795.3 221.6,804.0 224.3,804.4 226.9,802.0 229.6,800.0 232.3,801.5 235.0,797.3 237.6,802.0 240.3,805.1 243.0,801.5 245.7,805.7 248.3,806.7 251.0,802.3 253.7,805.2 256.4,801.8 259.0,804.5 261.7,802.9 264.4,798.2 267.1,802.6 269.7,801.7 272.4,802.5 275.1,798.7 277.8,794.3 280.4,800.0 283.1,796.0 285.8,799.8 288.5,804.8 291.1,800.7 293.8,804.0 296.5,794.7 299.1,807.3 301.8,800.0 304.5,797.7 307.2,798.5 309.8,804.2 312.5,800.9 315.2,800.4 317.9,798.0 320.5,794.5 323.2,804.3 325.9,807.0 328.6,804.0 331.2,804.0 333.9,806.5 336.6,802.4 339.3,801.6 341.9,801.0 344.6,792.3 347.3,802.0 350.0,809.0 352.6,806.9 355.3,805.7 358.0,807.5 360.7,808.7 363.3,814.8 366.0,810.0 368.7,801.7 371.4,803.6 374.0,798.1 376.7,791.4 379.4,794.6 382.0,791.3 384.7,801.5 387.4,806.7 390.1,792.6 392.7,796.5 395.4,792.9 398.1,798.0 400.8,777.4 403.4,799.4 406.1,806.4 408.8,799.0 411.5,810.6 414.1,799.6 416.8,808.9 419.5,807.2 422.2,798.3 424.8,808.0 427.5,805.7 430.2,793.8 432.9,793.0 435.5,781.8 438.2,781.0 440.9,802.6 443.6,804.6 446.2,792.6 448.9,794.3 451.6,797.8 454.3,805.9 456.9,805.5 459.6,798.7 462.3,792.1 464.9,810.5 467.6,810.3 470.3,800.3 473.0,809.9 475.6,800.8 478.3,817.4 481.0,814.6 483.7,822.1 486.3,810.0 489.0,809.9 491.7,803.6 494.4,817.0 497.0,797.3 499.7,793.3 502.4,793.4 505.1,795.3 507.7,812.8 510.4,797.7 513.1,815.7 515.8,819.0 518.4,817.5 521.1,802.3 523.8,802.5 526.5,813.4 529.1,815.0 531.8,814.2 534.5,811.7 537.1,807.0 539.8,823.8 542.5,808.2 545.2,795.5 547.8,807.4 550.5,804.6 553.2,798.5 555.9,814.9 558.5,810.8 561.2,817.3 563.9,798.0 566.6,800.7 569.2,795.3 571.9,775.2 574.6,797.2 577.3,814.0 579.9,796.6 582.6,784.6 585.3,772.2 588.0,785.0 590.6,790.8 593.3,809.6 596.0,778.3 598.7,793.8 601.3,782.9 604.0,802.7 606.7,836.1 609.4,826.8 612.0,795.6 614.7,774.6 617.4,770.6 620.0,778.2 622.7,806.0 625.4,808.4 628.1,800.2 630.7,790.2 633.4,769.2 636.1,804.7 638.8,787.3 641.4,776.5 644.1,787.0 646.8,790.7 649.5,789.9 652.1,776.3 654.8,818.9 657.5,827.2 660.2,816.6 662.8,790.9 665.5,778.2 668.2,782.5 670.9,776.8 673.5,800.8 676.2,802.5 678.9,782.5 681.6,792.8 684.2,781.6 686.9,798.3 689.6,808.3 692.3,806.0 694.9,780.8" fill="none" stroke="#a3a3a3" stroke-width="0.85" stroke-linejoin="round"/>
<polyline points="55.8,794.5 58.5,795.9 61.1,799.2 63.8,799.1 66.5,806.4 69.2,812.0 71.8,801.8 74.5,803.7 77.2,805.3 79.9,807.6 82.5,809.6 85.2,798.7 87.9,804.2 90.6,804.5 93.2,803.5 95.9,802.8 98.6,799.0 101.3,798.0 103.9,803.1 106.6,797.7 109.3,801.5 112.0,800.3 114.6,804.3 117.3,804.9 120.0,800.0 122.7,805.4 125.3,801.6 128.0,800.7 130.7,804.2 133.4,806.7 136.0,804.1 138.7,801.4 141.4,800.6 144.0,803.7 146.7,806.2 149.4,801.9 152.1,800.9 154.7,806.9 157.4,799.3 160.1,801.6 162.8,801.5 165.4,800.5 168.1,796.9 170.8,804.7 173.5,803.0 176.1,803.5 178.8,799.3 181.5,801.1 184.2,804.3 186.8,802.6 189.5,801.8 192.2,800.0 194.9,805.6 197.5,807.4 200.2,802.2 202.9,801.3 205.6,804.2 208.2,806.5 210.9,799.3 213.6,798.4 216.2,802.2 218.9,800.4 221.6,798.7 224.3,800.1 226.9,801.9 229.6,797.6 232.3,800.6 235.0,801.5 237.6,801.3 240.3,799.5 243.0,802.9 245.7,800.3 248.3,802.1 251.0,801.5 253.7,802.9 256.4,800.9 259.0,799.8 261.7,798.4 264.4,799.2 267.1,802.3 269.7,803.7 272.4,803.4 275.1,802.0 277.8,802.0 280.4,807.5 283.1,806.3 285.8,808.2 288.5,803.7 291.1,801.4 293.8,805.4 296.5,804.9 299.1,801.3 301.8,805.0 304.5,803.7 307.2,804.0 309.8,797.5 312.5,804.0 315.2,803.0 317.9,800.5 320.5,801.8 323.2,801.9 325.9,801.5 328.6,805.1 331.2,801.3 333.9,809.3 336.6,815.0 339.3,810.9 341.9,802.6 344.6,801.8 347.3,803.9 350.0,802.8 352.6,798.8 355.3,805.0 358.0,803.8 360.7,802.8 363.3,801.2 366.0,794.2 368.7,799.4 371.4,806.0 374.0,807.0 376.7,802.9 379.4,802.0 382.0,804.3 384.7,800.7 387.4,804.1 390.1,803.3 392.7,800.5 395.4,802.3 398.1,803.1 400.8,803.5 403.4,799.3 406.1,801.8 408.8,803.8 411.5,798.2 414.1,796.2 416.8,802.0 419.5,800.2 422.2,804.8 424.8,797.5 427.5,794.8 430.2,803.3 432.9,800.6 435.5,797.5 438.2,802.7 440.9,808.0 443.6,800.5 446.2,810.1 448.9,808.3 451.6,807.5 454.3,800.2 456.9,800.2 459.6,796.9 462.3,797.5 464.9,803.1 467.6,794.2 470.3,795.5 473.0,798.1 475.6,797.1 478.3,769.5 481.0,809.4 483.7,799.2 486.3,804.4 489.0,805.8 491.7,806.5 494.4,802.0 497.0,804.3 499.7,796.4 502.4,807.1 505.1,806.0 507.7,807.1 510.4,802.6 513.1,810.7 515.8,815.9 518.4,807.7 521.1,804.6 523.8,804.0 526.5,801.1 529.1,806.9 531.8,798.6 534.5,798.8 537.1,796.6 539.8,797.5 542.5,800.3 545.2,802.9 547.8,795.3 550.5,797.4 553.2,797.6 555.9,812.1 558.5,806.2 561.2,802.4 563.9,802.6 566.6,804.0 569.2,812.3 571.9,817.1 574.6,813.6 577.3,804.5 579.9,803.8 582.6,813.8 585.3,802.0 588.0,816.0 590.6,819.2 593.3,798.6 596.0,805.7 598.7,813.0 601.3,828.8 604.0,824.6 606.7,808.4 609.4,816.9 612.0,787.7 614.7,804.0 617.4,819.8 620.0,819.2 622.7,808.6 625.4,823.6 628.1,818.6 630.7,811.2 633.4,823.9 636.1,835.6 638.8,825.1 641.4,832.2 644.1,819.6 646.8,834.4 649.5,837.8 652.1,823.5 654.8,834.4 657.5,821.6 660.2,818.2 662.8,816.3 665.5,815.6 668.2,808.7 670.9,813.1 673.5,820.2 676.2,822.6 678.9,809.6 681.6,820.9 684.2,821.4 686.9,829.4 689.6,828.4 692.3,840.1 694.9,835.2" fill="none" stroke="#a3a3a3" stroke-width="0.85" stroke-linejoin="round"/>
<polyline points="55.8,823.7 58.5,811.7 61.1,821.9 63.8,806.7 66.5,797.5 69.2,811.7 71.8,807.3 74.5,808.8 77.2,805.7 79.9,801.6 82.5,808.4 85.2,806.0 87.9,795.5 90.6,794.0 93.2,797.0 95.9,802.9 98.6,804.5 101.3,800.1 103.9,798.2 106.6,800.8 109.3,803.8 112.0,801.6 114.6,804.7 117.3,801.1 120.0,805.2 122.7,812.6 125.3,803.0 128.0,804.7 130.7,806.0 133.4,802.6 136.0,802.7 138.7,804.0 141.4,799.8 144.0,800.6 146.7,798.7 149.4,796.2 152.1,804.3 154.7,801.3 157.4,803.1 160.1,805.6 162.8,800.9 165.4,798.9 168.1,796.5 170.8,800.1 173.5,798.9 176.1,799.2 178.8,796.6 181.5,803.5 184.2,805.9 186.8,806.1 189.5,797.0 192.2,795.3 194.9,800.2 197.5,795.2 200.2,801.6 202.9,798.2 205.6,800.2 208.2,802.7 210.9,802.6 213.6,802.0 216.2,804.8 218.9,809.2 221.6,800.7 224.3,800.9 226.9,800.8 229.6,803.8 232.3,800.8 235.0,805.9 237.6,801.7 240.3,807.1 243.0,803.6 245.7,804.3 248.3,805.5 251.0,807.7 253.7,804.7 256.4,803.9 259.0,804.1 261.7,802.4 264.4,807.1 267.1,807.9 269.7,800.6 272.4,801.4 275.1,802.4 277.8,801.7 280.4,799.1 283.1,804.8 285.8,797.3 288.5,803.5 291.1,803.3 293.8,806.6 296.5,799.2 299.1,797.9 301.8,798.6 304.5,799.8 307.2,800.2 309.8,800.0 312.5,798.1 315.2,802.4 317.9,801.8 320.5,803.2 323.2,803.0 325.9,808.1 328.6,804.2 331.2,805.4 333.9,809.4 336.6,813.1 339.3,804.2 341.9,810.3 344.6,810.5 347.3,804.0 350.0,802.8 352.6,803.0 355.3,802.4 358.0,809.7 360.7,806.0 363.3,803.4 366.0,799.6 368.7,807.3 371.4,802.8 374.0,806.8 376.7,804.2 379.4,806.6 382.0,803.1 384.7,803.7 387.4,809.0 390.1,803.8 392.7,801.0 395.4,793.3 398.1,805.8 400.8,804.6 403.4,807.5 406.1,796.7 408.8,797.8 411.5,803.1 414.1,802.4 416.8,803.5 419.5,801.9 422.2,806.5 424.8,801.7 427.5,796.6 430.2,794.9 432.9,801.1 435.5,802.4 438.2,791.8 440.9,794.3 443.6,793.1 446.2,799.4 448.9,800.3 451.6,805.8 454.3,802.7 456.9,805.7 459.6,813.3 462.3,807.0 464.9,803.2 467.6,810.3 470.3,809.4 473.0,802.9 475.6,801.2 478.3,799.6 481.0,804.5 483.7,805.9 486.3,805.8 489.0,806.1 491.7,787.9 494.4,798.0 497.0,791.5 499.7,792.6 502.4,796.9 505.1,803.4 507.7,795.1 510.4,802.0 513.1,798.2 515.8,805.5 518.4,802.0 521.1,800.9 523.8,802.8 526.5,793.7 529.1,801.5 531.8,805.0 534.5,793.9 537.1,797.5 539.8,806.7 542.5,800.4 545.2,798.1 547.8,792.7 550.5,803.3 553.2,812.0 555.9,800.2 558.5,801.1 561.2,806.0 563.9,802.5 566.6,798.6 569.2,810.8 571.9,800.4 574.6,811.5 577.3,803.4 579.9,796.7 582.6,804.7 585.3,794.4 588.0,811.7 590.6,816.8 593.3,820.2 596.0,806.6 598.7,817.5 601.3,790.4 604.0,797.5 606.7,792.8 609.4,797.0 612.0,811.4 614.7,803.6 617.4,805.2 620.0,814.7 622.7,791.1 625.4,797.2 628.1,794.4 630.7,803.8 633.4,807.4 636.1,808.1 638.8,815.5 641.4,812.1 644.1,817.6 646.8,817.5 649.5,802.2 652.1,805.2 654.8,790.4 657.5,795.6 660.2,799.5 662.8,811.0 665.5,809.7 668.2,814.1 670.9,795.6 673.5,808.4 676.2,826.6 678.9,808.8 681.6,807.4 684.2,814.7 686.9,820.4 689.6,810.7 692.3,819.1 694.9,809.5" fill="none" stroke="#a3a3a3" stroke-width="0.85" stroke-linejoin="round"/>
<polyline points="55.8,806.7 58.5,810.0 61.1,804.9 63.8,816.0 66.5,806.3 69.2,802.1 71.8,792.4 74.5,797.6 77.2,805.1 79.9,806.1 82.5,795.5 85.2,800.0 87.9,794.3 90.6,800.7 93.2,799.1 95.9,801.2 98.6,797.9 101.3,802.0 103.9,809.5 106.6,807.4 109.3,813.6 112.0,805.9 114.6,806.8 117.3,800.6 120.0,795.2 122.7,797.1 125.3,801.4 128.0,800.5 130.7,800.5 133.4,800.8 136.0,803.7 138.7,801.0 141.4,804.2 144.0,800.8 146.7,805.4 149.4,799.4 152.1,805.0 154.7,804.7 157.4,798.8 160.1,798.2 162.8,804.7 165.4,806.0 168.1,798.3 170.8,805.2 173.5,801.8 176.1,799.1 178.8,799.2 181.5,802.8 184.2,802.0 186.8,802.9 189.5,800.7 192.2,803.6 194.9,806.6 197.5,803.9 200.2,806.8 202.9,802.5 205.6,804.5 208.2,807.7 210.9,798.0 213.6,800.7 216.2,800.7 218.9,816.5 221.6,801.4 224.3,808.3 226.9,807.2 229.6,799.8 232.3,800.3 235.0,801.2 237.6,798.6 240.3,801.0 243.0,803.8 245.7,793.4 248.3,800.5 251.0,802.4 253.7,807.1 256.4,806.3 259.0,804.6 261.7,804.5 264.4,800.2 267.1,797.8 269.7,795.8 272.4,803.0 275.1,806.0 277.8,805.5 280.4,805.2 283.1,805.2 285.8,797.4 288.5,797.7 291.1,792.8 293.8,802.5 296.5,799.5 299.1,801.9 301.8,804.9 304.5,802.2 307.2,805.4 309.8,810.3 312.5,799.8 315.2,787.5 317.9,781.2 320.5,778.4 323.2,783.1 325.9,790.4 328.6,800.6 331.2,807.2 333.9,803.8 336.6,804.7 339.3,806.9 341.9,804.7 344.6,812.0 347.3,797.1 350.0,778.4 352.6,798.5 355.3,797.8 358.0,799.8 360.7,797.5 363.3,808.8 366.0,811.7 368.7,815.7 371.4,811.6 374.0,792.3 376.7,782.8 379.4,792.3 382.0,799.2 384.7,795.2 387.4,800.0 390.1,802.7 392.7,804.8 395.4,806.3 398.1,795.3 400.8,802.7 403.4,802.9 406.1,802.2 408.8,805.4 411.5,807.6 414.1,809.0 416.8,799.0 419.5,797.8 422.2,793.5 424.8,802.8 427.5,807.0 430.2,803.9 432.9,802.5 435.5,803.3 438.2,806.4 440.9,801.4 443.6,804.6 446.2,807.7 448.9,807.4 451.6,803.4 454.3,799.1 456.9,810.9 459.6,808.4 462.3,804.7 464.9,806.0 467.6,805.6 470.3,796.7 473.0,786.3 475.6,780.2 478.3,793.8 481.0,807.5 483.7,799.0 486.3,802.4 489.0,799.9 491.7,800.2 494.4,806.5 497.0,807.4 499.7,807.2 502.4,806.1 505.1,808.6 507.7,798.9 510.4,803.6 513.1,794.0 515.8,799.4 518.4,791.7 521.1,790.4 523.8,798.4 526.5,795.5 529.1,794.2 531.8,802.1 534.5,796.9 537.1,798.2 539.8,796.2 542.5,804.3 545.2,807.4 547.8,818.8 550.5,793.9 553.2,804.8 555.9,804.5 558.5,808.6 561.2,794.7 563.9,811.1 566.6,803.9 569.2,817.6 571.9,818.5 574.6,811.6 577.3,795.7 579.9,790.5 582.6,797.5 585.3,803.0 588.0,802.0 590.6,789.1 593.3,788.1 596.0,793.5 598.7,779.7 601.3,769.9 604.0,797.8 606.7,772.3 609.4,787.3 612.0,780.4 614.7,765.2 617.4,766.1 620.0,761.2 622.7,779.2 625.4,784.7 628.1,761.1 630.7,780.1 633.4,781.9 636.1,786.9 638.8,775.2 641.4,771.2 644.1,785.6 646.8,775.4 649.5,780.6 652.1,761.9 654.8,774.1 657.5,776.6 660.2,770.9 662.8,784.3 665.5,786.1 668.2,762.0 670.9,781.5 673.5,786.0 676.2,776.8 678.9,763.9 681.6,785.1 684.2,791.3 686.9,784.7 689.6,787.0 692.3,767.4 694.9,772.3" fill="none" stroke="#a3a3a3" stroke-width="0.85" stroke-linejoin="round"/>
<polyline points="55.8,800.1 58.5,807.2 61.1,810.3 63.8,800.6 66.5,803.3 69.2,800.5 71.8,804.1 74.5,804.8 77.2,791.5 79.9,804.1 82.5,802.8 85.2,804.2 87.9,808.7 90.6,809.5 93.2,804.1 95.9,801.5 98.6,808.9 101.3,808.1 103.9,805.6 106.6,804.6 109.3,802.5 112.0,803.0 114.6,794.3 117.3,799.2 120.0,797.5 122.7,799.2 125.3,801.5 128.0,805.5 130.7,806.3 133.4,800.8 136.0,801.5 138.7,798.5 141.4,800.3 144.0,802.0 146.7,803.8 149.4,801.6 152.1,805.0 154.7,808.3 157.4,802.3 160.1,802.5 162.8,796.8 165.4,801.9 168.1,803.8 170.8,795.4 173.5,795.7 176.1,798.1 178.8,804.3 181.5,805.3 184.2,808.4 186.8,804.6 189.5,798.0 192.2,807.6 194.9,803.0 197.5,795.6 200.2,800.9 202.9,801.6 205.6,807.8 208.2,801.8 210.9,801.2 213.6,800.9 216.2,799.7 218.9,796.6 221.6,801.7 224.3,802.5 226.9,805.3 229.6,803.5 232.3,800.7 235.0,801.9 237.6,806.7 240.3,804.3 243.0,805.3 245.7,802.5 248.3,810.0 251.0,804.4 253.7,807.3 256.4,808.1 259.0,805.3 261.7,804.5 264.4,801.6 267.1,807.5 269.7,799.8 272.4,793.3 275.1,777.5 277.8,784.4 280.4,794.4 283.1,798.9 285.8,803.2 288.5,808.4 291.1,807.1 293.8,806.2 296.5,805.4 299.1,805.9 301.8,809.1 304.5,807.5 307.2,809.1 309.8,803.4 312.5,798.7 315.2,795.7 317.9,801.4 320.5,803.4 323.2,797.1 325.9,797.8 328.6,786.5 331.2,800.1 333.9,795.3 336.6,799.9 339.3,797.7 341.9,800.6 344.6,794.4 347.3,800.0 350.0,789.0 352.6,795.9 355.3,786.8 358.0,779.4 360.7,797.1 363.3,802.6 366.0,801.1 368.7,803.4 371.4,798.0 374.0,802.6 376.7,798.3 379.4,802.8 382.0,797.6 384.7,806.7 387.4,800.5 390.1,776.7 392.7,767.9 395.4,785.6 398.1,799.5 400.8,801.4 403.4,806.0 406.1,804.7 408.8,790.6 411.5,798.1 414.1,805.4 416.8,797.4 419.5,796.2 422.2,801.3 424.8,802.8 427.5,810.4 430.2,803.4 432.9,800.4 435.5,802.3 438.2,799.4 440.9,798.1 443.6,804.9 446.2,794.4 448.9,798.4 451.6,802.0 454.3,797.9 456.9,815.2 459.6,801.6 462.3,801.5 464.9,800.6 467.6,801.9 470.3,801.2 473.0,806.9 475.6,799.0 478.3,798.3 481.0,785.7 483.7,779.0 486.3,777.7 489.0,803.6 491.7,793.0 494.4,802.7 497.0,805.3 499.7,800.7 502.4,800.8 505.1,793.7 507.7,807.1 510.4,805.7 513.1,805.5 515.8,800.7 518.4,809.5 521.1,802.6 523.8,798.4 526.5,802.7 529.1,795.3 531.8,796.6 534.5,785.5 537.1,778.2 539.8,772.7 542.5,779.0 545.2,791.6 547.8,793.0 550.5,788.8 553.2,792.5 555.9,791.2 558.5,800.3 561.2,811.9 563.9,817.7 566.6,805.8 569.2,811.4 571.9,800.1 574.6,809.8 577.3,801.0 579.9,803.5 582.6,817.2 585.3,821.8 588.0,806.2 590.6,785.9 593.3,772.5 596.0,770.8 598.7,796.0 601.3,801.7 604.0,809.0 606.7,794.5 609.4,797.3 612.0,795.8 614.7,785.4 617.4,794.4 620.0,801.1 622.7,774.3 625.4,781.0 628.1,799.0 630.7,783.2 633.4,775.0 636.1,804.1 638.8,800.2 641.4,783.6 644.1,792.5 646.8,811.0 649.5,800.6 652.1,783.1 654.8,791.5 657.5,797.6 660.2,798.1 662.8,793.3 665.5,789.6 668.2,791.2 670.9,803.1 673.5,779.6 676.2,793.1 678.9,810.2 681.6,802.0 684.2,806.1 686.9,802.6 689.6,786.3 692.3,810.0 694.9,797.6" fill="none" stroke="#a3a3a3" stroke-width="0.85" stroke-linejoin="round"/>
<polyline points="55.8,794.9 58.5,806.5 61.1,802.7 63.8,813.5 66.5,825.1 69.2,802.1 71.8,793.9 74.5,801.5 77.2,799.4 79.9,797.4 82.5,814.8 85.2,806.8 87.9,814.1 90.6,802.1 93.2,805.2 95.9,800.2 98.6,798.5 101.3,802.2 103.9,805.0 106.6,799.2 109.3,777.3 112.0,798.2 114.6,811.2 117.3,802.1 120.0,801.7 122.7,795.0 125.3,801.4 128.0,794.7 130.7,799.1 133.4,788.3 136.0,804.4 138.7,812.9 141.4,799.2 144.0,803.7 146.7,811.7 149.4,806.1 152.1,799.2 154.7,811.9 157.4,806.2 160.1,802.3 162.8,806.7 165.4,798.3 168.1,806.3 170.8,789.6 173.5,803.4 176.1,809.9 178.8,795.5 181.5,796.1 184.2,800.8 186.8,802.2 189.5,804.5 192.2,806.8 194.9,804.4 197.5,796.8 200.2,812.3 202.9,808.1 205.6,798.4 208.2,802.6 210.9,798.4 213.6,790.2 216.2,803.3 218.9,806.4 221.6,802.9 224.3,801.8 226.9,803.3 229.6,805.2 232.3,790.9 235.0,793.9 237.6,793.8 240.3,793.3 243.0,795.0 245.7,809.2 248.3,808.6 251.0,802.2 253.7,801.0 256.4,799.7 259.0,804.0 261.7,820.0 264.4,820.7 267.1,817.9 269.7,811.9 272.4,801.1 275.1,808.7 277.8,802.0 280.4,804.8 283.1,806.9 285.8,800.6 288.5,784.5 291.1,793.3 293.8,792.3 296.5,797.1 299.1,809.3 301.8,797.2 304.5,800.0 307.2,793.5 309.8,803.2 312.5,792.7 315.2,797.1 317.9,794.3 320.5,807.6 323.2,803.8 325.9,798.9 328.6,783.8 331.2,803.0 333.9,804.2 336.6,805.2 339.3,800.9 341.9,803.6 344.6,808.3 347.3,802.3 350.0,805.5 352.6,797.8 355.3,814.2 358.0,808.2 360.7,805.4 363.3,799.3 366.0,796.2 368.7,794.0 371.4,797.3 374.0,811.0 376.7,806.7 379.4,792.1 382.0,799.8 384.7,811.2 387.4,812.0 390.1,809.9 392.7,798.6 395.4,798.9 398.1,795.1 400.8,804.9 403.4,806.8 406.1,796.5 408.8,795.6 411.5,799.6 414.1,790.5 416.8,798.8 419.5,802.7 422.2,795.5 424.8,806.2 427.5,791.7 430.2,799.1 432.9,808.6 435.5,807.6 438.2,812.4 440.9,803.8 443.6,789.9 446.2,819.3 448.9,818.8 451.6,816.2 454.3,798.7 456.9,813.7 459.6,793.8 462.3,806.4 464.9,796.0 467.6,803.1 470.3,806.8 473.0,815.0 475.6,799.0 478.3,801.2 481.0,785.0 483.7,821.7 486.3,763.5 489.0,801.3 491.7,814.0 494.4,808.4 497.0,817.2 499.7,813.1 502.4,798.7 505.1,817.6 507.7,801.2 510.4,800.6 513.1,788.9 515.8,793.3 518.4,790.1 521.1,791.4 523.8,813.6 526.5,803.0 529.1,805.0 531.8,795.0 534.5,795.6 537.1,794.0 539.8,809.7 542.5,793.9 545.2,792.1 547.8,805.7 550.5,799.4 553.2,803.3 555.9,808.6 558.5,816.1 561.2,815.4 563.9,800.3 566.6,785.9 569.2,802.8 571.9,784.1 574.6,794.3 577.3,788.8 579.9,796.6 582.6,800.1 585.3,786.7 588.0,812.0 590.6,807.4 593.3,798.0 596.0,822.6 598.7,797.0 601.3,782.9 604.0,801.3 606.7,817.1 609.4,815.1 612.0,783.1 614.7,772.9 617.4,780.6 620.0,788.5 622.7,772.6 625.4,805.4 628.1,810.1 630.7,782.2 633.4,775.6 636.1,762.0 638.8,765.8 641.4,768.3 644.1,781.7 646.8,777.4 649.5,758.4 652.1,767.1 654.8,812.9 657.5,792.1 660.2,755.1 662.8,762.6 665.5,807.6 668.2,761.8 670.9,754.4 673.5,817.9 676.2,805.1 678.9,782.9 681.6,787.6 684.2,798.1 686.9,777.0 689.6,770.0 692.3,755.9 694.9,766.4" fill="none" stroke="#a3a3a3" stroke-width="0.85" stroke-linejoin="round"/>
<polyline points="55.8,805.9 58.5,795.8 61.1,789.3 63.8,787.9 66.5,804.2 69.2,793.6 71.8,799.4 74.5,806.3 77.2,804.3 79.9,795.4 82.5,802.7 85.2,806.3 87.9,812.9 90.6,796.1 93.2,802.9 95.9,809.6 98.6,802.5 101.3,800.6 103.9,797.4 106.6,797.7 109.3,812.2 112.0,806.0 114.6,811.8 117.3,822.6 120.0,806.9 122.7,801.2 125.3,800.3 128.0,807.4 130.7,806.3 133.4,798.9 136.0,798.9 138.7,812.2 141.4,799.7 144.0,801.1 146.7,796.2 149.4,799.4 152.1,795.4 154.7,796.5 157.4,805.2 160.1,804.6 162.8,801.3 165.4,804.9 168.1,801.8 170.8,808.2 173.5,807.9 176.1,804.5 178.8,799.5 181.5,798.8 184.2,797.4 186.8,808.5 189.5,797.7 192.2,794.7 194.9,801.3 197.5,803.6 200.2,802.9 202.9,803.6 205.6,800.0 208.2,794.9 210.9,802.4 213.6,805.8 216.2,798.1 218.9,797.6 221.6,807.1 224.3,802.0 226.9,800.3 229.6,802.2 232.3,797.1 235.0,800.8 237.6,805.0 240.3,807.1 243.0,804.3 245.7,807.4 248.3,802.5 251.0,799.5 253.7,797.4 256.4,796.2 259.0,799.2 261.7,791.7 264.4,798.4 267.1,801.5 269.7,804.8 272.4,806.2 275.1,802.7 277.8,797.8 280.4,811.5 283.1,798.7 285.8,803.0 288.5,805.0 291.1,803.5 293.8,800.2 296.5,803.9 299.1,805.0 301.8,801.6 304.5,803.6 307.2,800.6 309.8,808.1 312.5,797.9 315.2,799.3 317.9,800.8 320.5,805.1 323.2,803.7 325.9,798.6 328.6,802.6 331.2,796.4 333.9,803.2 336.6,801.8 339.3,795.8 341.9,791.3 344.6,801.3 347.3,807.3 350.0,802.2 352.6,797.9 355.3,796.6 358.0,793.3 360.7,805.2 363.3,804.4 366.0,810.3 368.7,804.1 371.4,802.7 374.0,801.3 376.7,803.8 379.4,794.9 382.0,805.1 384.7,811.3 387.4,808.1 390.1,811.0 392.7,808.7 395.4,811.1 398.1,811.9 400.8,803.5 403.4,815.2 406.1,806.5 408.8,795.5 411.5,793.3 414.1,792.6 416.8,793.9 419.5,787.5 422.2,793.8 424.8,797.4 427.5,793.7 430.2,811.5 432.9,817.8 435.5,795.4 438.2,800.7 440.9,806.6 443.6,805.6 446.2,800.6 448.9,797.1 451.6,798.8 454.3,800.1 456.9,803.6 459.6,806.3 462.3,801.3 464.9,807.2 467.6,800.7 470.3,810.2 473.0,816.6 475.6,804.9 478.3,809.2 481.0,805.4 483.7,804.3 486.3,806.0 489.0,804.6 491.7,811.6 494.4,796.0 497.0,791.2 499.7,790.1 502.4,800.3 505.1,802.2 507.7,793.1 510.4,798.9 513.1,802.7 515.8,812.0 518.4,813.6 521.1,805.7 523.8,808.2 526.5,796.9 529.1,789.2 531.8,817.6 534.5,805.0 537.1,798.2 539.8,801.6 542.5,786.0 545.2,796.9 547.8,795.9 550.5,794.4 553.2,796.0 555.9,809.9 558.5,801.1 561.2,799.1 563.9,801.1 566.6,817.3 569.2,804.5 571.9,808.8 574.6,806.2 577.3,830.8 579.9,833.7 582.6,819.7 585.3,827.5 588.0,832.8 590.6,820.9 593.3,820.0 596.0,802.4 598.7,840.0 601.3,805.3 604.0,819.8 606.7,817.5 609.4,839.0 612.0,829.4 614.7,836.6 617.4,827.6 620.0,818.9 622.7,825.0 625.4,828.0 628.1,823.8 630.7,817.0 633.4,807.9 636.1,813.9 638.8,842.8 641.4,819.4 644.1,823.7 646.8,840.5 649.5,818.8 652.1,861.0 654.8,852.7 657.5,815.6 660.2,830.3 662.8,820.5 665.5,823.1 668.2,836.7 670.9,840.6 673.5,818.4 676.2,845.6 678.9,826.8 681.6,819.4 684.2,834.2 686.9,821.1 689.6,810.8 692.3,811.1 694.9,820.0" fill="none" stroke="#a3a3a3" stroke-width="0.85" stroke-linejoin="round"/>
<polyline points="55.8,799.2 58.5,810.3 61.1,782.0 63.8,806.0 66.5,794.7 69.2,808.3 71.8,789.9 74.5,791.8 77.2,797.6 79.9,796.9 82.5,809.6 85.2,795.6 87.9,801.3 90.6,808.0 93.2,801.2 95.9,812.0 98.6,802.3 101.3,805.9 103.9,799.9 106.6,798.6 109.3,798.6 112.0,791.8 114.6,811.6 117.3,813.8 120.0,805.7 122.7,804.4 125.3,805.3 128.0,799.9 130.7,801.9 133.4,799.4 136.0,798.5 138.7,806.5 141.4,803.6 144.0,797.8 146.7,800.9 149.4,803.4 152.1,800.8 154.7,800.5 157.4,799.6 160.1,802.2 162.8,804.9 165.4,805.9 168.1,802.0 170.8,800.5 173.5,806.0 176.1,802.8 178.8,802.2 181.5,800.0 184.2,807.4 186.8,803.5 189.5,798.2 192.2,804.4 194.9,808.5 197.5,798.4 200.2,799.0 202.9,799.5 205.6,796.0 208.2,795.3 210.9,795.1 213.6,803.8 216.2,809.0 218.9,796.1 221.6,800.1 224.3,795.6 226.9,796.6 229.6,801.6 232.3,806.2 235.0,808.5 237.6,793.6 240.3,802.6 243.0,801.0 245.7,792.6 248.3,797.6 251.0,807.6 253.7,814.6 256.4,814.8 259.0,795.5 261.7,790.6 264.4,794.1 267.1,796.2 269.7,805.0 272.4,804.8 275.1,805.4 277.8,803.4 280.4,798.2 283.1,788.1 285.8,797.2 288.5,801.4 291.1,803.1 293.8,802.3 296.5,798.7 299.1,801.8 301.8,795.9 304.5,801.5 307.2,803.9 309.8,797.4 312.5,796.5 315.2,803.5 317.9,805.6 320.5,812.9 323.2,807.7 325.9,791.3 328.6,785.9 331.2,795.3 333.9,796.5 336.6,789.1 339.3,798.2 341.9,792.6 344.6,798.8 347.3,790.9 350.0,803.5 352.6,804.5 355.3,797.8 358.0,791.6 360.7,792.6 363.3,801.1 366.0,796.2 368.7,791.4 371.4,794.4 374.0,802.7 376.7,799.7 379.4,800.8 382.0,804.9 384.7,777.5 387.4,807.2 390.1,803.4 392.7,806.4 395.4,799.7 398.1,777.2 400.8,806.0 403.4,798.7 406.1,781.4 408.8,778.5 411.5,781.4 414.1,787.0 416.8,825.2 419.5,806.5 422.2,789.6 424.8,803.8 427.5,820.2 430.2,798.5 432.9,795.1 435.5,802.5 438.2,796.0 440.9,791.9 443.6,815.9 446.2,801.0 448.9,813.4 451.6,815.7 454.3,788.6 456.9,797.4 459.6,801.4 462.3,803.3 464.9,798.9 467.6,794.6 470.3,808.7 473.0,800.1 475.6,788.4 478.3,779.2 481.0,787.3 483.7,800.2 486.3,794.3 489.0,796.1 491.7,813.9 494.4,828.5 497.0,819.1 499.7,801.3 502.4,793.1 505.1,794.4 507.7,807.8 510.4,808.1 513.1,795.8 515.8,787.5 518.4,803.3 521.1,791.0 523.8,803.6 526.5,799.4 529.1,804.5 531.8,812.1 534.5,793.9 537.1,807.4 539.8,807.6 542.5,815.1 545.2,814.3 547.8,819.1 550.5,797.0 553.2,816.5 555.9,825.5 558.5,802.7 561.2,806.3 563.9,809.8 566.6,814.1 569.2,816.0 571.9,807.1 574.6,820.7 577.3,844.5 579.9,837.2 582.6,842.1 585.3,836.0 588.0,849.8 590.6,835.2 593.3,835.3 596.0,824.7 598.7,834.6 601.3,833.1 604.0,876.5 606.7,845.0 609.4,900.5 612.0,874.9 614.7,899.5 617.4,913.6 620.0,919.0 622.7,912.7 625.4,894.3 628.1,913.2 630.7,908.6 633.4,951.1 636.1,910.8 638.8,892.9 641.4,869.9 644.1,898.4 646.8,874.3 649.5,872.2 652.1,895.4 654.8,871.7 657.5,886.1 660.2,882.0 662.8,887.8 665.5,929.7 668.2,947.7 670.9,924.4 673.5,897.1 676.2,879.4 678.9,891.4 681.6,884.6 684.2,881.1 686.9,882.6 689.6,882.7 692.3,899.5 694.9,892.9" fill="none" stroke="#a3a3a3" stroke-width="0.85" stroke-linejoin="round"/>
<polyline points="55.8,807.1 58.5,810.4 61.1,815.0 63.8,819.8 66.5,815.0 69.2,813.1 71.8,814.2 74.5,814.6 77.2,814.2 79.9,814.2 82.5,811.1 85.2,815.7 87.9,811.1 90.6,812.7 93.2,814.2 95.9,815.7 98.6,811.1 101.3,812.2 103.9,810.4 106.6,811.1 109.3,810.1 112.0,811.6 114.6,807.1 117.3,813.1 120.0,807.7 122.7,808.9 125.3,813.1 128.0,813.1 130.7,810.1 133.4,809.2 136.0,808.6 138.7,808.2 141.4,808.9 144.0,808.9 146.7,808.2 149.4,813.1 152.1,809.2 154.7,810.4 157.4,813.1 160.1,808.2 162.8,804.4 165.4,803.6 168.1,802.1 170.8,806.6 173.5,804.7 176.1,804.4 178.8,801.0 181.5,806.1 184.2,801.7 186.8,801.7 189.5,804.7 192.2,803.6 194.9,805.9 197.5,810.1 200.2,809.7 202.9,808.6 205.6,810.1 208.2,805.9 210.9,802.1 213.6,806.6 216.2,806.2 218.9,807.7 221.6,808.4 224.3,809.2 226.9,804.7 229.6,804.0 232.3,804.4 235.0,805.6 237.6,803.6 240.3,802.2 243.0,800.1 245.7,804.7 248.3,802.6 251.0,801.3 253.7,805.9 256.4,802.6 259.0,801.9 261.7,800.6 264.4,804.7 267.1,804.0 269.7,804.7 272.4,805.1 275.1,799.5 277.8,801.6 280.4,802.8 283.1,804.4 285.8,806.2 288.5,804.7 291.1,798.6 293.8,799.8 296.5,799.4 299.1,798.6 301.8,803.6 304.5,799.9 307.2,796.5 309.8,806.6 312.5,801.0 315.2,798.6 317.9,806.2 320.5,801.6 323.2,799.5 325.9,798.3 328.6,796.8 331.2,802.2 333.9,803.6 336.6,794.5 339.3,794.1 341.9,801.0 344.6,801.0 347.3,806.1 350.0,811.2 352.6,805.0 355.3,799.9 358.0,798.2 360.7,800.5 363.3,808.3 366.0,808.8 368.7,801.2 371.4,791.6 374.0,811.8 376.7,803.5 379.4,801.2 382.0,805.0 384.7,815.1 387.4,798.9 390.1,802.2 392.7,802.2 395.4,802.7 398.1,803.5 400.8,800.5 403.4,796.6 406.1,787.6 408.8,791.3 411.5,790.6 414.1,800.1 416.8,798.6 419.5,799.2 422.2,796.2 424.8,800.5 427.5,799.2 430.2,801.6 432.9,803.5 435.5,798.8 438.2,796.2 440.9,797.7 443.6,799.9 446.2,801.9 448.9,808.3 451.6,800.5 454.3,795.9 456.9,794.4 459.6,801.2 462.3,801.2 464.9,801.2 467.6,794.1 470.3,793.6 473.0,804.2 475.6,806.1 478.3,808.8 481.0,795.6 483.7,792.0 486.3,787.6 489.0,796.6 491.7,805.0 494.4,806.5 497.0,803.5 499.7,794.7 502.4,811.0 505.1,813.7 507.7,812.2 510.4,815.3 513.1,815.3 515.8,806.5 518.4,798.2 521.1,801.2 523.8,799.2 526.5,802.7 529.1,797.7 531.8,801.2 534.5,795.1 537.1,801.2 539.8,813.3 542.5,811.8 545.2,813.3 547.8,807.2 550.5,804.2 553.2,808.8 555.9,811.8 558.5,808.9 561.2,807.4 563.9,782.7 566.6,792.0 569.2,806.6 571.9,830.9 574.6,820.4 577.3,815.0 579.9,812.7 582.6,805.9 585.3,808.2 588.0,811.2 590.6,802.8 593.3,810.0 596.0,811.5 598.7,813.5 601.3,818.0 604.0,822.5 606.7,818.8 609.4,827.0 612.0,799.9 614.7,796.4 617.4,810.4 620.0,807.4 622.7,807.5 625.4,808.9 628.1,814.9 630.7,805.9 633.4,802.1 636.1,818.5 638.8,814.2 641.4,819.9 644.1,795.4 646.8,780.5 649.5,795.2 652.1,791.2 654.8,787.2 657.5,784.7 660.2,784.7 662.8,782.3 665.5,766.7 668.2,776.2 670.9,780.2 673.5,779.2 676.2,774.3 678.9,769.1 681.6,773.1 684.2,775.5 686.9,778.0 689.6,774.9 692.3,763.2 694.9,760.5" fill="none" stroke="#000" stroke-width="1.35" stroke-linejoin="round"/>
<path d="M43.9,566.00 L43.9,1040.80 L708,1040.80" fill="none" stroke="#262626" stroke-width="1.7" stroke-linejoin="round"/>
<line x1="55.80" y1="1040.80" x2="55.80" y2="1048.50" stroke="#262626" stroke-width="1.5"/>
<text transform="translate(58.40,1055.40) rotate(-45)" text-anchor="end" class="tx">1999</text>
<line x1="87.89" y1="1040.80" x2="87.89" y2="1048.50" stroke="#262626" stroke-width="1.5"/>
<text transform="translate(90.49,1055.40) rotate(-45)" text-anchor="end" class="tx">2000</text>
<line x1="119.98" y1="1040.80" x2="119.98" y2="1048.50" stroke="#262626" stroke-width="1.5"/>
<text transform="translate(122.58,1055.40) rotate(-45)" text-anchor="end" class="tx">2001</text>
<line x1="152.07" y1="1040.80" x2="152.07" y2="1048.50" stroke="#262626" stroke-width="1.5"/>
<text transform="translate(154.67,1055.40) rotate(-45)" text-anchor="end" class="tx">2002</text>
<line x1="184.16" y1="1040.80" x2="184.16" y2="1048.50" stroke="#262626" stroke-width="1.5"/>
<text transform="translate(186.76,1055.40) rotate(-45)" text-anchor="end" class="tx">2003</text>
<line x1="216.25" y1="1040.80" x2="216.25" y2="1048.50" stroke="#262626" stroke-width="1.5"/>
<text transform="translate(218.85,1055.40) rotate(-45)" text-anchor="end" class="tx">2004</text>
<line x1="248.34" y1="1040.80" x2="248.34" y2="1048.50" stroke="#262626" stroke-width="1.5"/>
<text transform="translate(250.94,1055.40) rotate(-45)" text-anchor="end" class="tx">2005</text>
<line x1="280.43" y1="1040.80" x2="280.43" y2="1048.50" stroke="#262626" stroke-width="1.5"/>
<text transform="translate(283.03,1055.40) rotate(-45)" text-anchor="end" class="tx">2006</text>
<line x1="312.52" y1="1040.80" x2="312.52" y2="1048.50" stroke="#262626" stroke-width="1.5"/>
<text transform="translate(315.12,1055.40) rotate(-45)" text-anchor="end" class="tx">2007</text>
<line x1="344.61" y1="1040.80" x2="344.61" y2="1048.50" stroke="#262626" stroke-width="1.5"/>
<text transform="translate(347.21,1055.40) rotate(-45)" text-anchor="end" class="tx">2008</text>
<line x1="376.70" y1="1040.80" x2="376.70" y2="1048.50" stroke="#262626" stroke-width="1.5"/>
<text transform="translate(379.30,1055.40) rotate(-45)" text-anchor="end" class="tx">2009</text>
<line x1="408.79" y1="1040.80" x2="408.79" y2="1048.50" stroke="#262626" stroke-width="1.5"/>
<text transform="translate(411.39,1055.40) rotate(-45)" text-anchor="end" class="tx">2010</text>
<line x1="440.88" y1="1040.80" x2="440.88" y2="1048.50" stroke="#262626" stroke-width="1.5"/>
<text transform="translate(443.48,1055.40) rotate(-45)" text-anchor="end" class="tx">2011</text>
<line x1="472.97" y1="1040.80" x2="472.97" y2="1048.50" stroke="#262626" stroke-width="1.5"/>
<text transform="translate(475.57,1055.40) rotate(-45)" text-anchor="end" class="tx">2012</text>
<line x1="505.06" y1="1040.80" x2="505.06" y2="1048.50" stroke="#262626" stroke-width="1.5"/>
<text transform="translate(507.66,1055.40) rotate(-45)" text-anchor="end" class="tx">2013</text>
<line x1="537.15" y1="1040.80" x2="537.15" y2="1048.50" stroke="#262626" stroke-width="1.5"/>
<text transform="translate(539.75,1055.40) rotate(-45)" text-anchor="end" class="tx">2014</text>
<line x1="569.24" y1="1040.80" x2="569.24" y2="1048.50" stroke="#262626" stroke-width="1.5"/>
<text transform="translate(571.84,1055.40) rotate(-45)" text-anchor="end" class="tx">2015</text>
<line x1="601.33" y1="1040.80" x2="601.33" y2="1048.50" stroke="#262626" stroke-width="1.5"/>
<text transform="translate(603.93,1055.40) rotate(-45)" text-anchor="end" class="tx">2016</text>
<line x1="633.42" y1="1040.80" x2="633.42" y2="1048.50" stroke="#262626" stroke-width="1.5"/>
<text transform="translate(636.02,1055.40) rotate(-45)" text-anchor="end" class="tx">2017</text>
<line x1="665.51" y1="1040.80" x2="665.51" y2="1048.50" stroke="#262626" stroke-width="1.5"/>
<text transform="translate(668.11,1055.40) rotate(-45)" text-anchor="end" class="tx">2018</text>
<line x1="697.60" y1="1040.80" x2="697.60" y2="1048.50" stroke="#262626" stroke-width="1.5"/>
<text transform="translate(700.20,1055.40) rotate(-45)" text-anchor="end" class="tx">2019</text>
<text transform="translate(35.9,634.10) rotate(-90)" text-anchor="middle" class="t">300</text>
<text transform="translate(35.9,690.50) rotate(-90)" text-anchor="middle" class="t">200</text>
<text transform="translate(35.9,746.90) rotate(-90)" text-anchor="middle" class="t">100</text>
<text transform="translate(35.9,803.30) rotate(-90)" text-anchor="middle" class="t">0</text>
<text transform="translate(35.9,859.70) rotate(-90)" text-anchor="middle" class="t">−100</text>
<text transform="translate(35.9,916.10) rotate(-90)" text-anchor="middle" class="t">−200</text>
<text transform="translate(35.9,972.50) rotate(-90)" text-anchor="middle" class="t">−300</text>
<text transform="translate(11.2,803.20) rotate(-90)" text-anchor="middle" class="ty">Policy effect on handgun BC rate</text>
<text x="375.4" y="556.90" text-anchor="middle" class="ti">Washington</text>
<text x="46.5" y="579.50" class="t">Diff = 4.0%</text>
<text x="46.5" y="594.50" class="t">p = 0.3214</text>
</svg>
</body></html>
